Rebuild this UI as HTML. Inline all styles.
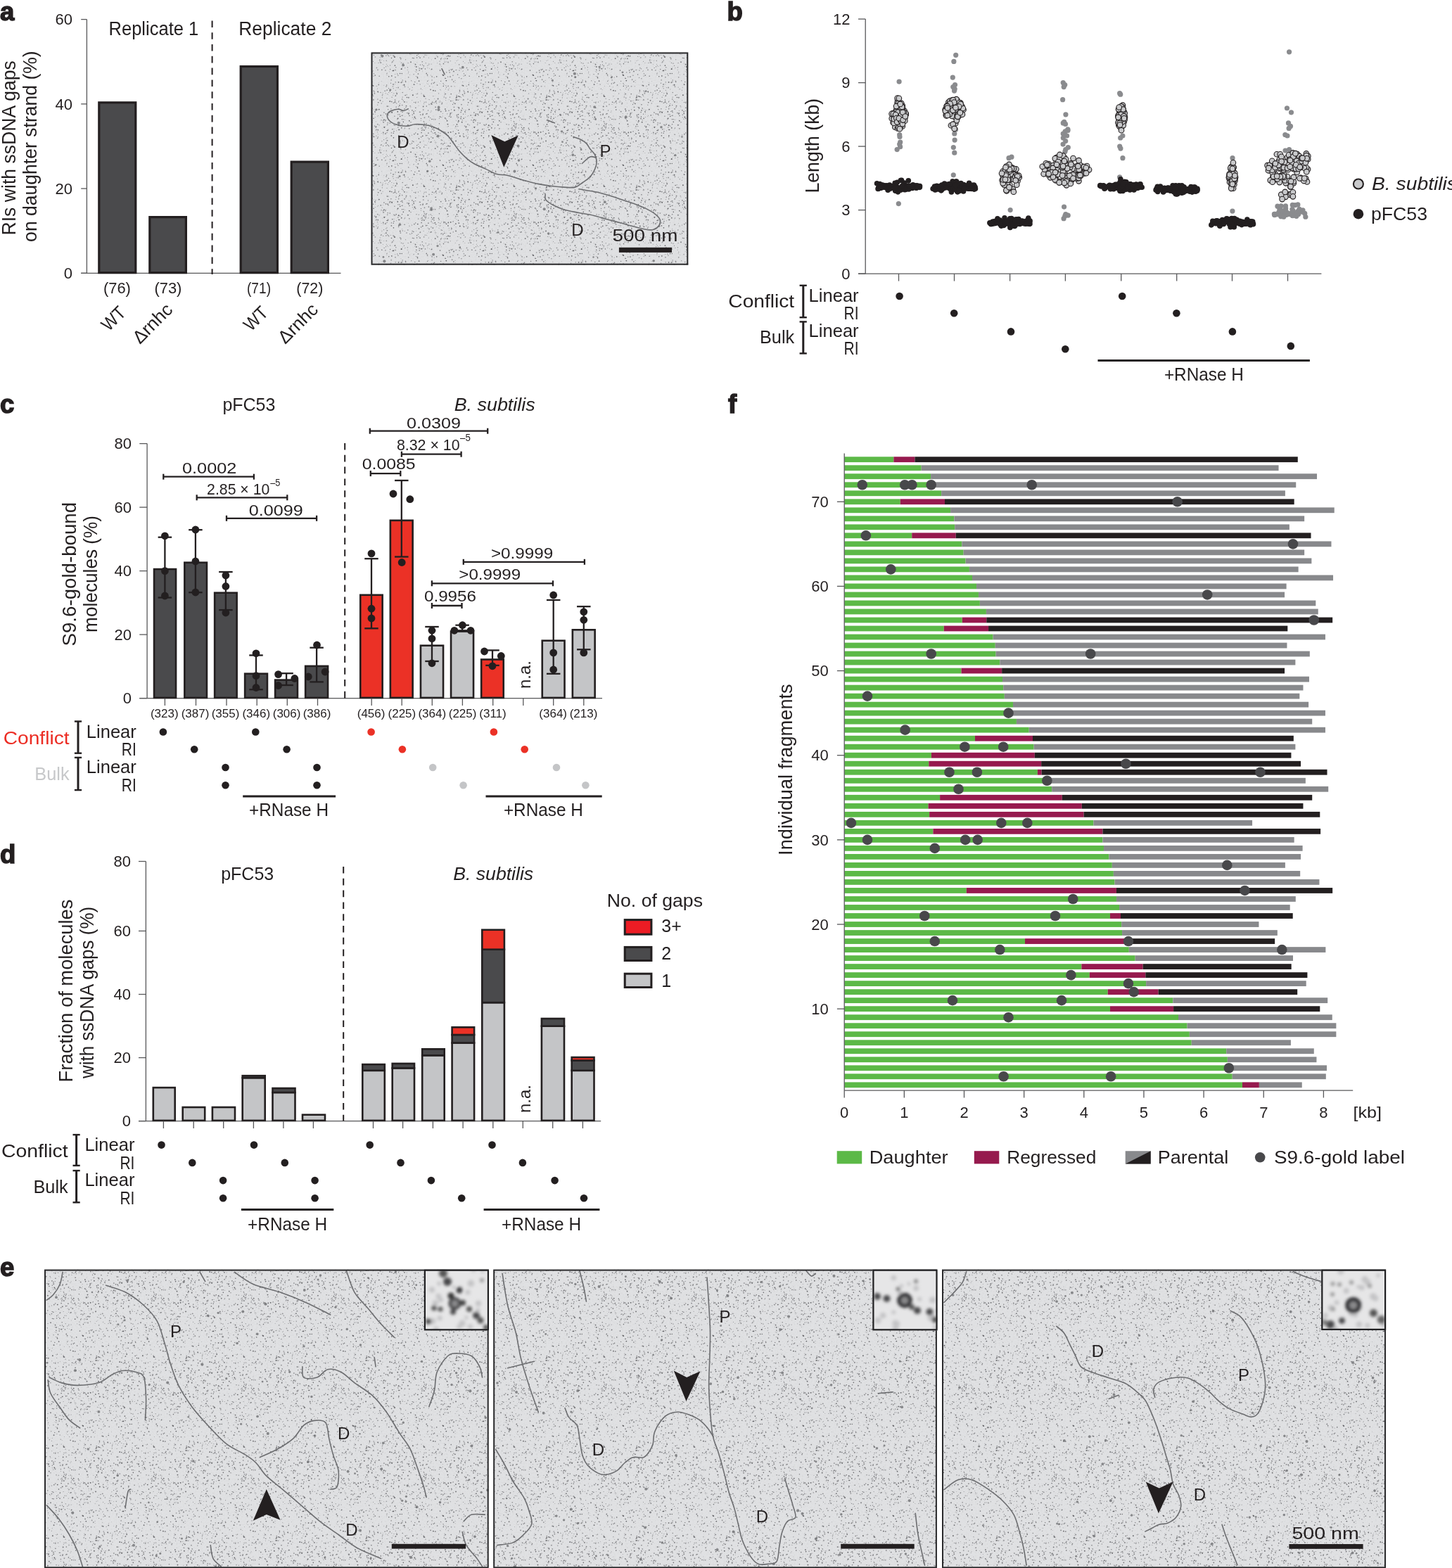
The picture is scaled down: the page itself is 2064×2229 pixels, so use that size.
<!DOCTYPE html>
<html><head><meta charset="utf-8"><title>Figure</title>
<style>html,body{margin:0;padding:0;background:#fff;}svg{display:block;}</style></head>
<body><svg width="2064" height="2229" viewBox="0 0 2064 2229" font-family="'Liberation Sans', Arial, sans-serif" fill="#231f20">
<rect width="2064" height="2229" fill="#fff"/>
<defs><filter id="grain" x="0" y="0" width="100%" height="100%"><feTurbulence type="fractalNoise" baseFrequency="0.45" numOctaves="2" seed="3"/><feColorMatrix type="matrix" values="0 0 0 0 0.5  0 0 0 0 0.5  0 0 0 0 0.5  0 -1.5 0 0 0.8"/></filter><pattern id="spat0" x="0" y="0" width="128" height="128" patternUnits="userSpaceOnUse"><g fill="#3c3c40"><circle cx="79.73" cy="94.95" r="0.84" fill-opacity="0.77"/><circle cx="94.71" cy="118.06" r="0.42" fill-opacity="0.56"/><circle cx="120.75" cy="83.07" r="0.9" fill-opacity="0.4"/><circle cx="60.04" cy="31.56" r="0.7" fill-opacity="0.61"/><circle cx="1.68" cy="27.74" r="0.55" fill-opacity="0.76"/><circle cx="129.68" cy="27.74" r="0.55" fill-opacity="0.76"/><circle cx="98.01" cy="20.43" r="0.84" fill-opacity="0.41"/><circle cx="79.03" cy="16.22" r="0.4" fill-opacity="0.74"/><circle cx="26.81" cy="27.58" r="0.94" fill-opacity="0.74"/><circle cx="37.03" cy="123.07" r="0.7" fill-opacity="0.66"/><circle cx="26.21" cy="120.44" r="0.78" fill-opacity="0.78"/><circle cx="114.4" cy="38.24" r="0.6" fill-opacity="0.42"/><circle cx="18.65" cy="8.34" r="0.57" fill-opacity="0.62"/><circle cx="0.43" cy="86.78" r="0.59" fill-opacity="0.49"/><circle cx="128.43" cy="86.78" r="0.59" fill-opacity="0.49"/><circle cx="104.77" cy="61.54" r="0.57" fill-opacity="0.57"/><circle cx="90.2" cy="7.3" r="0.94" fill-opacity="0.36"/><circle cx="95.97" cy="108.14" r="0.41" fill-opacity="0.7"/><circle cx="46.87" cy="74.05" r="0.4" fill-opacity="0.37"/><circle cx="23.16" cy="122.26" r="0.51" fill-opacity="0.69"/><circle cx="119" cy="120.58" r="0.59" fill-opacity="0.51"/><circle cx="67.16" cy="99.28" r="0.46" fill-opacity="0.69"/><circle cx="102.05" cy="110.04" r="0.42" fill-opacity="0.78"/><circle cx="11.67" cy="43.61" r="0.74" fill-opacity="0.76"/><circle cx="43.51" cy="118.3" r="0.7" fill-opacity="0.49"/><circle cx="40.55" cy="22.72" r="0.44" fill-opacity="0.42"/><circle cx="88.21" cy="127.58" r="0.49" fill-opacity="0.37"/><circle cx="88.21" cy="-0.42" r="0.49" fill-opacity="0.37"/><circle cx="126.3" cy="68.29" r="0.62" fill-opacity="0.46"/><circle cx="-1.7" cy="68.29" r="0.62" fill-opacity="0.46"/><circle cx="76.03" cy="105.77" r="0.65" fill-opacity="0.54"/><circle cx="7.13" cy="117.26" r="0.42" fill-opacity="0.57"/><circle cx="107.32" cy="16.71" r="0.8" fill-opacity="0.78"/><circle cx="80.69" cy="100.87" r="0.46" fill-opacity="0.55"/><circle cx="19.1" cy="108.13" r="0.56" fill-opacity="0.55"/><circle cx="127.91" cy="109.09" r="0.94" fill-opacity="0.55"/><circle cx="-0.09" cy="109.09" r="0.94" fill-opacity="0.55"/><circle cx="62.48" cy="93.38" r="0.66" fill-opacity="0.48"/><circle cx="51.69" cy="18.75" r="0.61" fill-opacity="0.79"/><circle cx="122.86" cy="80.25" r="0.67" fill-opacity="0.5"/><circle cx="11.41" cy="34.86" r="0.83" fill-opacity="0.74"/><circle cx="46.25" cy="100.61" r="0.83" fill-opacity="0.66"/><circle cx="84.99" cy="97.23" r="0.6" fill-opacity="0.67"/><circle cx="35.95" cy="62.17" r="0.82" fill-opacity="0.66"/><circle cx="37.61" cy="121.03" r="0.76" fill-opacity="0.61"/><circle cx="1.48" cy="70.01" r="0.54" fill-opacity="0.65"/><circle cx="129.48" cy="70.01" r="0.54" fill-opacity="0.65"/><circle cx="59.26" cy="104.53" r="0.76" fill-opacity="0.71"/><circle cx="44.53" cy="82.44" r="0.81" fill-opacity="0.72"/><circle cx="44.81" cy="107.89" r="0.88" fill-opacity="0.66"/><circle cx="124.94" cy="122.43" r="0.68" fill-opacity="0.59"/><circle cx="21.27" cy="107.09" r="0.92" fill-opacity="0.56"/><circle cx="88.5" cy="92.12" r="0.8" fill-opacity="0.43"/><circle cx="99.89" cy="74.35" r="0.77" fill-opacity="0.54"/><circle cx="79.84" cy="99.16" r="0.75" fill-opacity="0.67"/><circle cx="3.54" cy="20.48" r="0.64" fill-opacity="0.64"/><circle cx="28.04" cy="87.8" r="0.75" fill-opacity="0.37"/><circle cx="60.36" cy="28.96" r="0.43" fill-opacity="0.41"/><circle cx="40.62" cy="23.24" r="0.51" fill-opacity="0.37"/><circle cx="59.56" cy="48.68" r="0.74" fill-opacity="0.62"/><circle cx="30.44" cy="115.61" r="0.4" fill-opacity="0.53"/><circle cx="35.65" cy="52.49" r="0.46" fill-opacity="0.72"/><circle cx="47.86" cy="4.62" r="0.74" fill-opacity="0.39"/><circle cx="69.79" cy="43.44" r="0.72" fill-opacity="0.78"/><circle cx="104.77" cy="53.65" r="0.85" fill-opacity="0.64"/><circle cx="47.29" cy="18.19" r="0.73" fill-opacity="0.6"/><circle cx="122.52" cy="123.9" r="0.73" fill-opacity="0.51"/><circle cx="114.36" cy="0.12" r="0.46" fill-opacity="0.6"/><circle cx="114.36" cy="128.12" r="0.46" fill-opacity="0.6"/><circle cx="78.74" cy="18.01" r="0.75" fill-opacity="0.75"/><circle cx="48.11" cy="55.26" r="0.52" fill-opacity="0.48"/><circle cx="124.47" cy="48.61" r="0.93" fill-opacity="0.76"/><circle cx="76.26" cy="33.26" r="0.94" fill-opacity="0.57"/><circle cx="53.18" cy="40.85" r="0.94" fill-opacity="0.57"/><circle cx="36.66" cy="61.05" r="0.47" fill-opacity="0.63"/><circle cx="56.76" cy="37.52" r="0.83" fill-opacity="0.72"/><circle cx="1.69" cy="68.17" r="0.55" fill-opacity="0.77"/><circle cx="129.69" cy="68.17" r="0.55" fill-opacity="0.77"/><circle cx="100.08" cy="31.44" r="0.55" fill-opacity="0.42"/><circle cx="126.57" cy="37.53" r="0.73" fill-opacity="0.56"/><circle cx="-1.43" cy="37.53" r="0.73" fill-opacity="0.56"/><circle cx="82.54" cy="77.29" r="0.81" fill-opacity="0.4"/><circle cx="97.33" cy="38.49" r="0.69" fill-opacity="0.5"/><circle cx="37.99" cy="67.82" r="0.66" fill-opacity="0.51"/><circle cx="95.36" cy="75.62" r="0.42" fill-opacity="0.46"/><circle cx="58.32" cy="117.32" r="0.89" fill-opacity="0.6"/><circle cx="1.86" cy="99.63" r="0.64" fill-opacity="0.61"/><circle cx="129.86" cy="99.63" r="0.64" fill-opacity="0.61"/><circle cx="90.65" cy="80.93" r="0.67" fill-opacity="0.76"/><circle cx="49.34" cy="50.16" r="0.87" fill-opacity="0.44"/><circle cx="37.95" cy="106.24" r="0.44" fill-opacity="0.73"/><circle cx="88.91" cy="55.4" r="0.56" fill-opacity="0.7"/><circle cx="116.57" cy="18.26" r="0.66" fill-opacity="0.6"/><circle cx="63.7" cy="42.33" r="0.48" fill-opacity="0.61"/><circle cx="103.91" cy="8.76" r="0.53" fill-opacity="0.72"/><circle cx="101.34" cy="84.94" r="0.41" fill-opacity="0.68"/><circle cx="125.27" cy="127.79" r="0.79" fill-opacity="0.37"/><circle cx="125.27" cy="-0.21" r="0.79" fill-opacity="0.37"/><circle cx="107.78" cy="28.06" r="0.76" fill-opacity="0.78"/><circle cx="91.19" cy="17.23" r="0.56" fill-opacity="0.76"/><circle cx="19.17" cy="78.16" r="0.63" fill-opacity="0.42"/><circle cx="79.67" cy="5.58" r="0.46" fill-opacity="0.52"/><circle cx="9.22" cy="7.37" r="0.72" fill-opacity="0.68"/><circle cx="112.44" cy="17.19" r="0.64" fill-opacity="0.49"/><circle cx="76.83" cy="62.67" r="0.92" fill-opacity="0.52"/><circle cx="7.14" cy="89.25" r="0.48" fill-opacity="0.63"/><circle cx="64.75" cy="116.53" r="0.71" fill-opacity="0.63"/><circle cx="33.7" cy="70.61" r="0.54" fill-opacity="0.69"/><circle cx="66.18" cy="17.12" r="0.53" fill-opacity="0.52"/><circle cx="94.3" cy="22.95" r="0.79" fill-opacity="0.64"/><circle cx="10.91" cy="85.5" r="0.45" fill-opacity="0.41"/><circle cx="76.03" cy="30.54" r="0.88" fill-opacity="0.57"/><circle cx="41.38" cy="101.95" r="0.42" fill-opacity="0.68"/><circle cx="6.87" cy="19.3" r="0.92" fill-opacity="0.66"/><circle cx="28.56" cy="14.86" r="0.93" fill-opacity="0.65"/><circle cx="105.04" cy="17.89" r="0.74" fill-opacity="0.51"/><circle cx="30.08" cy="42.66" r="0.74" fill-opacity="0.51"/><circle cx="49.38" cy="17.46" r="0.86" fill-opacity="0.64"/><circle cx="102.98" cy="55.47" r="0.87" fill-opacity="0.58"/><circle cx="75.86" cy="73.38" r="0.81" fill-opacity="0.53"/><circle cx="12.42" cy="4.25" r="0.51" fill-opacity="0.37"/><circle cx="113.82" cy="61.57" r="0.82" fill-opacity="0.35"/><circle cx="60.18" cy="113.89" r="0.74" fill-opacity="0.54"/><circle cx="59.59" cy="12.77" r="0.49" fill-opacity="0.42"/><circle cx="47.95" cy="49.36" r="0.88" fill-opacity="0.42"/><circle cx="32.52" cy="35.51" r="0.49" fill-opacity="0.48"/><circle cx="30.1" cy="61.7" r="0.42" fill-opacity="0.77"/><circle cx="47.23" cy="120.06" r="0.78" fill-opacity="0.65"/><circle cx="60.38" cy="121.01" r="0.46" fill-opacity="0.65"/><circle cx="37.26" cy="86.33" r="0.8" fill-opacity="0.42"/><circle cx="25.73" cy="3.19" r="0.53" fill-opacity="0.39"/><circle cx="51.34" cy="124.62" r="0.6" fill-opacity="0.49"/><circle cx="59.91" cy="36.24" r="0.8" fill-opacity="0.67"/><circle cx="20.91" cy="30.79" r="0.77" fill-opacity="0.77"/><circle cx="82.67" cy="55.12" r="0.94" fill-opacity="0.35"/><circle cx="7.79" cy="99.75" r="0.63" fill-opacity="0.37"/><circle cx="70.2" cy="126.67" r="0.69" fill-opacity="0.51"/><circle cx="70.2" cy="-1.33" r="0.69" fill-opacity="0.51"/><circle cx="12.01" cy="9.12" r="0.89" fill-opacity="0.57"/><circle cx="119.77" cy="6.88" r="0.53" fill-opacity="0.37"/><circle cx="50.86" cy="7.7" r="0.54" fill-opacity="0.53"/><circle cx="39.16" cy="6.57" r="0.42" fill-opacity="0.79"/><circle cx="22.96" cy="65.1" r="0.62" fill-opacity="0.59"/><circle cx="10.8" cy="40.18" r="0.46" fill-opacity="0.59"/><circle cx="117.93" cy="76.58" r="0.87" fill-opacity="0.45"/><circle cx="2.23" cy="69.07" r="0.67" fill-opacity="0.61"/><circle cx="48.21" cy="80.01" r="0.8" fill-opacity="0.76"/><circle cx="39.37" cy="57.48" r="0.85" fill-opacity="0.45"/><circle cx="14.81" cy="39.9" r="0.45" fill-opacity="0.7"/><circle cx="104.89" cy="40.05" r="0.47" fill-opacity="0.39"/><circle cx="31.34" cy="10.79" r="0.64" fill-opacity="0.61"/><circle cx="31.41" cy="7.86" r="0.79" fill-opacity="0.37"/><circle cx="25.58" cy="36.61" r="0.61" fill-opacity="0.39"/><circle cx="53.83" cy="40.18" r="0.81" fill-opacity="0.6"/><circle cx="114.7" cy="83.72" r="0.82" fill-opacity="0.61"/><circle cx="56.6" cy="104.55" r="0.76" fill-opacity="0.78"/><circle cx="93.19" cy="89.75" r="0.55" fill-opacity="0.72"/><circle cx="48.95" cy="16.67" r="0.44" fill-opacity="0.43"/><circle cx="33.61" cy="86.51" r="0.56" fill-opacity="0.38"/><circle cx="97.76" cy="71.32" r="0.42" fill-opacity="0.37"/><circle cx="16.66" cy="45.71" r="0.87" fill-opacity="0.78"/><circle cx="78.34" cy="29.58" r="0.64" fill-opacity="0.51"/><circle cx="42.29" cy="1.59" r="0.72" fill-opacity="0.72"/><circle cx="42.29" cy="129.59" r="0.72" fill-opacity="0.72"/><circle cx="93.03" cy="12.2" r="0.69" fill-opacity="0.43"/><circle cx="90.81" cy="57.12" r="0.92" fill-opacity="0.71"/><circle cx="15.13" cy="40.59" r="0.9" fill-opacity="0.56"/><circle cx="55.57" cy="56.5" r="0.82" fill-opacity="0.77"/><circle cx="68.17" cy="124.12" r="0.73" fill-opacity="0.4"/><circle cx="104.23" cy="53.69" r="0.43" fill-opacity="0.79"/><circle cx="4.21" cy="73.85" r="0.67" fill-opacity="0.75"/><circle cx="50.27" cy="27.6" r="0.55" fill-opacity="0.44"/><circle cx="71.99" cy="45.69" r="0.81" fill-opacity="0.46"/><circle cx="45.03" cy="31.77" r="0.94" fill-opacity="0.73"/><circle cx="108.78" cy="79.12" r="0.62" fill-opacity="0.41"/><circle cx="106.45" cy="62.73" r="0.42" fill-opacity="0.43"/><circle cx="12.64" cy="91.86" r="0.9" fill-opacity="0.44"/><circle cx="102.02" cy="41.48" r="0.78" fill-opacity="0.74"/><circle cx="79.76" cy="102.45" r="0.61" fill-opacity="0.35"/><circle cx="65.5" cy="75.09" r="0.5" fill-opacity="0.53"/><circle cx="40.61" cy="3.46" r="0.57" fill-opacity="0.52"/><circle cx="60.94" cy="90.03" r="0.62" fill-opacity="0.79"/><circle cx="104.39" cy="118.26" r="0.78" fill-opacity="0.65"/><circle cx="68.7" cy="102.23" r="0.6" fill-opacity="0.62"/><circle cx="86.97" cy="66.84" r="0.56" fill-opacity="0.38"/><circle cx="11.17" cy="45.55" r="0.72" fill-opacity="0.69"/><circle cx="91.45" cy="39.27" r="0.91" fill-opacity="0.47"/><circle cx="91.66" cy="9.22" r="0.81" fill-opacity="0.65"/><circle cx="122.48" cy="114.84" r="0.78" fill-opacity="0.73"/><circle cx="94.54" cy="78.21" r="0.51" fill-opacity="0.58"/><circle cx="114.7" cy="30.6" r="0.94" fill-opacity="0.59"/><circle cx="50.36" cy="0.38" r="0.61" fill-opacity="0.43"/><circle cx="50.36" cy="128.38" r="0.61" fill-opacity="0.43"/><circle cx="83.6" cy="115.14" r="0.9" fill-opacity="0.63"/><circle cx="49.49" cy="13.94" r="0.78" fill-opacity="0.6"/><circle cx="91.55" cy="47.87" r="0.89" fill-opacity="0.45"/><circle cx="39.11" cy="34.26" r="0.74" fill-opacity="0.75"/><circle cx="21.43" cy="81" r="0.82" fill-opacity="0.45"/><circle cx="8.02" cy="72.43" r="0.86" fill-opacity="0.75"/><circle cx="93.19" cy="53.36" r="0.63" fill-opacity="0.59"/><circle cx="115.81" cy="38.7" r="0.55" fill-opacity="0.62"/><circle cx="123.72" cy="23.97" r="0.42" fill-opacity="0.4"/><circle cx="72.01" cy="77.24" r="0.5" fill-opacity="0.44"/><circle cx="76.1" cy="82.73" r="0.78" fill-opacity="0.68"/><circle cx="7.86" cy="62.04" r="0.86" fill-opacity="0.78"/><circle cx="40.76" cy="108.84" r="0.75" fill-opacity="0.77"/><circle cx="29.32" cy="89.19" r="0.86" fill-opacity="0.56"/><circle cx="12.9" cy="24.77" r="0.49" fill-opacity="0.39"/><circle cx="19.45" cy="78.81" r="0.46" fill-opacity="0.69"/><circle cx="94.24" cy="104.5" r="0.84" fill-opacity="0.67"/><circle cx="118.28" cy="122.48" r="0.74" fill-opacity="0.78"/><circle cx="13.23" cy="13.17" r="0.44" fill-opacity="0.44"/><circle cx="47.93" cy="58.71" r="0.77" fill-opacity="0.68"/><circle cx="10.72" cy="51.62" r="0.7" fill-opacity="0.52"/><circle cx="15.05" cy="76.43" r="0.61" fill-opacity="0.66"/><circle cx="63.43" cy="123.23" r="0.92" fill-opacity="0.38"/><circle cx="97.25" cy="92.32" r="0.56" fill-opacity="0.4"/><circle cx="61.31" cy="45.33" r="0.81" fill-opacity="0.76"/><circle cx="48.91" cy="37.2" r="0.67" fill-opacity="0.66"/><circle cx="100.99" cy="73.69" r="0.56" fill-opacity="0.5"/><circle cx="108.55" cy="66.46" r="0.43" fill-opacity="0.54"/><circle cx="30.44" cy="85.27" r="0.44" fill-opacity="0.47"/><circle cx="12.29" cy="61.13" r="0.94" fill-opacity="0.59"/><circle cx="49.44" cy="119.54" r="0.45" fill-opacity="0.51"/><circle cx="103.78" cy="0.66" r="0.82" fill-opacity="0.51"/><circle cx="103.78" cy="128.66" r="0.82" fill-opacity="0.51"/><circle cx="2.1" cy="32.11" r="0.65" fill-opacity="0.52"/><circle cx="66.15" cy="6.8" r="0.52" fill-opacity="0.79"/><circle cx="56.66" cy="60.4" r="0.45" fill-opacity="0.48"/><circle cx="122.21" cy="87.94" r="0.68" fill-opacity="0.37"/><circle cx="50.27" cy="99.64" r="0.64" fill-opacity="0.62"/><circle cx="115.5" cy="82.58" r="0.75" fill-opacity="0.37"/><circle cx="3.05" cy="98.5" r="0.63" fill-opacity="0.74"/><circle cx="105.69" cy="117.17" r="0.61" fill-opacity="0.8"/><circle cx="96.8" cy="114.15" r="0.48" fill-opacity="0.7"/><circle cx="54.03" cy="124.43" r="0.95" fill-opacity="0.45"/><circle cx="53.94" cy="34.68" r="0.66" fill-opacity="0.48"/><circle cx="85.31" cy="15.79" r="0.49" fill-opacity="0.56"/><circle cx="9.46" cy="48.79" r="0.89" fill-opacity="0.75"/><circle cx="25.16" cy="2.37" r="0.86" fill-opacity="0.78"/><circle cx="76.66" cy="17.45" r="0.53" fill-opacity="0.76"/><circle cx="120.01" cy="3.98" r="0.5" fill-opacity="0.54"/><circle cx="34.14" cy="96.5" r="0.61" fill-opacity="0.7"/><circle cx="19.45" cy="66.35" r="0.94" fill-opacity="0.67"/><circle cx="11.53" cy="14.21" r="0.75" fill-opacity="0.52"/><circle cx="47.19" cy="61.14" r="0.72" fill-opacity="0.78"/><circle cx="30.84" cy="72.79" r="0.54" fill-opacity="0.6"/><circle cx="93.63" cy="17.1" r="0.66" fill-opacity="0.67"/><circle cx="1.04" cy="98.7" r="0.63" fill-opacity="0.58"/><circle cx="129.04" cy="98.7" r="0.63" fill-opacity="0.58"/><circle cx="78.14" cy="101.49" r="0.43" fill-opacity="0.58"/><circle cx="4.9" cy="49.34" r="0.59" fill-opacity="0.36"/><circle cx="38.11" cy="57.6" r="0.76" fill-opacity="0.77"/><circle cx="47.42" cy="67.85" r="0.79" fill-opacity="0.77"/><circle cx="121.56" cy="126.47" r="0.57" fill-opacity="0.42"/><circle cx="121.56" cy="-1.53" r="0.57" fill-opacity="0.42"/><circle cx="119.28" cy="9.9" r="0.65" fill-opacity="0.68"/><circle cx="67.68" cy="49.76" r="0.91" fill-opacity="0.48"/><circle cx="70.62" cy="106.2" r="0.48" fill-opacity="0.51"/><circle cx="63.27" cy="72.44" r="0.51" fill-opacity="0.55"/><circle cx="7.66" cy="11.25" r="0.59" fill-opacity="0.41"/><circle cx="123.84" cy="33.7" r="0.55" fill-opacity="0.7"/><circle cx="94.87" cy="33.55" r="0.86" fill-opacity="0.63"/><circle cx="49.74" cy="80.49" r="0.54" fill-opacity="0.47"/><circle cx="112.19" cy="56.15" r="0.89" fill-opacity="0.43"/><circle cx="17.57" cy="6.65" r="0.81" fill-opacity="0.6"/><circle cx="1.23" cy="5.54" r="0.85" fill-opacity="0.57"/><circle cx="129.23" cy="5.54" r="0.85" fill-opacity="0.57"/><circle cx="111.53" cy="5.09" r="0.72" fill-opacity="0.4"/><circle cx="92.3" cy="78.25" r="0.74" fill-opacity="0.45"/><circle cx="121.47" cy="14.21" r="0.44" fill-opacity="0.66"/><circle cx="11.88" cy="8.55" r="0.65" fill-opacity="0.64"/><circle cx="114.18" cy="92.27" r="0.44" fill-opacity="0.64"/><circle cx="107.98" cy="15.43" r="0.81" fill-opacity="0.47"/><circle cx="38.23" cy="0.19" r="0.82" fill-opacity="0.58"/><circle cx="38.23" cy="128.19" r="0.82" fill-opacity="0.58"/><circle cx="115.45" cy="59.59" r="0.49" fill-opacity="0.45"/><circle cx="33.71" cy="121.19" r="0.51" fill-opacity="0.39"/><circle cx="45.15" cy="10.13" r="0.63" fill-opacity="0.63"/><circle cx="83.28" cy="22.38" r="0.48" fill-opacity="0.57"/><circle cx="87.96" cy="57.24" r="0.72" fill-opacity="0.76"/><circle cx="18.57" cy="34.28" r="0.67" fill-opacity="0.59"/><circle cx="115.22" cy="71.08" r="0.76" fill-opacity="0.54"/><circle cx="100.39" cy="107" r="0.56" fill-opacity="0.4"/><circle cx="33.18" cy="45.77" r="0.89" fill-opacity="0.47"/><circle cx="80.56" cy="82" r="0.93" fill-opacity="0.4"/><circle cx="98.54" cy="43.06" r="0.46" fill-opacity="0.63"/><circle cx="108.08" cy="74.56" r="0.43" fill-opacity="0.79"/><circle cx="49.17" cy="81.45" r="0.8" fill-opacity="0.47"/><circle cx="52.27" cy="42.15" r="0.45" fill-opacity="0.38"/><circle cx="91.76" cy="52.55" r="0.88" fill-opacity="0.38"/><circle cx="38.58" cy="23.06" r="0.92" fill-opacity="0.71"/><circle cx="114.73" cy="64.82" r="0.46" fill-opacity="0.54"/><circle cx="28.95" cy="3.44" r="0.71" fill-opacity="0.48"/><circle cx="13.81" cy="65.48" r="0.91" fill-opacity="0.78"/><circle cx="59.66" cy="13.15" r="0.82" fill-opacity="0.4"/><circle cx="68.79" cy="10.71" r="0.94" fill-opacity="0.59"/><circle cx="56" cy="34.84" r="0.7" fill-opacity="0.79"/><circle cx="54.77" cy="26.78" r="0.68" fill-opacity="0.76"/><circle cx="48.87" cy="81.13" r="0.91" fill-opacity="0.5"/><circle cx="103.79" cy="67.71" r="0.48" fill-opacity="0.37"/><circle cx="120.19" cy="59.65" r="0.64" fill-opacity="0.76"/><circle cx="73.47" cy="64.02" r="0.56" fill-opacity="0.68"/><circle cx="32.8" cy="60.23" r="0.82" fill-opacity="0.62"/><circle cx="17.18" cy="25.95" r="0.78" fill-opacity="0.68"/><circle cx="13.14" cy="127.68" r="0.47" fill-opacity="0.43"/><circle cx="13.14" cy="-0.32" r="0.47" fill-opacity="0.43"/><circle cx="11.49" cy="57.14" r="0.74" fill-opacity="0.74"/><circle cx="20.89" cy="89.44" r="0.46" fill-opacity="0.61"/><circle cx="32.24" cy="45.6" r="0.43" fill-opacity="0.67"/><circle cx="15.65" cy="97.81" r="0.59" fill-opacity="0.62"/><circle cx="81.8" cy="62.55" r="0.88" fill-opacity="0.76"/><circle cx="36.11" cy="42.73" r="0.88" fill-opacity="0.41"/><circle cx="53.77" cy="53.07" r="0.94" fill-opacity="0.41"/><circle cx="83.85" cy="96.9" r="0.8" fill-opacity="0.35"/><circle cx="120.79" cy="39.99" r="0.87" fill-opacity="0.65"/><circle cx="53.86" cy="107.22" r="0.77" fill-opacity="0.5"/><circle cx="93.67" cy="64.66" r="0.79" fill-opacity="0.63"/><circle cx="101.89" cy="20.39" r="0.67" fill-opacity="0.35"/><circle cx="101.22" cy="98.75" r="0.86" fill-opacity="0.37"/><circle cx="68.51" cy="61.26" r="0.47" fill-opacity="0.44"/><circle cx="124.72" cy="109.14" r="0.53" fill-opacity="0.72"/><circle cx="83.33" cy="49.27" r="0.75" fill-opacity="0.45"/><circle cx="35.04" cy="1.29" r="0.76" fill-opacity="0.61"/><circle cx="35.04" cy="129.29" r="0.76" fill-opacity="0.61"/><circle cx="95.16" cy="64.48" r="0.64" fill-opacity="0.49"/><circle cx="94.12" cy="47.72" r="0.73" fill-opacity="0.69"/><circle cx="56.9" cy="87.83" r="0.43" fill-opacity="0.47"/><circle cx="107.6" cy="18.87" r="0.43" fill-opacity="0.36"/><circle cx="98.06" cy="13.61" r="0.65" fill-opacity="0.55"/><circle cx="102.77" cy="61.01" r="0.69" fill-opacity="0.36"/><circle cx="101.79" cy="98.23" r="0.74" fill-opacity="0.73"/><circle cx="78.6" cy="91.65" r="0.87" fill-opacity="0.63"/><circle cx="2.6" cy="113.22" r="0.94" fill-opacity="0.44"/><circle cx="8.46" cy="43.51" r="0.46" fill-opacity="0.52"/><circle cx="11.42" cy="28.18" r="0.4" fill-opacity="0.54"/><circle cx="38.4" cy="93.28" r="0.61" fill-opacity="0.42"/><circle cx="122.03" cy="114.49" r="0.78" fill-opacity="0.45"/><circle cx="51.54" cy="57.73" r="0.62" fill-opacity="0.36"/><circle cx="58.33" cy="98.26" r="0.78" fill-opacity="0.74"/><circle cx="87.42" cy="97.63" r="0.88" fill-opacity="0.76"/><circle cx="101.51" cy="53.26" r="0.76" fill-opacity="0.65"/><circle cx="112.99" cy="91.34" r="0.64" fill-opacity="0.44"/><circle cx="41.92" cy="32.04" r="0.78" fill-opacity="0.7"/><circle cx="24.59" cy="68.28" r="0.86" fill-opacity="0.51"/><circle cx="12.12" cy="77.52" r="0.6" fill-opacity="0.41"/><circle cx="36.87" cy="0.88" r="0.48" fill-opacity="0.54"/><circle cx="36.87" cy="128.88" r="0.48" fill-opacity="0.54"/><circle cx="13.43" cy="0.77" r="0.7" fill-opacity="0.78"/><circle cx="13.43" cy="128.77" r="0.7" fill-opacity="0.78"/><circle cx="106.75" cy="41.75" r="0.91" fill-opacity="0.39"/><circle cx="19.25" cy="0.87" r="0.43" fill-opacity="0.62"/><circle cx="19.25" cy="128.87" r="0.43" fill-opacity="0.62"/><circle cx="96.89" cy="61.14" r="0.84" fill-opacity="0.55"/><circle cx="117.6" cy="77.83" r="0.7" fill-opacity="0.43"/><circle cx="54.59" cy="56.36" r="0.85" fill-opacity="0.45"/><circle cx="37.72" cy="104.53" r="0.44" fill-opacity="0.59"/><circle cx="28.11" cy="85.14" r="0.73" fill-opacity="0.39"/><circle cx="93.47" cy="52.13" r="0.58" fill-opacity="0.74"/><circle cx="99.68" cy="39.62" r="0.77" fill-opacity="0.41"/><circle cx="66.42" cy="10.56" r="0.75" fill-opacity="0.76"/><circle cx="81.45" cy="5.21" r="0.68" fill-opacity="0.56"/><circle cx="56.71" cy="19.35" r="0.55" fill-opacity="0.55"/><circle cx="9.1" cy="86.32" r="0.53" fill-opacity="0.48"/><circle cx="11.63" cy="38.73" r="0.91" fill-opacity="0.48"/><circle cx="12.28" cy="44.26" r="0.92" fill-opacity="0.39"/><circle cx="43.84" cy="26.75" r="0.77" fill-opacity="0.56"/><circle cx="12.58" cy="110.37" r="0.58" fill-opacity="0.66"/><circle cx="57.96" cy="111.58" r="0.43" fill-opacity="0.45"/><circle cx="36.56" cy="33.84" r="0.85" fill-opacity="0.58"/><circle cx="44.38" cy="64.88" r="0.87" fill-opacity="0.61"/><circle cx="57.78" cy="84.08" r="0.74" fill-opacity="0.53"/><circle cx="54.57" cy="16.86" r="0.64" fill-opacity="0.75"/><circle cx="39.17" cy="46.75" r="0.73" fill-opacity="0.62"/><circle cx="22.45" cy="57.08" r="0.8" fill-opacity="0.37"/><circle cx="13.92" cy="96.69" r="0.9" fill-opacity="0.38"/><circle cx="10.42" cy="80.2" r="0.56" fill-opacity="0.65"/><circle cx="4.38" cy="58.44" r="0.49" fill-opacity="0.5"/><circle cx="88.77" cy="65.29" r="0.87" fill-opacity="0.73"/><circle cx="79.28" cy="108.48" r="0.5" fill-opacity="0.56"/><circle cx="40.9" cy="80" r="0.46" fill-opacity="0.75"/><circle cx="47.42" cy="100.32" r="0.92" fill-opacity="0.77"/><circle cx="49.95" cy="109.68" r="0.95" fill-opacity="0.41"/><circle cx="95.68" cy="93.08" r="0.65" fill-opacity="0.48"/><circle cx="22.19" cy="52.69" r="0.91" fill-opacity="0.53"/><circle cx="32.69" cy="79.29" r="0.64" fill-opacity="0.63"/><circle cx="58.18" cy="36.66" r="0.42" fill-opacity="0.72"/><circle cx="84.35" cy="31.19" r="0.67" fill-opacity="0.61"/><circle cx="64.46" cy="115.32" r="0.83" fill-opacity="0.49"/><circle cx="43.36" cy="78.31" r="0.49" fill-opacity="0.77"/><circle cx="5.81" cy="63.94" r="0.55" fill-opacity="0.59"/><circle cx="5.84" cy="28.7" r="0.94" fill-opacity="0.7"/><circle cx="28.29" cy="58.37" r="0.42" fill-opacity="0.4"/><circle cx="24.56" cy="125.99" r="0.57" fill-opacity="0.46"/><circle cx="8.36" cy="14.06" r="0.95" fill-opacity="0.68"/><circle cx="117.8" cy="106.97" r="0.83" fill-opacity="0.46"/><circle cx="21.64" cy="34.55" r="0.44" fill-opacity="0.43"/><circle cx="92.15" cy="62.85" r="0.41" fill-opacity="0.49"/><circle cx="108.74" cy="108.92" r="0.8" fill-opacity="0.68"/><circle cx="116.71" cy="71.32" r="0.61" fill-opacity="0.61"/><circle cx="36.15" cy="4.67" r="0.54" fill-opacity="0.56"/><circle cx="15.38" cy="10.32" r="0.54" fill-opacity="0.52"/><circle cx="122.51" cy="62.33" r="0.86" fill-opacity="0.68"/><circle cx="75.83" cy="41.24" r="0.62" fill-opacity="0.49"/><circle cx="81.19" cy="109.45" r="0.83" fill-opacity="0.48"/><circle cx="19.14" cy="1.14" r="0.72" fill-opacity="0.45"/><circle cx="19.14" cy="129.14" r="0.72" fill-opacity="0.45"/><circle cx="0.71" cy="38.66" r="0.53" fill-opacity="0.44"/><circle cx="128.71" cy="38.66" r="0.53" fill-opacity="0.44"/><circle cx="85.04" cy="74.8" r="0.55" fill-opacity="0.68"/><circle cx="26.43" cy="117.92" r="0.47" fill-opacity="0.62"/><circle cx="90.23" cy="93.75" r="0.67" fill-opacity="0.74"/><circle cx="80.53" cy="88.42" r="0.44" fill-opacity="0.43"/><circle cx="59.62" cy="69.79" r="0.45" fill-opacity="0.68"/><circle cx="44.36" cy="60.82" r="0.69" fill-opacity="0.73"/><circle cx="38.67" cy="71.65" r="0.73" fill-opacity="0.64"/><circle cx="39.96" cy="35.72" r="0.66" fill-opacity="0.62"/><circle cx="82.52" cy="17.12" r="0.65" fill-opacity="0.6"/><circle cx="24.93" cy="13.08" r="0.91" fill-opacity="0.36"/><circle cx="63.83" cy="37.72" r="0.42" fill-opacity="0.47"/><circle cx="20.66" cy="51.22" r="0.9" fill-opacity="0.39"/><circle cx="45.01" cy="88.96" r="0.74" fill-opacity="0.36"/><circle cx="29.28" cy="35.98" r="0.89" fill-opacity="0.55"/><circle cx="32.97" cy="61.46" r="0.67" fill-opacity="0.42"/><circle cx="85.39" cy="92.28" r="0.66" fill-opacity="0.59"/><circle cx="98.63" cy="122.41" r="0.74" fill-opacity="0.37"/><circle cx="64.65" cy="84.77" r="0.58" fill-opacity="0.66"/><circle cx="47.08" cy="78.9" r="0.74" fill-opacity="0.65"/><circle cx="118.46" cy="90.6" r="0.79" fill-opacity="0.67"/><circle cx="29.52" cy="78.61" r="0.74" fill-opacity="0.38"/><circle cx="96.55" cy="29.03" r="0.67" fill-opacity="0.59"/><circle cx="92.44" cy="97.95" r="0.66" fill-opacity="0.77"/><circle cx="56.7" cy="72.51" r="0.95" fill-opacity="0.5"/><circle cx="91.39" cy="122.41" r="0.45" fill-opacity="0.7"/><circle cx="83.44" cy="69.08" r="0.83" fill-opacity="0.74"/><circle cx="18.77" cy="62.28" r="0.74" fill-opacity="0.66"/><circle cx="122.68" cy="102.77" r="0.86" fill-opacity="0.38"/><circle cx="54.57" cy="116.91" r="0.92" fill-opacity="0.69"/><circle cx="42.7" cy="98.54" r="0.69" fill-opacity="0.65"/><circle cx="81.6" cy="110.75" r="0.79" fill-opacity="0.79"/><circle cx="63.17" cy="63.17" r="0.76" fill-opacity="0.6"/><circle cx="6.28" cy="122.79" r="0.58" fill-opacity="0.57"/><circle cx="5.42" cy="24.37" r="0.91" fill-opacity="0.47"/><circle cx="38.22" cy="103.92" r="0.53" fill-opacity="0.65"/><circle cx="72.75" cy="114.74" r="0.66" fill-opacity="0.5"/><circle cx="33.16" cy="46.57" r="0.4" fill-opacity="0.4"/><circle cx="19.05" cy="40.27" r="0.82" fill-opacity="0.77"/><circle cx="45.35" cy="31.98" r="0.56" fill-opacity="0.63"/><circle cx="61.27" cy="15.04" r="0.69" fill-opacity="0.47"/><circle cx="18.44" cy="100.51" r="0.46" fill-opacity="0.55"/><circle cx="98.04" cy="69.48" r="0.88" fill-opacity="0.49"/><circle cx="121.13" cy="5.58" r="0.89" fill-opacity="0.54"/><circle cx="0.4" cy="33.21" r="0.94" fill-opacity="0.67"/><circle cx="128.4" cy="33.21" r="0.94" fill-opacity="0.67"/><circle cx="94.37" cy="103.82" r="0.4" fill-opacity="0.49"/><circle cx="59.61" cy="116.38" r="0.9" fill-opacity="0.42"/><circle cx="126.38" cy="70.95" r="0.57" fill-opacity="0.39"/><circle cx="-1.62" cy="70.95" r="0.57" fill-opacity="0.39"/><circle cx="54.62" cy="66.64" r="0.65" fill-opacity="0.49"/><circle cx="121.31" cy="60.84" r="0.57" fill-opacity="0.7"/><circle cx="31.27" cy="54.12" r="0.46" fill-opacity="0.46"/><circle cx="127.61" cy="79.52" r="0.69" fill-opacity="0.65"/><circle cx="-0.39" cy="79.52" r="0.69" fill-opacity="0.65"/><circle cx="86.04" cy="66.73" r="0.6" fill-opacity="0.42"/><circle cx="3.77" cy="15.48" r="0.62" fill-opacity="0.35"/><circle cx="86.35" cy="43.17" r="0.53" fill-opacity="0.49"/><circle cx="63.08" cy="26.83" r="0.87" fill-opacity="0.57"/><circle cx="8.78" cy="10.91" r="0.89" fill-opacity="0.61"/><circle cx="37.29" cy="91.27" r="0.43" fill-opacity="0.75"/><circle cx="119.87" cy="85.04" r="0.43" fill-opacity="0.54"/><circle cx="107.12" cy="75.96" r="0.51" fill-opacity="0.46"/><circle cx="8.15" cy="66.79" r="0.5" fill-opacity="0.55"/><circle cx="114.63" cy="115.31" r="0.67" fill-opacity="0.7"/><circle cx="17.16" cy="121.31" r="0.88" fill-opacity="0.57"/><circle cx="113.41" cy="38.05" r="0.94" fill-opacity="0.5"/><circle cx="118.32" cy="107.15" r="0.91" fill-opacity="0.68"/><circle cx="9.39" cy="35.79" r="0.76" fill-opacity="0.76"/><circle cx="87.15" cy="5" r="0.59" fill-opacity="0.51"/><circle cx="21.91" cy="28.8" r="0.68" fill-opacity="0.52"/><circle cx="34.18" cy="52.74" r="0.92" fill-opacity="0.62"/><circle cx="96.24" cy="119.38" r="0.42" fill-opacity="0.75"/><circle cx="12.18" cy="25.12" r="0.81" fill-opacity="0.69"/><circle cx="78.7" cy="60.94" r="0.8" fill-opacity="0.54"/><circle cx="24.88" cy="28.09" r="0.46" fill-opacity="0.37"/><circle cx="121.85" cy="121.62" r="0.59" fill-opacity="0.54"/><circle cx="35.69" cy="100.01" r="0.67" fill-opacity="0.43"/><circle cx="113.17" cy="118.87" r="0.43" fill-opacity="0.56"/><circle cx="28.28" cy="81.81" r="0.6" fill-opacity="0.48"/><circle cx="38.71" cy="77.74" r="0.68" fill-opacity="0.57"/><circle cx="87.11" cy="60.58" r="0.92" fill-opacity="0.55"/><circle cx="101.34" cy="119.11" r="0.74" fill-opacity="0.62"/><circle cx="101.09" cy="91.12" r="0.51" fill-opacity="0.54"/><circle cx="20.08" cy="2.7" r="0.78" fill-opacity="0.5"/><circle cx="32.61" cy="3.33" r="0.41" fill-opacity="0.65"/><circle cx="45.81" cy="55.81" r="0.77" fill-opacity="0.76"/><circle cx="89.72" cy="28.07" r="0.94" fill-opacity="0.43"/><circle cx="74.34" cy="82.43" r="0.56" fill-opacity="0.75"/><circle cx="78.08" cy="90.88" r="0.48" fill-opacity="0.72"/><circle cx="36.77" cy="79.12" r="0.81" fill-opacity="0.49"/><circle cx="33.95" cy="42.29" r="0.94" fill-opacity="0.65"/><circle cx="60.32" cy="71.93" r="0.76" fill-opacity="0.47"/><circle cx="9.71" cy="13.97" r="0.72" fill-opacity="0.62"/><circle cx="125.18" cy="79.48" r="0.87" fill-opacity="0.79"/><circle cx="63.54" cy="53.98" r="0.66" fill-opacity="0.52"/><circle cx="97.3" cy="73.63" r="0.47" fill-opacity="0.78"/><circle cx="67.38" cy="95.84" r="0.7" fill-opacity="0.61"/><circle cx="73.75" cy="14.68" r="0.47" fill-opacity="0.68"/><circle cx="44.74" cy="16.49" r="0.85" fill-opacity="0.69"/><circle cx="97.77" cy="49.55" r="0.47" fill-opacity="0.69"/><circle cx="27.6" cy="85.53" r="0.78" fill-opacity="0.47"/><circle cx="0.28" cy="75.56" r="0.83" fill-opacity="0.61"/><circle cx="128.28" cy="75.56" r="0.83" fill-opacity="0.61"/><circle cx="126" cy="29.24" r="0.8" fill-opacity="0.55"/><circle cx="-2" cy="29.24" r="0.8" fill-opacity="0.55"/><circle cx="74.28" cy="38.68" r="0.53" fill-opacity="0.6"/><circle cx="77.75" cy="116.42" r="0.73" fill-opacity="0.57"/><circle cx="83.32" cy="80.38" r="0.62" fill-opacity="0.47"/><circle cx="87.34" cy="49.52" r="0.42" fill-opacity="0.43"/><circle cx="45.95" cy="87.88" r="0.76" fill-opacity="0.57"/><circle cx="104.49" cy="41.79" r="0.59" fill-opacity="0.69"/><circle cx="86.95" cy="54.51" r="0.89" fill-opacity="0.36"/><circle cx="68.66" cy="109.86" r="0.88" fill-opacity="0.44"/><circle cx="103.33" cy="68.24" r="0.91" fill-opacity="0.5"/><circle cx="85.05" cy="82.16" r="0.94" fill-opacity="0.5"/><circle cx="49.87" cy="15.96" r="0.78" fill-opacity="0.38"/><circle cx="108.7" cy="18.7" r="0.5" fill-opacity="0.78"/><circle cx="63.8" cy="96.61" r="0.59" fill-opacity="0.46"/><circle cx="47.17" cy="125.8" r="0.51" fill-opacity="0.76"/><circle cx="113.01" cy="87.11" r="0.55" fill-opacity="0.68"/><circle cx="115.85" cy="75.89" r="0.52" fill-opacity="0.62"/><circle cx="122.43" cy="75.62" r="0.48" fill-opacity="0.44"/><circle cx="80.67" cy="6.13" r="0.4" fill-opacity="0.52"/><circle cx="32.95" cy="63.18" r="0.44" fill-opacity="0.6"/><circle cx="86.48" cy="40.58" r="0.72" fill-opacity="0.59"/><circle cx="101.01" cy="73.76" r="0.75" fill-opacity="0.6"/><circle cx="105.33" cy="12.35" r="0.46" fill-opacity="0.74"/><circle cx="106.77" cy="1.02" r="0.89" fill-opacity="0.62"/><circle cx="106.77" cy="129.02" r="0.89" fill-opacity="0.62"/><circle cx="109.57" cy="89.75" r="0.61" fill-opacity="0.4"/><circle cx="97.88" cy="90.89" r="0.66" fill-opacity="0.47"/><circle cx="46.61" cy="119.81" r="0.65" fill-opacity="0.44"/><circle cx="126.25" cy="125.23" r="0.5" fill-opacity="0.44"/><circle cx="-1.75" cy="125.23" r="0.5" fill-opacity="0.44"/><circle cx="93.41" cy="49.52" r="0.66" fill-opacity="0.66"/><circle cx="34.97" cy="76.08" r="0.51" fill-opacity="0.45"/><circle cx="69.82" cy="54.75" r="0.89" fill-opacity="0.41"/><circle cx="117.28" cy="33.52" r="0.59" fill-opacity="0.4"/><circle cx="40.46" cy="125.54" r="0.6" fill-opacity="0.73"/><circle cx="124.98" cy="89.03" r="0.5" fill-opacity="0.54"/><circle cx="21.39" cy="31.95" r="0.58" fill-opacity="0.42"/><circle cx="87.01" cy="66.91" r="0.56" fill-opacity="0.46"/><circle cx="18.21" cy="14.64" r="0.64" fill-opacity="0.38"/><circle cx="66.89" cy="32.68" r="0.82" fill-opacity="0.47"/><circle cx="109.58" cy="121" r="0.91" fill-opacity="0.45"/><circle cx="118.91" cy="60.39" r="0.89" fill-opacity="0.56"/><circle cx="69.25" cy="33.12" r="0.82" fill-opacity="0.52"/><circle cx="113.13" cy="90.56" r="0.64" fill-opacity="0.36"/><circle cx="34.38" cy="53.41" r="0.6" fill-opacity="0.61"/><circle cx="0.67" cy="59.85" r="0.89" fill-opacity="0.78"/><circle cx="128.67" cy="59.85" r="0.89" fill-opacity="0.78"/><circle cx="88.15" cy="87.87" r="0.73" fill-opacity="0.8"/><circle cx="101.14" cy="58.91" r="0.67" fill-opacity="0.77"/><circle cx="70.62" cy="76.58" r="0.57" fill-opacity="0.65"/><circle cx="62.52" cy="120.76" r="0.95" fill-opacity="0.8"/><circle cx="121.7" cy="5.58" r="0.44" fill-opacity="0.5"/><circle cx="105.83" cy="71.46" r="0.54" fill-opacity="0.4"/><circle cx="32.01" cy="16.29" r="0.48" fill-opacity="0.69"/><circle cx="24.73" cy="21.36" r="0.74" fill-opacity="0.41"/><circle cx="106.67" cy="83.22" r="0.88" fill-opacity="0.68"/><circle cx="93.52" cy="34.23" r="0.63" fill-opacity="0.52"/><circle cx="50.18" cy="116.77" r="0.64" fill-opacity="0.71"/><circle cx="80.74" cy="10.59" r="0.52" fill-opacity="0.61"/><circle cx="101.04" cy="29.83" r="0.54" fill-opacity="0.52"/><circle cx="58.76" cy="53.77" r="0.91" fill-opacity="0.62"/><circle cx="35.61" cy="44.04" r="0.68" fill-opacity="0.42"/><circle cx="50.17" cy="8.31" r="0.76" fill-opacity="0.74"/><circle cx="115.04" cy="76.44" r="0.61" fill-opacity="0.6"/><circle cx="71.11" cy="22.59" r="0.7" fill-opacity="0.57"/><circle cx="25.26" cy="56.68" r="0.86" fill-opacity="0.64"/><circle cx="42.12" cy="30.53" r="0.75" fill-opacity="0.6"/><circle cx="38.14" cy="60.3" r="0.62" fill-opacity="0.63"/><circle cx="112.43" cy="47.72" r="0.7" fill-opacity="0.6"/><circle cx="85.41" cy="31.17" r="0.54" fill-opacity="0.77"/><circle cx="18.61" cy="87.17" r="0.54" fill-opacity="0.57"/><circle cx="57.77" cy="30.6" r="0.5" fill-opacity="0.78"/><circle cx="4.94" cy="18.26" r="0.81" fill-opacity="0.52"/><circle cx="24.97" cy="99.37" r="0.94" fill-opacity="0.44"/><circle cx="90.49" cy="50.74" r="0.95" fill-opacity="0.62"/><circle cx="114.54" cy="84.88" r="0.47" fill-opacity="0.55"/><circle cx="90.29" cy="19.57" r="0.45" fill-opacity="0.8"/><circle cx="118.23" cy="83.3" r="0.43" fill-opacity="0.67"/><circle cx="126.57" cy="100.15" r="0.79" fill-opacity="0.55"/><circle cx="-1.43" cy="100.15" r="0.79" fill-opacity="0.55"/><circle cx="80.91" cy="118.58" r="0.67" fill-opacity="0.38"/><circle cx="18.59" cy="121.9" r="0.79" fill-opacity="0.77"/><circle cx="18.93" cy="13.49" r="0.78" fill-opacity="0.54"/><circle cx="59.25" cy="29.78" r="0.82" fill-opacity="0.7"/><circle cx="92.92" cy="55.02" r="0.67" fill-opacity="0.53"/><circle cx="59.57" cy="41.7" r="0.66" fill-opacity="0.78"/><circle cx="102.6" cy="17.31" r="0.77" fill-opacity="0.72"/><circle cx="44.13" cy="113.79" r="0.92" fill-opacity="0.38"/><circle cx="80.02" cy="48.73" r="0.66" fill-opacity="0.6"/><circle cx="110.03" cy="80.74" r="0.89" fill-opacity="0.46"/><circle cx="102" cy="50.15" r="0.5" fill-opacity="0.71"/><circle cx="73.9" cy="28.85" r="0.89" fill-opacity="0.57"/><circle cx="86.27" cy="126.13" r="0.58" fill-opacity="0.59"/><circle cx="86.27" cy="-1.87" r="0.58" fill-opacity="0.59"/><circle cx="69.94" cy="36.53" r="0.69" fill-opacity="0.78"/><circle cx="89.26" cy="33.96" r="0.78" fill-opacity="0.63"/><circle cx="47.2" cy="85.91" r="0.61" fill-opacity="0.7"/><circle cx="49.65" cy="105.49" r="0.56" fill-opacity="0.43"/><circle cx="42.16" cy="16.08" r="0.88" fill-opacity="0.8"/><circle cx="53.27" cy="30.74" r="0.89" fill-opacity="0.73"/><circle cx="31.27" cy="39.11" r="0.67" fill-opacity="0.41"/><circle cx="26.98" cy="50.87" r="0.47" fill-opacity="0.41"/><circle cx="77.4" cy="38.49" r="0.9" fill-opacity="0.78"/><circle cx="85.77" cy="35.19" r="0.82" fill-opacity="0.5"/><circle cx="111.35" cy="54.23" r="0.78" fill-opacity="0.69"/><circle cx="89.93" cy="96.34" r="0.59" fill-opacity="0.42"/><circle cx="47.16" cy="122.7" r="0.42" fill-opacity="0.48"/><circle cx="39.61" cy="56.36" r="0.88" fill-opacity="0.43"/><circle cx="13.34" cy="2.27" r="0.59" fill-opacity="0.68"/><circle cx="57.96" cy="82.69" r="0.68" fill-opacity="0.51"/><circle cx="52.16" cy="5.23" r="0.92" fill-opacity="0.68"/><circle cx="12.49" cy="25.97" r="0.83" fill-opacity="0.58"/><circle cx="95.84" cy="96.22" r="0.48" fill-opacity="0.72"/><circle cx="25.75" cy="17.7" r="0.81" fill-opacity="0.72"/><circle cx="38.75" cy="49.33" r="0.8" fill-opacity="0.48"/><circle cx="56.93" cy="127" r="0.47" fill-opacity="0.77"/><circle cx="56.93" cy="-1" r="0.47" fill-opacity="0.77"/><circle cx="113.57" cy="127.59" r="0.53" fill-opacity="0.44"/><circle cx="113.57" cy="-0.41" r="0.53" fill-opacity="0.44"/><circle cx="56" cy="21.89" r="0.91" fill-opacity="0.61"/><circle cx="107.76" cy="62.9" r="0.67" fill-opacity="0.78"/><circle cx="16" cy="28.88" r="0.87" fill-opacity="0.62"/><circle cx="100.1" cy="127.37" r="0.82" fill-opacity="0.62"/><circle cx="100.1" cy="-0.63" r="0.82" fill-opacity="0.62"/><circle cx="96.18" cy="68.12" r="0.52" fill-opacity="0.5"/><circle cx="118.37" cy="67.39" r="0.42" fill-opacity="0.64"/><circle cx="127.18" cy="80.13" r="0.67" fill-opacity="0.56"/><circle cx="-0.82" cy="80.13" r="0.67" fill-opacity="0.56"/><circle cx="80.73" cy="78.7" r="0.67" fill-opacity="0.76"/><circle cx="113.51" cy="100.12" r="0.8" fill-opacity="0.67"/><circle cx="25.27" cy="62.79" r="0.55" fill-opacity="0.44"/><circle cx="121.6" cy="29.56" r="0.85" fill-opacity="0.73"/><circle cx="51.8" cy="3.14" r="0.5" fill-opacity="0.64"/><circle cx="90.8" cy="45.42" r="0.73" fill-opacity="0.42"/><circle cx="84.2" cy="100.06" r="0.83" fill-opacity="0.6"/><circle cx="73.41" cy="0.27" r="0.55" fill-opacity="0.53"/><circle cx="73.41" cy="128.27" r="0.55" fill-opacity="0.53"/><circle cx="9.27" cy="9.41" r="0.93" fill-opacity="0.66"/><circle cx="71.99" cy="88.25" r="0.88" fill-opacity="0.64"/><circle cx="54.66" cy="50.23" r="0.93" fill-opacity="0.78"/><circle cx="19.44" cy="104.75" r="0.75" fill-opacity="0.5"/><circle cx="88.9" cy="35.15" r="0.81" fill-opacity="0.6"/><circle cx="74.88" cy="7.23" r="0.9" fill-opacity="0.78"/><circle cx="97.42" cy="37.54" r="0.8" fill-opacity="0.4"/><circle cx="69.95" cy="44.21" r="0.66" fill-opacity="0.48"/><circle cx="9.06" cy="55.7" r="0.53" fill-opacity="0.43"/><circle cx="42.43" cy="15.94" r="0.41" fill-opacity="0.79"/><circle cx="7.08" cy="114.31" r="0.63" fill-opacity="0.4"/><circle cx="54.91" cy="64.92" r="0.43" fill-opacity="0.59"/><circle cx="0.94" cy="38.23" r="0.79" fill-opacity="0.73"/><circle cx="128.94" cy="38.23" r="0.79" fill-opacity="0.73"/><circle cx="22.78" cy="52.06" r="0.92" fill-opacity="0.49"/><circle cx="15.1" cy="31.59" r="0.88" fill-opacity="0.51"/><circle cx="85.18" cy="120.03" r="0.74" fill-opacity="0.44"/><circle cx="61.54" cy="41.66" r="0.66" fill-opacity="0.63"/><circle cx="124.94" cy="88.15" r="0.68" fill-opacity="0.71"/><circle cx="64.91" cy="24.73" r="0.77" fill-opacity="0.47"/><circle cx="27.17" cy="49.77" r="0.67" fill-opacity="0.36"/><circle cx="46.18" cy="123.01" r="0.68" fill-opacity="0.52"/><circle cx="58.48" cy="89.39" r="0.68" fill-opacity="0.53"/><circle cx="74.31" cy="35.26" r="0.78" fill-opacity="0.54"/><circle cx="90.29" cy="44.56" r="0.75" fill-opacity="0.44"/><circle cx="62.1" cy="63.02" r="0.41" fill-opacity="0.41"/><circle cx="58.92" cy="97.94" r="0.85" fill-opacity="0.73"/><circle cx="103.18" cy="123.74" r="0.51" fill-opacity="0.42"/><circle cx="17.75" cy="101.45" r="0.5" fill-opacity="0.49"/><circle cx="17.72" cy="116.33" r="0.52" fill-opacity="0.46"/><circle cx="76.08" cy="90" r="0.42" fill-opacity="0.61"/><circle cx="67.83" cy="70.94" r="0.68" fill-opacity="0.71"/><circle cx="105.28" cy="110.19" r="0.58" fill-opacity="0.37"/><circle cx="60.24" cy="3.4" r="0.75" fill-opacity="0.57"/><circle cx="95.58" cy="106.66" r="0.8" fill-opacity="0.66"/><circle cx="42.61" cy="92.95" r="0.75" fill-opacity="0.45"/><circle cx="111.24" cy="60.5" r="0.69" fill-opacity="0.44"/><circle cx="106.39" cy="60.64" r="0.81" fill-opacity="0.73"/><circle cx="66.44" cy="74.9" r="0.65" fill-opacity="0.46"/><circle cx="102.28" cy="117.85" r="0.42" fill-opacity="0.36"/><circle cx="60.14" cy="10.22" r="0.64" fill-opacity="0.5"/><circle cx="30.83" cy="99.27" r="0.72" fill-opacity="0.76"/><circle cx="24.89" cy="48.7" r="0.74" fill-opacity="0.7"/><circle cx="54.77" cy="23.81" r="0.61" fill-opacity="0.61"/><circle cx="123.81" cy="83.33" r="0.86" fill-opacity="0.73"/><circle cx="54.86" cy="64.77" r="0.86" fill-opacity="0.68"/><circle cx="51.16" cy="24.16" r="0.8" fill-opacity="0.48"/><circle cx="33.9" cy="32.11" r="0.78" fill-opacity="0.64"/><circle cx="119.93" cy="75.46" r="0.67" fill-opacity="0.75"/><circle cx="17.74" cy="75.4" r="0.94" fill-opacity="0.5"/><circle cx="19.48" cy="14.56" r="0.42" fill-opacity="0.68"/><circle cx="52.79" cy="105.03" r="0.86" fill-opacity="0.36"/><circle cx="39.24" cy="33.77" r="0.55" fill-opacity="0.36"/><circle cx="32.64" cy="43.5" r="0.65" fill-opacity="0.59"/><circle cx="126.07" cy="13.85" r="0.47" fill-opacity="0.76"/><circle cx="-1.93" cy="13.85" r="0.47" fill-opacity="0.76"/><circle cx="36.83" cy="68.95" r="0.57" fill-opacity="0.75"/><circle cx="119.58" cy="72.99" r="0.45" fill-opacity="0.52"/><circle cx="90.11" cy="72.45" r="0.55" fill-opacity="0.53"/><circle cx="7.88" cy="51.66" r="0.85" fill-opacity="0.52"/><circle cx="59.68" cy="21.48" r="0.79" fill-opacity="0.54"/><circle cx="49.32" cy="98.98" r="0.56" fill-opacity="0.38"/><circle cx="82.18" cy="94.48" r="0.43" fill-opacity="0.51"/><circle cx="113.41" cy="65.14" r="0.62" fill-opacity="0.41"/><circle cx="36.9" cy="75.14" r="0.9" fill-opacity="0.65"/><circle cx="123.97" cy="52.16" r="0.44" fill-opacity="0.5"/><circle cx="46.9" cy="7.3" r="0.44" fill-opacity="0.76"/><circle cx="114.6" cy="17.02" r="0.45" fill-opacity="0.79"/><circle cx="21.34" cy="38.61" r="0.52" fill-opacity="0.44"/><circle cx="3.99" cy="59.12" r="0.83" fill-opacity="0.38"/><circle cx="62.91" cy="16.93" r="0.83" fill-opacity="0.76"/><circle cx="111.99" cy="68.3" r="0.48" fill-opacity="0.67"/><circle cx="8.93" cy="99.23" r="0.56" fill-opacity="0.75"/><circle cx="36.46" cy="94.74" r="0.67" fill-opacity="0.46"/><circle cx="62.87" cy="55.11" r="0.49" fill-opacity="0.6"/><circle cx="68.12" cy="89.59" r="0.59" fill-opacity="0.63"/><circle cx="25.37" cy="66.84" r="0.53" fill-opacity="0.7"/><circle cx="24.43" cy="37.25" r="0.44" fill-opacity="0.48"/><circle cx="69.28" cy="29.21" r="0.47" fill-opacity="0.75"/><circle cx="39.73" cy="27.64" r="0.62" fill-opacity="0.73"/><circle cx="95.56" cy="115.54" r="0.7" fill-opacity="0.5"/><circle cx="64.16" cy="7.48" r="0.78" fill-opacity="0.73"/><circle cx="117.19" cy="106.29" r="0.76" fill-opacity="0.71"/><circle cx="37.3" cy="71.95" r="0.49" fill-opacity="0.77"/><circle cx="65.57" cy="22.57" r="0.94" fill-opacity="0.63"/><circle cx="27.19" cy="108.24" r="0.74" fill-opacity="0.63"/><circle cx="112.35" cy="40.44" r="0.55" fill-opacity="0.61"/><circle cx="26.02" cy="89.45" r="0.66" fill-opacity="0.44"/><circle cx="15.95" cy="20.75" r="0.72" fill-opacity="0.76"/><circle cx="102.01" cy="108.59" r="0.71" fill-opacity="0.71"/><circle cx="42.29" cy="47.1" r="0.9" fill-opacity="0.47"/><circle cx="79.79" cy="72.64" r="0.43" fill-opacity="0.6"/><circle cx="102.04" cy="113.78" r="0.63" fill-opacity="0.75"/><circle cx="4.86" cy="116.06" r="0.77" fill-opacity="0.71"/><circle cx="57.33" cy="75.19" r="0.85" fill-opacity="0.45"/><circle cx="23.47" cy="96.4" r="0.88" fill-opacity="0.45"/><circle cx="69.99" cy="64.97" r="0.57" fill-opacity="0.73"/><circle cx="36.2" cy="99.78" r="0.63" fill-opacity="0.42"/><circle cx="123.14" cy="18.88" r="0.46" fill-opacity="0.36"/><circle cx="44.89" cy="3.41" r="0.49" fill-opacity="0.77"/><circle cx="32.55" cy="91.56" r="0.52" fill-opacity="0.36"/><circle cx="0.9" cy="15.61" r="0.92" fill-opacity="0.56"/><circle cx="128.9" cy="15.61" r="0.92" fill-opacity="0.56"/><circle cx="31.96" cy="6.01" r="0.75" fill-opacity="0.49"/><circle cx="23.08" cy="55.94" r="0.79" fill-opacity="0.5"/><circle cx="71.84" cy="24.12" r="0.71" fill-opacity="0.37"/><circle cx="118.11" cy="118.83" r="0.72" fill-opacity="0.56"/><circle cx="50.84" cy="95.86" r="0.72" fill-opacity="0.67"/><circle cx="56.72" cy="51.2" r="0.8" fill-opacity="0.43"/><circle cx="43.78" cy="30.77" r="0.51" fill-opacity="0.74"/><circle cx="39.95" cy="94.31" r="0.43" fill-opacity="0.77"/><circle cx="60" cy="95.24" r="0.46" fill-opacity="0.62"/><circle cx="103.91" cy="37" r="0.45" fill-opacity="0.52"/><circle cx="98.46" cy="97.53" r="0.44" fill-opacity="0.5"/><circle cx="117.19" cy="36.95" r="0.45" fill-opacity="0.74"/><circle cx="104.94" cy="57.04" r="0.78" fill-opacity="0.69"/><circle cx="107.1" cy="24.22" r="0.8" fill-opacity="0.77"/><circle cx="100.96" cy="66.82" r="0.62" fill-opacity="0.79"/><circle cx="127.14" cy="103" r="0.68" fill-opacity="0.75"/><circle cx="-0.86" cy="103" r="0.68" fill-opacity="0.75"/><circle cx="111.93" cy="64.56" r="0.47" fill-opacity="0.63"/><circle cx="17.24" cy="42.85" r="0.71" fill-opacity="0.58"/><circle cx="82.44" cy="105.02" r="0.92" fill-opacity="0.49"/><circle cx="122.13" cy="41.29" r="0.59" fill-opacity="0.69"/><circle cx="124.9" cy="64.91" r="0.84" fill-opacity="0.72"/><circle cx="40.32" cy="79.02" r="0.92" fill-opacity="0.36"/><circle cx="15.89" cy="111.68" r="0.71" fill-opacity="0.54"/><circle cx="101.53" cy="56.81" r="0.48" fill-opacity="0.51"/><circle cx="97.36" cy="82.14" r="0.67" fill-opacity="0.36"/><circle cx="127.56" cy="10.11" r="0.55" fill-opacity="0.71"/><circle cx="-0.44" cy="10.11" r="0.55" fill-opacity="0.71"/><circle cx="120.03" cy="88.06" r="0.61" fill-opacity="0.69"/><circle cx="85.52" cy="74.03" r="0.83" fill-opacity="0.6"/><circle cx="68.88" cy="33.06" r="0.83" fill-opacity="0.4"/><circle cx="12.17" cy="80.57" r="0.43" fill-opacity="0.74"/><circle cx="24.67" cy="59.79" r="0.54" fill-opacity="0.57"/><circle cx="78.88" cy="25.19" r="0.7" fill-opacity="0.79"/><circle cx="19.14" cy="27.97" r="0.51" fill-opacity="0.4"/><circle cx="1.57" cy="122.71" r="0.93" fill-opacity="0.37"/><circle cx="129.57" cy="122.71" r="0.93" fill-opacity="0.37"/><circle cx="106.65" cy="74.11" r="0.51" fill-opacity="0.75"/><circle cx="14.87" cy="81.94" r="0.77" fill-opacity="0.66"/><circle cx="30.31" cy="19.12" r="0.75" fill-opacity="0.48"/><circle cx="77.5" cy="94.66" r="0.42" fill-opacity="0.68"/><circle cx="125.31" cy="51.62" r="0.72" fill-opacity="0.5"/><circle cx="112.64" cy="28.46" r="0.45" fill-opacity="0.58"/><circle cx="56.87" cy="72.97" r="0.51" fill-opacity="0.77"/><circle cx="68.42" cy="49.78" r="0.81" fill-opacity="0.37"/><circle cx="117.89" cy="106.81" r="0.54" fill-opacity="0.55"/><circle cx="5" cy="101.47" r="0.94" fill-opacity="0.62"/><circle cx="125.23" cy="60.45" r="0.88" fill-opacity="0.73"/><circle cx="118.49" cy="58.82" r="0.68" fill-opacity="0.37"/><circle cx="121.76" cy="11.27" r="0.72" fill-opacity="0.62"/><circle cx="22.3" cy="44.85" r="0.56" fill-opacity="0.35"/><circle cx="51.2" cy="48.84" r="0.8" fill-opacity="0.66"/><circle cx="121.34" cy="111.48" r="0.54" fill-opacity="0.62"/><circle cx="88.68" cy="100.97" r="0.48" fill-opacity="0.5"/><circle cx="78.6" cy="40.32" r="0.9" fill-opacity="0.54"/><circle cx="90.58" cy="8.75" r="0.89" fill-opacity="0.79"/><circle cx="123.52" cy="43.68" r="0.86" fill-opacity="0.79"/><circle cx="13.7" cy="9.49" r="0.77" fill-opacity="0.79"/><circle cx="3.92" cy="107.24" r="0.76" fill-opacity="0.56"/><circle cx="18.27" cy="64.9" r="0.67" fill-opacity="0.44"/><circle cx="115.22" cy="94.7" r="0.49" fill-opacity="0.63"/><circle cx="76.56" cy="120.09" r="0.94" fill-opacity="0.75"/><circle cx="6.97" cy="53.91" r="0.48" fill-opacity="0.69"/><circle cx="10.55" cy="106.04" r="0.74" fill-opacity="0.64"/><circle cx="120.95" cy="111.24" r="0.8" fill-opacity="0.63"/><circle cx="69.98" cy="66.3" r="0.42" fill-opacity="0.44"/><circle cx="88.16" cy="53.1" r="0.65" fill-opacity="0.73"/><circle cx="49.44" cy="93.19" r="0.84" fill-opacity="0.72"/><circle cx="30.04" cy="77.77" r="0.66" fill-opacity="0.61"/><circle cx="11.05" cy="24.3" r="0.54" fill-opacity="0.7"/><circle cx="100.25" cy="49.02" r="0.73" fill-opacity="0.55"/><circle cx="68.77" cy="34.14" r="0.59" fill-opacity="0.78"/><circle cx="113.26" cy="15.52" r="0.47" fill-opacity="0.74"/><circle cx="56.76" cy="81.93" r="0.73" fill-opacity="0.62"/><circle cx="115.97" cy="19.66" r="0.87" fill-opacity="0.47"/><circle cx="9.72" cy="38" r="0.68" fill-opacity="0.71"/><circle cx="74.27" cy="124.16" r="0.5" fill-opacity="0.52"/><circle cx="73.45" cy="75.62" r="0.78" fill-opacity="0.58"/><circle cx="12.89" cy="100.09" r="0.84" fill-opacity="0.38"/><circle cx="104.08" cy="0.75" r="0.78" fill-opacity="0.63"/><circle cx="104.08" cy="128.75" r="0.78" fill-opacity="0.63"/><circle cx="38.05" cy="11.47" r="0.54" fill-opacity="0.63"/><circle cx="68.32" cy="104.13" r="0.49" fill-opacity="0.63"/><circle cx="38.85" cy="5.46" r="0.5" fill-opacity="0.4"/><circle cx="20.4" cy="4.84" r="0.94" fill-opacity="0.51"/><circle cx="96.96" cy="54.04" r="0.68" fill-opacity="0.46"/><circle cx="120.9" cy="27.07" r="0.93" fill-opacity="0.7"/><circle cx="110.57" cy="12.45" r="0.94" fill-opacity="0.64"/><circle cx="74.16" cy="72.62" r="0.65" fill-opacity="0.78"/><circle cx="125.56" cy="121.9" r="0.48" fill-opacity="0.59"/><circle cx="89.64" cy="23.48" r="0.89" fill-opacity="0.69"/><circle cx="15.44" cy="37.98" r="0.77" fill-opacity="0.75"/><circle cx="127.77" cy="35.35" r="0.86" fill-opacity="0.61"/><circle cx="-0.23" cy="35.35" r="0.86" fill-opacity="0.61"/><circle cx="46.35" cy="30.75" r="0.46" fill-opacity="0.37"/><circle cx="55.07" cy="15.48" r="0.51" fill-opacity="0.49"/></g></pattern><filter id="blur2"><feGaussianBlur stdDeviation="2.2"/></filter></defs>
<text x="0" y="28.5" font-size="36.5" font-weight="bold" stroke="#231f20" stroke-width="1.5">a</text>
<line x1="123.4" y1="27.5" x2="123.4" y2="388.3" stroke="#58585a" stroke-width="1.3"/>
<line x1="115.2" y1="388.3" x2="123.4" y2="388.3" stroke="#58585a" stroke-width="1.3"/>
<text x="103" y="396" font-size="22" text-anchor="end">0</text>
<line x1="115.2" y1="268.06" x2="123.4" y2="268.06" stroke="#58585a" stroke-width="1.3"/>
<text x="103" y="275.76" font-size="22" text-anchor="end">20</text>
<line x1="115.2" y1="147.82" x2="123.4" y2="147.82" stroke="#58585a" stroke-width="1.3"/>
<text x="103" y="155.52" font-size="22" text-anchor="end">40</text>
<line x1="115.2" y1="27.58" x2="123.4" y2="27.58" stroke="#58585a" stroke-width="1.3"/>
<text x="103" y="35.28" font-size="22" text-anchor="end">60</text>
<line x1="115.2" y1="388.3" x2="484.5" y2="388.3" stroke="#58585a" stroke-width="1.3"/>
<rect x="140.8" y="145.8" width="52" height="241.9" fill="#4a4a4c" stroke="#231f20" stroke-width="3.2"/>
<rect x="212.8" y="308.6" width="51.6" height="79.1" fill="#4a4a4c" stroke="#231f20" stroke-width="3.2"/>
<rect x="342.2" y="94.5" width="52.2" height="293.2" fill="#4a4a4c" stroke="#231f20" stroke-width="3.2"/>
<rect x="414.2" y="230.1" width="52.2" height="157.6" fill="#4a4a4c" stroke="#231f20" stroke-width="3.2"/>
<line x1="301.6" y1="29.4" x2="301.6" y2="390" stroke="#231f20" stroke-width="2" stroke-dasharray="9.6 7.2"/>
<text x="154.5" y="50.1" font-size="27" textLength="127.8" lengthAdjust="spacingAndGlyphs">Replicate 1</text>
<text x="339.2" y="50.1" font-size="27" textLength="132.2" lengthAdjust="spacingAndGlyphs">Replicate 2</text>
<text x="166.4" y="416.5" font-size="22" text-anchor="middle" textLength="39" lengthAdjust="spacingAndGlyphs">(76)</text>
<text x="238.9" y="416.5" font-size="22" text-anchor="middle" textLength="39" lengthAdjust="spacingAndGlyphs">(73)</text>
<text x="368" y="416.5" font-size="22" text-anchor="middle" textLength="34" lengthAdjust="spacingAndGlyphs">(71)</text>
<text x="440.3" y="416.5" font-size="22" text-anchor="middle" textLength="38" lengthAdjust="spacingAndGlyphs">(72)</text>
<text x="180.4" y="446.2" font-size="26" text-anchor="end" textLength="36.6" lengthAdjust="spacingAndGlyphs" transform="rotate(-45 180.4 446.2)">WT</text>
<text x="247" y="441.8" font-size="26" text-anchor="end" textLength="68" lengthAdjust="spacingAndGlyphs" transform="rotate(-45 247 441.8)">&#916;rnhc</text>
<text x="382.7" y="446.2" font-size="26" text-anchor="end" textLength="36.6" lengthAdjust="spacingAndGlyphs" transform="rotate(-45 382.7 446.2)">WT</text>
<text x="453.7" y="441.8" font-size="26" text-anchor="end" textLength="68" lengthAdjust="spacingAndGlyphs" transform="rotate(-45 453.7 441.8)">&#916;rnhc</text>
<text x="22.1" y="210.3" font-size="27" text-anchor="middle" textLength="248.4" lengthAdjust="spacingAndGlyphs" transform="rotate(-90 22.1 210.3)">RIs with ssDNA gaps</text>
<text x="51.6" y="208.1" font-size="27" text-anchor="middle" textLength="271.6" lengthAdjust="spacingAndGlyphs" transform="rotate(-90 51.6 208.1)">on daughter strand (%)</text>
<clipPath id="c11"><rect x="527.5" y="74.4" width="450.8" height="302.3"/></clipPath>
<g clip-path="url(#c11)">
<rect x="527.5" y="74.4" width="450.8" height="302.3" fill="#e0e1e3"/>
<rect x="527.5" y="74.4" width="450.8" height="302.3" fill="#000" filter="url(#grain)" opacity="0.3"/>
<rect x="527.5" y="74.4" width="450.8" height="302.3" fill="url(#spat0)"/>
<g fill="#707174" opacity="0.8"><circle cx="731.43" cy="243.62" r="2.03"/><circle cx="737.42" cy="227.92" r="1.73"/><circle cx="610.74" cy="229.15" r="1.77"/><circle cx="884.97" cy="102.85" r="1.47"/><circle cx="568.37" cy="319.16" r="1.82"/><circle cx="546.38" cy="371.32" r="2.07"/><circle cx="822.29" cy="260.48" r="1.34"/><circle cx="534.26" cy="234.13" r="1.25"/><circle cx="613.25" cy="147.54" r="1.23"/><circle cx="736.64" cy="207.57" r="1.96"/><circle cx="761.52" cy="267.96" r="1.65"/><circle cx="826.13" cy="212.65" r="1.45"/><circle cx="977.24" cy="375.4" r="1.96"/><circle cx="846.58" cy="169.71" r="1.41"/><circle cx="657.8" cy="95.63" r="1.89"/><circle cx="708" cy="330.32" r="1.55"/><circle cx="959.39" cy="330.54" r="1.2"/><circle cx="622.04" cy="349.58" r="1.62"/><circle cx="969.45" cy="194.54" r="1.27"/><circle cx="811.26" cy="309.74" r="1.44"/><circle cx="566.78" cy="174.94" r="2.07"/><circle cx="869.22" cy="110.07" r="1.42"/><circle cx="573.05" cy="92.51" r="1.92"/><circle cx="607.6" cy="243.47" r="1.6"/><circle cx="613.46" cy="295.65" r="1.32"/><circle cx="817.69" cy="109.62" r="1.58"/><circle cx="623.46" cy="155.96" r="2.07"/><circle cx="889.68" cy="166.34" r="2"/><circle cx="622.49" cy="193.59" r="1.97"/><circle cx="816.84" cy="104.73" r="2.09"/><circle cx="623.63" cy="152.48" r="1.9"/><circle cx="675.79" cy="163.98" r="1.27"/><circle cx="568.12" cy="250.56" r="1.42"/><circle cx="798.56" cy="186.77" r="1.61"/><circle cx="959.88" cy="220.63" r="1.72"/><circle cx="918.13" cy="129.67" r="1.34"/><circle cx="937.02" cy="321.62" r="1.42"/><circle cx="613.06" cy="297.93" r="2.05"/><circle cx="616.12" cy="361.63" r="1.99"/><circle cx="799.57" cy="201.81" r="1.29"/><circle cx="544.94" cy="365.42" r="1.41"/><circle cx="845.12" cy="152.09" r="1.94"/><circle cx="796.39" cy="163.11" r="1.36"/><circle cx="852.24" cy="95.19" r="1.41"/><circle cx="779.66" cy="332.08" r="1.75"/><circle cx="653.82" cy="351.72" r="1.38"/><circle cx="534.97" cy="155.78" r="1.6"/><circle cx="554.75" cy="127.68" r="1.53"/><circle cx="785.43" cy="114.18" r="1.53"/><circle cx="929.14" cy="370.8" r="1.79"/><circle cx="839.1" cy="251.08" r="1.33"/><circle cx="543.31" cy="79.81" r="2.02"/><circle cx="843.5" cy="365.45" r="1.22"/><circle cx="814.29" cy="220.18" r="1.86"/><circle cx="671.26" cy="376.51" r="1.27"/><circle cx="773.68" cy="297.2" r="2.01"/><circle cx="859.78" cy="287.13" r="1.91"/><circle cx="939.98" cy="180.76" r="1.82"/></g>
<path d="M580.27 154.75 C579.17 155.19 575.85 157.31 573.64 157.4 C571.43 157.49 569.22 155.5 567.01 155.28 C564.8 155.06 562.59 155.5 560.38 156.07 C558.17 156.65 555.43 157.31 553.75 158.72 C552.08 160.14 550.18 162.26 550.31 164.56 C550.44 166.86 551.99 170.3 554.55 172.51 C557.11 174.72 561.62 176.71 565.69 177.82 C569.75 178.92 574.97 179.32 578.95 179.14 C582.92 178.97 585.58 177.07 589.55 176.76 C593.53 176.45 598.39 176.67 602.81 177.29 C607.23 177.91 612.09 179.06 616.07 180.47 C620.05 181.88 623.14 183.56 626.68 185.77 C630.22 187.98 634.19 190.63 637.29 193.73 C640.38 196.82 642.59 200.8 645.24 204.34 C647.89 207.87 650.1 211.41 653.2 214.94 C656.29 218.48 660.27 222.54 663.81 225.55 C667.34 228.56 669.99 230.54 674.41 232.98 C678.83 235.41 685.02 237.7 690.32 240.14 C695.63 242.57 700.93 246.01 706.23 247.56 C711.54 249.11 715.96 248 722.15 249.42 C728.33 250.83 736.29 254.06 743.36 256.05 C750.43 258.04 757.5 259.89 764.57 261.35 C771.65 262.81 779.6 264 785.79 264.8 C791.98 265.59 796.4 265.9 801.7 266.12 C807 266.34 813.19 267.23 817.61 266.12 C822.03 265.02 824.68 261.92 828.22 259.49 C831.75 257.06 835.95 254.63 838.83 251.54 C841.7 248.44 843.91 244.47 845.45 240.93 C847 237.4 848.11 233.86 848.11 230.32 C848.11 226.79 847 222.81 845.45 219.72 C843.91 216.62 840.81 214.41 838.83 211.76 C836.84 209.11 835.73 206.02 833.52 203.81 C831.31 201.6 828.66 200.05 825.57 198.5 C822.47 196.95 816.73 195.19 814.96 194.52" fill="none" stroke="#6c6d70" stroke-width="1.6" stroke-linecap="round" stroke-linejoin="round"/>
<path d="M775.18 276.73 C775.27 277.92 773.94 281.46 775.71 283.89 C777.48 286.32 781.46 288.97 785.79 291.32 C790.12 293.66 795.51 296.09 801.7 297.94 C807.89 299.8 815.84 301.04 822.91 302.45 C829.99 303.87 837.5 304.88 844.13 306.43 C850.76 307.98 856.5 310.05 862.69 311.73 C868.88 313.41 875.07 314.83 881.25 316.51 C887.44 318.19 893.63 320.18 899.82 321.81 C906 323.45 913.52 325.57 918.38 326.32 C923.24 327.07 925.89 327.29 928.99 326.32 C932.08 325.35 935.4 322.78 936.94 320.49 C938.49 318.19 939.15 315.18 938.27 312.53 C937.38 309.88 934.95 307.23 931.64 304.57 C928.32 301.92 923.24 299.05 918.38 296.62 C913.52 294.19 907.77 291.98 902.47 289.99 C897.17 288 892.3 286.59 886.56 284.69 C880.81 282.79 874.18 280.49 868 278.59 C861.81 276.69 856.95 274.92 849.43 273.28 C841.92 271.65 827.33 269.53 822.91 268.77" fill="none" stroke="#6c6d70" stroke-width="1.6" stroke-linecap="round" stroke-linejoin="round"/>
<path d="M828.22 231.65 C829.99 230.19 835.64 224.14 838.83 222.9 C842.01 221.66 845.9 224 847.31 224.22" fill="none" stroke="#6c6d70" stroke-width="1.6" stroke-linecap="round" stroke-linejoin="round"/>
<path d="M777.83 170.66 L788.44 174.64" fill="none" stroke="#6c6d70" stroke-width="1.6" stroke-linecap="round" stroke-linejoin="round"/>
<path d="M628.01 97.73 L631.98 105.69" fill="none" stroke="#6c6d70" stroke-width="1.6" stroke-linecap="round" stroke-linejoin="round"/>
</g>
<rect x="528.5" y="75.4" width="448.8" height="300.3" fill="none" stroke="#2a2a2c" stroke-width="2"/>
<path d="M698.3 191.9 L717.4 201.2 L736.7 192.4 L716.3 237.7 Z" fill="#231f20" stroke="none" stroke-width="1"/>
<text x="572.8" y="209.5" font-size="24" text-anchor="middle">D</text>
<text x="860.6" y="222.7" font-size="24" text-anchor="middle">P</text>
<text x="820.8" y="335.4" font-size="24" text-anchor="middle">D</text>
<text x="870.6" y="343" font-size="24" textLength="92.9" lengthAdjust="spacingAndGlyphs">500 nm</text>
<rect x="879.9" y="351.8" width="75.1" height="7.1" fill="#231f20"/>
<text x="1033.5" y="28.5" font-size="36.5" font-weight="bold" stroke="#231f20" stroke-width="1.5">b</text>
<line x1="1230.2" y1="27" x2="1230.2" y2="389.1" stroke="#58585a" stroke-width="1.3"/>
<line x1="1220" y1="389.1" x2="1230.2" y2="389.1" stroke="#58585a" stroke-width="1.3"/>
<text x="1208.5" y="396.8" font-size="22" text-anchor="end">0</text>
<line x1="1220" y1="298.59" x2="1230.2" y2="298.59" stroke="#58585a" stroke-width="1.3"/>
<text x="1208.5" y="306.29" font-size="22" text-anchor="end">3</text>
<line x1="1220" y1="208.08" x2="1230.2" y2="208.08" stroke="#58585a" stroke-width="1.3"/>
<text x="1208.5" y="215.78" font-size="22" text-anchor="end">6</text>
<line x1="1220" y1="117.57" x2="1230.2" y2="117.57" stroke="#58585a" stroke-width="1.3"/>
<text x="1208.5" y="125.27" font-size="22" text-anchor="end">9</text>
<line x1="1220" y1="27.06" x2="1230.2" y2="27.06" stroke="#58585a" stroke-width="1.3"/>
<text x="1208.5" y="34.76" font-size="22" text-anchor="end">12</text>
<line x1="1220" y1="389.1" x2="1878.4" y2="389.1" stroke="#58585a" stroke-width="1.3"/>
<line x1="1277.5" y1="389.1" x2="1277.5" y2="399.6" stroke="#58585a" stroke-width="1.3"/>
<line x1="1356.5" y1="389.1" x2="1356.5" y2="399.6" stroke="#58585a" stroke-width="1.3"/>
<line x1="1435.6" y1="389.1" x2="1435.6" y2="399.6" stroke="#58585a" stroke-width="1.3"/>
<line x1="1514.4" y1="389.1" x2="1514.4" y2="399.6" stroke="#58585a" stroke-width="1.3"/>
<line x1="1593.7" y1="389.1" x2="1593.7" y2="399.6" stroke="#58585a" stroke-width="1.3"/>
<line x1="1672.7" y1="389.1" x2="1672.7" y2="399.6" stroke="#58585a" stroke-width="1.3"/>
<line x1="1751.5" y1="389.1" x2="1751.5" y2="399.6" stroke="#58585a" stroke-width="1.3"/>
<line x1="1830.5" y1="389.1" x2="1830.5" y2="399.6" stroke="#58585a" stroke-width="1.3"/>
<text x="1164.3" y="207.2" font-size="27" text-anchor="middle" textLength="134.6" lengthAdjust="spacingAndGlyphs" transform="rotate(-90 1164.3 207.2)">Length (kb)</text>
<g fill="#8a8b8e"><circle cx="1278.11" cy="116.06" r="3.6"/><circle cx="1278.71" cy="191.49" r="3.6"/><circle cx="1278.98" cy="194.5" r="3.6"/><circle cx="1279.71" cy="202.05" r="3.6"/><circle cx="1278.7" cy="205.06" r="3.6"/><circle cx="1279.61" cy="208.68" r="3.6"/><circle cx="1275.15" cy="212.61" r="3.6"/><circle cx="1277.33" cy="289.54" r="3.6"/></g>
<g fill="#c8c9cb" stroke="#231f20" stroke-width="1.1"><circle cx="1282.72" cy="150.01" r="3.8"/><circle cx="1270.22" cy="169.66" r="3.8"/><circle cx="1278.26" cy="172.13" r="3.8"/><circle cx="1279.06" cy="162.8" r="3.8"/><circle cx="1273.63" cy="156.98" r="3.8"/><circle cx="1286.51" cy="163.73" r="3.8"/><circle cx="1283.93" cy="163.72" r="3.8"/><circle cx="1270.89" cy="170.53" r="3.8"/><circle cx="1267.74" cy="168.4" r="3.8"/><circle cx="1284.86" cy="168.03" r="3.8"/><circle cx="1287.59" cy="162.48" r="3.8"/><circle cx="1284.1" cy="157.21" r="3.8"/><circle cx="1278.21" cy="170.92" r="3.8"/><circle cx="1286.39" cy="167.46" r="3.8"/><circle cx="1280.96" cy="170.76" r="3.8"/><circle cx="1276.02" cy="142.47" r="3.8"/><circle cx="1274.83" cy="169" r="3.8"/><circle cx="1268.7" cy="161.35" r="3.8"/><circle cx="1273.74" cy="159.21" r="3.8"/><circle cx="1281.34" cy="165.03" r="3.8"/><circle cx="1273.98" cy="164.86" r="3.8"/><circle cx="1277.16" cy="171.51" r="3.8"/><circle cx="1275.6" cy="146.19" r="3.8"/><circle cx="1272.37" cy="180.71" r="3.8"/><circle cx="1287.41" cy="162.39" r="3.8"/><circle cx="1281.24" cy="146.94" r="3.8"/><circle cx="1267.61" cy="161.82" r="3.8"/><circle cx="1279.12" cy="161.96" r="3.8"/><circle cx="1269.64" cy="174.14" r="3.8"/><circle cx="1285.77" cy="157.95" r="3.8"/><circle cx="1271.17" cy="162.4" r="3.8"/><circle cx="1287" cy="163.46" r="3.8"/><circle cx="1277.96" cy="169.86" r="3.8"/><circle cx="1282.2" cy="156.14" r="3.8"/><circle cx="1281.51" cy="150.68" r="3.8"/><circle cx="1282.98" cy="153.32" r="3.8"/><circle cx="1275.66" cy="139.51" r="3.8"/><circle cx="1274.55" cy="158.52" r="3.8"/><circle cx="1275.85" cy="182.46" r="3.8"/><circle cx="1282.78" cy="179.48" r="3.8"/><circle cx="1274.44" cy="173.11" r="3.8"/><circle cx="1270.89" cy="166.89" r="3.8"/><circle cx="1281.07" cy="159.05" r="3.8"/><circle cx="1287.6" cy="161.5" r="3.8"/><circle cx="1287.7" cy="162.58" r="3.8"/><circle cx="1278.18" cy="161.5" r="3.8"/><circle cx="1279.2" cy="170.79" r="3.8"/><circle cx="1283.84" cy="160" r="3.8"/><circle cx="1270.62" cy="174.96" r="3.8"/><circle cx="1285.91" cy="161.29" r="3.8"/><circle cx="1282.42" cy="152.28" r="3.8"/><circle cx="1269.92" cy="161.82" r="3.8"/><circle cx="1280.14" cy="167.3" r="3.8"/><circle cx="1276.11" cy="163.15" r="3.8"/><circle cx="1270.8" cy="169.21" r="3.8"/><circle cx="1276.61" cy="159.38" r="3.8"/><circle cx="1286.29" cy="171.64" r="3.8"/><circle cx="1276.99" cy="147.05" r="3.8"/><circle cx="1277.27" cy="181.36" r="3.8"/><circle cx="1273.06" cy="163.06" r="3.8"/><circle cx="1275.15" cy="169.22" r="3.8"/><circle cx="1287.27" cy="160.96" r="3.8"/><circle cx="1277.49" cy="149.97" r="3.8"/><circle cx="1274.3" cy="168.04" r="3.8"/><circle cx="1282.49" cy="157.2" r="3.8"/><circle cx="1284.61" cy="159.86" r="3.8"/><circle cx="1281.52" cy="176.27" r="3.8"/><circle cx="1280.05" cy="150.14" r="3.8"/><circle cx="1275.26" cy="173.5" r="3.8"/><circle cx="1280.03" cy="179.62" r="3.8"/><circle cx="1283.06" cy="166.68" r="3.8"/><circle cx="1280.29" cy="152.38" r="3.8"/><circle cx="1280.17" cy="171.26" r="3.8"/><circle cx="1277.89" cy="139.82" r="3.8"/><circle cx="1274.07" cy="151.08" r="3.8"/><circle cx="1281.18" cy="163.37" r="3.8"/><circle cx="1278.93" cy="183.26" r="3.8"/><circle cx="1283.25" cy="159.84" r="3.8"/><circle cx="1281.47" cy="173.09" r="3.8"/><circle cx="1282.2" cy="151.94" r="3.8"/><circle cx="1282.91" cy="176.28" r="3.8"/><circle cx="1279.67" cy="147.9" r="3.8"/><circle cx="1277.86" cy="168.29" r="3.8"/><circle cx="1283.64" cy="170.59" r="3.8"/><circle cx="1286.82" cy="165.5" r="3.8"/></g>
<g fill="#231f20"><circle cx="1276.09" cy="268.51" r="3.8"/><circle cx="1291.78" cy="268.95" r="3.8"/><circle cx="1257.15" cy="264.87" r="3.8"/><circle cx="1287.76" cy="269.33" r="3.8"/><circle cx="1272.59" cy="271.09" r="3.8"/><circle cx="1285.99" cy="269.64" r="3.8"/><circle cx="1291.17" cy="263.98" r="3.8"/><circle cx="1273.85" cy="264.9" r="3.8"/><circle cx="1286.81" cy="264.44" r="3.8"/><circle cx="1285.61" cy="260.01" r="3.8"/><circle cx="1249.1" cy="266.89" r="3.8"/><circle cx="1249.86" cy="265.13" r="3.8"/><circle cx="1254.78" cy="265.95" r="3.8"/><circle cx="1258.49" cy="264.16" r="3.8"/><circle cx="1248.71" cy="267.42" r="3.8"/><circle cx="1284.43" cy="264.56" r="3.8"/><circle cx="1283.09" cy="264.68" r="3.8"/><circle cx="1246.54" cy="260.85" r="3.8"/><circle cx="1271.63" cy="266.19" r="3.8"/><circle cx="1253.63" cy="263.27" r="3.8"/><circle cx="1298.04" cy="265.81" r="3.8"/><circle cx="1284.54" cy="264.64" r="3.8"/><circle cx="1252.38" cy="267.25" r="3.8"/><circle cx="1282.52" cy="266.57" r="3.8"/><circle cx="1305.91" cy="264.48" r="3.8"/><circle cx="1296.91" cy="267.43" r="3.8"/><circle cx="1286.32" cy="266.69" r="3.8"/><circle cx="1283.45" cy="263.66" r="3.8"/><circle cx="1281.46" cy="256.35" r="3.8"/><circle cx="1284.23" cy="268.22" r="3.8"/><circle cx="1268.27" cy="265.29" r="3.8"/><circle cx="1253.19" cy="265.46" r="3.8"/><circle cx="1281.58" cy="267.41" r="3.8"/><circle cx="1285.53" cy="266.73" r="3.8"/><circle cx="1301.76" cy="267" r="3.8"/><circle cx="1260.53" cy="263.75" r="3.8"/><circle cx="1264.57" cy="262.96" r="3.8"/><circle cx="1306.09" cy="265.76" r="3.8"/><circle cx="1303.15" cy="266.75" r="3.8"/><circle cx="1307.32" cy="266.33" r="3.8"/><circle cx="1277.27" cy="269.55" r="3.8"/><circle cx="1307.53" cy="264.47" r="3.8"/><circle cx="1276.99" cy="266.82" r="3.8"/><circle cx="1254.06" cy="263.06" r="3.8"/><circle cx="1285.04" cy="268.36" r="3.8"/><circle cx="1294.97" cy="264.77" r="3.8"/><circle cx="1297.76" cy="262.78" r="3.8"/><circle cx="1263.47" cy="265.16" r="3.8"/><circle cx="1304.49" cy="265.09" r="3.8"/><circle cx="1263.1" cy="267.15" r="3.8"/><circle cx="1256.1" cy="263.64" r="3.8"/><circle cx="1284.2" cy="265.64" r="3.8"/><circle cx="1275.93" cy="269.9" r="3.8"/><circle cx="1292.6" cy="267.89" r="3.8"/><circle cx="1253.83" cy="265.29" r="3.8"/><circle cx="1279.58" cy="269.89" r="3.8"/><circle cx="1267.34" cy="266.49" r="3.8"/><circle cx="1275.29" cy="259.18" r="3.8"/><circle cx="1268.88" cy="265.55" r="3.8"/><circle cx="1248.76" cy="268.23" r="3.8"/><circle cx="1262.15" cy="270.32" r="3.8"/><circle cx="1301.55" cy="264.11" r="3.8"/><circle cx="1280.33" cy="256.46" r="3.8"/><circle cx="1273.02" cy="264.65" r="3.8"/><circle cx="1282.19" cy="267.13" r="3.8"/><circle cx="1276.38" cy="272.83" r="3.8"/><circle cx="1303.03" cy="266.99" r="3.8"/><circle cx="1299.32" cy="264.01" r="3.8"/><circle cx="1258.68" cy="266.57" r="3.8"/><circle cx="1250.6" cy="261.59" r="3.8"/><circle cx="1298.35" cy="266.18" r="3.8"/><circle cx="1264.25" cy="267.91" r="3.8"/><circle cx="1294.91" cy="264.37" r="3.8"/><circle cx="1276.16" cy="267" r="3.8"/><circle cx="1280.54" cy="270" r="3.8"/><circle cx="1256.02" cy="265.38" r="3.8"/><circle cx="1282.82" cy="264.76" r="3.8"/><circle cx="1260.76" cy="266.18" r="3.8"/><circle cx="1297.31" cy="264.58" r="3.8"/><circle cx="1248.08" cy="268.41" r="3.8"/><circle cx="1291.3" cy="256.78" r="3.8"/><circle cx="1289.98" cy="266.65" r="3.8"/><circle cx="1249.53" cy="264.59" r="3.8"/><circle cx="1286.54" cy="267.37" r="3.8"/><circle cx="1305.54" cy="265.67" r="3.8"/><circle cx="1264.63" cy="266.74" r="3.8"/><circle cx="1303.42" cy="263.69" r="3.8"/><circle cx="1272.16" cy="260.42" r="3.8"/><circle cx="1256.49" cy="265.86" r="3.8"/><circle cx="1253.21" cy="265.84" r="3.8"/><circle cx="1270.01" cy="264.23" r="3.8"/><circle cx="1282.17" cy="264.7" r="3.8"/><circle cx="1292.52" cy="264.5" r="3.8"/><circle cx="1273.26" cy="267.19" r="3.8"/><circle cx="1266" cy="268" r="3.8"/></g>
<g fill="#8a8b8e"><circle cx="1358.69" cy="78.35" r="3.6"/><circle cx="1355.87" cy="87.4" r="3.6"/><circle cx="1354.28" cy="110.03" r="3.6"/><circle cx="1357.49" cy="120.59" r="3.6"/><circle cx="1354.76" cy="123.6" r="3.6"/><circle cx="1357.16" cy="126.62" r="3.6"/><circle cx="1356.53" cy="129.03" r="3.6"/><circle cx="1358.55" cy="183.94" r="3.6"/><circle cx="1356.77" cy="189.98" r="3.6"/><circle cx="1357.1" cy="199.03" r="3.6"/><circle cx="1355.32" cy="209.59" r="3.6"/><circle cx="1356.76" cy="217.13" r="3.6"/><circle cx="1355.27" cy="248.81" r="3.6"/></g>
<g fill="#c8c9cb" stroke="#231f20" stroke-width="1.1"><circle cx="1362.46" cy="162.97" r="3.8"/><circle cx="1349.93" cy="161.61" r="3.8"/><circle cx="1352.94" cy="157.31" r="3.8"/><circle cx="1362.41" cy="157.26" r="3.8"/><circle cx="1360.24" cy="162.46" r="3.8"/><circle cx="1348.35" cy="145.23" r="3.8"/><circle cx="1347.75" cy="149.93" r="3.8"/><circle cx="1365.63" cy="162.34" r="3.8"/><circle cx="1356" cy="160.51" r="3.8"/><circle cx="1345.63" cy="163.97" r="3.8"/><circle cx="1360.5" cy="142.32" r="3.8"/><circle cx="1367.66" cy="151.91" r="3.8"/><circle cx="1361.36" cy="155.08" r="3.8"/><circle cx="1369.5" cy="156.03" r="3.8"/><circle cx="1360.63" cy="152.36" r="3.8"/><circle cx="1359.82" cy="154.66" r="3.8"/><circle cx="1352.86" cy="161.28" r="3.8"/><circle cx="1359.63" cy="156.03" r="3.8"/><circle cx="1353.1" cy="148.68" r="3.8"/><circle cx="1364.95" cy="160.48" r="3.8"/><circle cx="1360.32" cy="153.57" r="3.8"/><circle cx="1365.58" cy="153.55" r="3.8"/><circle cx="1356.88" cy="165.88" r="3.8"/><circle cx="1361.59" cy="166.66" r="3.8"/><circle cx="1354.04" cy="163.28" r="3.8"/><circle cx="1348.55" cy="154.86" r="3.8"/><circle cx="1344.02" cy="155.45" r="3.8"/><circle cx="1362.37" cy="148.83" r="3.8"/><circle cx="1344.77" cy="163.44" r="3.8"/><circle cx="1358.22" cy="175.47" r="3.8"/><circle cx="1354.67" cy="153.25" r="3.8"/><circle cx="1347.77" cy="160.84" r="3.8"/><circle cx="1347.16" cy="155.9" r="3.8"/><circle cx="1365.52" cy="163.09" r="3.8"/><circle cx="1348.26" cy="150.46" r="3.8"/><circle cx="1347.06" cy="156.98" r="3.8"/><circle cx="1351.6" cy="149.5" r="3.8"/><circle cx="1343.7" cy="155.82" r="3.8"/><circle cx="1365.35" cy="146.45" r="3.8"/><circle cx="1359.83" cy="171.3" r="3.8"/><circle cx="1359.43" cy="141.14" r="3.8"/><circle cx="1351.89" cy="178.27" r="3.8"/><circle cx="1360.78" cy="152.93" r="3.8"/><circle cx="1362.39" cy="160.25" r="3.8"/><circle cx="1350.17" cy="143.68" r="3.8"/><circle cx="1349.06" cy="156.17" r="3.8"/><circle cx="1345.24" cy="154.85" r="3.8"/><circle cx="1354.67" cy="176.63" r="3.8"/><circle cx="1353.12" cy="142.58" r="3.8"/><circle cx="1361.86" cy="164.03" r="3.8"/><circle cx="1362.39" cy="155.32" r="3.8"/><circle cx="1360.92" cy="153.31" r="3.8"/><circle cx="1367.12" cy="151.05" r="3.8"/><circle cx="1367.92" cy="162.64" r="3.8"/><circle cx="1345.25" cy="164.41" r="3.8"/><circle cx="1354.91" cy="142.19" r="3.8"/><circle cx="1345.57" cy="150.92" r="3.8"/><circle cx="1356.64" cy="182.89" r="3.8"/><circle cx="1353.14" cy="164.98" r="3.8"/><circle cx="1366.89" cy="153.9" r="3.8"/><circle cx="1356.26" cy="154.86" r="3.8"/><circle cx="1349.79" cy="154.02" r="3.8"/><circle cx="1344.27" cy="157.97" r="3.8"/><circle cx="1350.07" cy="159.34" r="3.8"/><circle cx="1354.03" cy="154.87" r="3.8"/><circle cx="1343.86" cy="157.8" r="3.8"/><circle cx="1368.83" cy="154.03" r="3.8"/><circle cx="1354.07" cy="152.16" r="3.8"/><circle cx="1357.17" cy="147.05" r="3.8"/><circle cx="1347.33" cy="150.01" r="3.8"/><circle cx="1357.56" cy="152.82" r="3.8"/><circle cx="1363.83" cy="146.03" r="3.8"/><circle cx="1349.63" cy="162.59" r="3.8"/><circle cx="1356.23" cy="145.58" r="3.8"/><circle cx="1358.44" cy="155.56" r="3.8"/><circle cx="1361.41" cy="165.85" r="3.8"/><circle cx="1365.54" cy="147.92" r="3.8"/><circle cx="1364.87" cy="160.29" r="3.8"/><circle cx="1350.53" cy="147.55" r="3.8"/><circle cx="1346.59" cy="150.95" r="3.8"/><circle cx="1363.17" cy="151.59" r="3.8"/><circle cx="1346.96" cy="153.48" r="3.8"/><circle cx="1346.82" cy="163.9" r="3.8"/><circle cx="1354.51" cy="156.67" r="3.8"/><circle cx="1358.46" cy="152.99" r="3.8"/></g>
<g fill="#231f20"><circle cx="1340.71" cy="263.05" r="3.8"/><circle cx="1328.48" cy="265.07" r="3.8"/><circle cx="1337.89" cy="266.78" r="3.8"/><circle cx="1331.61" cy="264.32" r="3.8"/><circle cx="1351.58" cy="269.32" r="3.8"/><circle cx="1359.98" cy="258.59" r="3.8"/><circle cx="1381.06" cy="268.33" r="3.8"/><circle cx="1361.13" cy="272.85" r="3.8"/><circle cx="1352.92" cy="263.34" r="3.8"/><circle cx="1384.7" cy="269.12" r="3.8"/><circle cx="1370.64" cy="266.88" r="3.8"/><circle cx="1375.85" cy="267.92" r="3.8"/><circle cx="1349.21" cy="265.33" r="3.8"/><circle cx="1336" cy="265.73" r="3.8"/><circle cx="1341.78" cy="267.17" r="3.8"/><circle cx="1329.44" cy="267.86" r="3.8"/><circle cx="1372.85" cy="266.8" r="3.8"/><circle cx="1328.64" cy="266.48" r="3.8"/><circle cx="1333.57" cy="268.92" r="3.8"/><circle cx="1384.35" cy="263.03" r="3.8"/><circle cx="1363.44" cy="265.81" r="3.8"/><circle cx="1347.97" cy="262.64" r="3.8"/><circle cx="1345.98" cy="262.38" r="3.8"/><circle cx="1376.77" cy="266.09" r="3.8"/><circle cx="1370.56" cy="263.86" r="3.8"/><circle cx="1336.11" cy="264.83" r="3.8"/><circle cx="1369.48" cy="271.95" r="3.8"/><circle cx="1374.78" cy="264.61" r="3.8"/><circle cx="1332.83" cy="268.23" r="3.8"/><circle cx="1354.08" cy="257.86" r="3.8"/><circle cx="1352.42" cy="272.95" r="3.8"/><circle cx="1383.55" cy="265.01" r="3.8"/><circle cx="1358.52" cy="259.27" r="3.8"/><circle cx="1331.92" cy="266.85" r="3.8"/><circle cx="1375.98" cy="266.92" r="3.8"/><circle cx="1386.14" cy="265.97" r="3.8"/><circle cx="1327.54" cy="268.45" r="3.8"/><circle cx="1380.17" cy="267.44" r="3.8"/><circle cx="1349.85" cy="265.61" r="3.8"/><circle cx="1337.97" cy="264.61" r="3.8"/><circle cx="1360.37" cy="271.42" r="3.8"/><circle cx="1340.48" cy="263.37" r="3.8"/><circle cx="1347.31" cy="266.2" r="3.8"/><circle cx="1377.59" cy="260.27" r="3.8"/><circle cx="1378.19" cy="267.89" r="3.8"/><circle cx="1334.37" cy="267.76" r="3.8"/><circle cx="1377.06" cy="266.9" r="3.8"/><circle cx="1336.01" cy="266.27" r="3.8"/><circle cx="1331.62" cy="267.22" r="3.8"/><circle cx="1337.86" cy="270.85" r="3.8"/><circle cx="1374.92" cy="267.78" r="3.8"/><circle cx="1379.01" cy="263.44" r="3.8"/><circle cx="1364.13" cy="265.17" r="3.8"/><circle cx="1326.13" cy="268.26" r="3.8"/><circle cx="1357.23" cy="269.3" r="3.8"/><circle cx="1349.62" cy="267.63" r="3.8"/><circle cx="1345.17" cy="263.92" r="3.8"/><circle cx="1349.24" cy="265.74" r="3.8"/><circle cx="1355.02" cy="267.88" r="3.8"/><circle cx="1386.41" cy="268.35" r="3.8"/><circle cx="1376.06" cy="263.39" r="3.8"/><circle cx="1367.05" cy="268.41" r="3.8"/><circle cx="1358.78" cy="264.8" r="3.8"/><circle cx="1362.3" cy="270.24" r="3.8"/><circle cx="1367.63" cy="268.61" r="3.8"/><circle cx="1330.32" cy="266.55" r="3.8"/><circle cx="1330.91" cy="268.03" r="3.8"/><circle cx="1372.6" cy="263.98" r="3.8"/><circle cx="1369.8" cy="268.31" r="3.8"/><circle cx="1342.53" cy="261.1" r="3.8"/><circle cx="1369.9" cy="262.58" r="3.8"/><circle cx="1367.04" cy="264.13" r="3.8"/><circle cx="1384.83" cy="263.74" r="3.8"/><circle cx="1377.47" cy="268.26" r="3.8"/><circle cx="1371.29" cy="267.53" r="3.8"/><circle cx="1357.53" cy="268.7" r="3.8"/><circle cx="1381.06" cy="265.92" r="3.8"/><circle cx="1359.23" cy="257.86" r="3.8"/><circle cx="1349.89" cy="262.25" r="3.8"/><circle cx="1336.54" cy="266.27" r="3.8"/><circle cx="1365.99" cy="260.6" r="3.8"/><circle cx="1363.54" cy="271.42" r="3.8"/><circle cx="1349.47" cy="261.63" r="3.8"/><circle cx="1359.81" cy="261.42" r="3.8"/><circle cx="1369.85" cy="269.96" r="3.8"/><circle cx="1338.69" cy="263.07" r="3.8"/><circle cx="1344.45" cy="266.72" r="3.8"/><circle cx="1381.13" cy="263.38" r="3.8"/><circle cx="1335.88" cy="268.75" r="3.8"/><circle cx="1339.43" cy="269.09" r="3.8"/><circle cx="1329.39" cy="269.95" r="3.8"/><circle cx="1379.97" cy="267.91" r="3.8"/><circle cx="1370.64" cy="268.5" r="3.8"/><circle cx="1358.28" cy="263.49" r="3.8"/><circle cx="1381.59" cy="266.86" r="3.8"/></g>
<g fill="#8a8b8e"><circle cx="1436.13" cy="298.59" r="3.6"/><circle cx="1437.93" cy="223.17" r="3.6"/><circle cx="1434.04" cy="224.67" r="3.6"/></g>
<g fill="#c8c9cb" stroke="#231f20" stroke-width="1.1"><circle cx="1425.39" cy="243.71" r="3.8"/><circle cx="1437.68" cy="241.67" r="3.8"/><circle cx="1428.95" cy="242.81" r="3.8"/><circle cx="1439.12" cy="246.63" r="3.8"/><circle cx="1438.94" cy="238.63" r="3.8"/><circle cx="1435.18" cy="252.32" r="3.8"/><circle cx="1444.03" cy="255.55" r="3.8"/><circle cx="1443" cy="242.91" r="3.8"/><circle cx="1439.4" cy="254.28" r="3.8"/><circle cx="1440.08" cy="245" r="3.8"/><circle cx="1444.27" cy="255.21" r="3.8"/><circle cx="1428.14" cy="256.64" r="3.8"/><circle cx="1426.17" cy="251.12" r="3.8"/><circle cx="1438.4" cy="246.77" r="3.8"/><circle cx="1425.53" cy="248.49" r="3.8"/><circle cx="1444.25" cy="250.95" r="3.8"/><circle cx="1439.84" cy="269.04" r="3.8"/><circle cx="1446.48" cy="257.34" r="3.8"/><circle cx="1430.86" cy="271.16" r="3.8"/><circle cx="1430.86" cy="271.18" r="3.8"/><circle cx="1432.72" cy="245.23" r="3.8"/><circle cx="1434.53" cy="249" r="3.8"/><circle cx="1426.29" cy="259.19" r="3.8"/><circle cx="1434.12" cy="267.6" r="3.8"/><circle cx="1427.82" cy="261.69" r="3.8"/><circle cx="1438.12" cy="254.59" r="3.8"/><circle cx="1435.51" cy="263.11" r="3.8"/><circle cx="1444.43" cy="240.46" r="3.8"/><circle cx="1442.12" cy="247.98" r="3.8"/><circle cx="1441.57" cy="253.21" r="3.8"/><circle cx="1435.04" cy="253.32" r="3.8"/><circle cx="1432.07" cy="246.78" r="3.8"/><circle cx="1432.46" cy="253.71" r="3.8"/><circle cx="1440.65" cy="254.96" r="3.8"/><circle cx="1440.96" cy="239.82" r="3.8"/><circle cx="1432.02" cy="259.69" r="3.8"/><circle cx="1444.28" cy="255.88" r="3.8"/><circle cx="1433.58" cy="255.2" r="3.8"/><circle cx="1428.34" cy="252.24" r="3.8"/><circle cx="1429.54" cy="253.9" r="3.8"/><circle cx="1425.37" cy="255.39" r="3.8"/><circle cx="1436.62" cy="247.54" r="3.8"/><circle cx="1430.43" cy="270.42" r="3.8"/><circle cx="1433.44" cy="235.7" r="3.8"/><circle cx="1442.97" cy="251.43" r="3.8"/><circle cx="1431.81" cy="252.82" r="3.8"/><circle cx="1434.69" cy="243.84" r="3.8"/><circle cx="1432.39" cy="251" r="3.8"/><circle cx="1428.46" cy="255.3" r="3.8"/><circle cx="1448.75" cy="252.19" r="3.8"/><circle cx="1427.61" cy="262.99" r="3.8"/><circle cx="1430.12" cy="247.62" r="3.8"/><circle cx="1435.72" cy="236.38" r="3.8"/><circle cx="1424.61" cy="256.34" r="3.8"/><circle cx="1434.52" cy="266.15" r="3.8"/><circle cx="1437.38" cy="240.38" r="3.8"/><circle cx="1438.07" cy="239.4" r="3.8"/><circle cx="1425.74" cy="260.58" r="3.8"/><circle cx="1434.44" cy="233.94" r="3.8"/><circle cx="1445.32" cy="249.13" r="3.8"/><circle cx="1433.22" cy="241.08" r="3.8"/><circle cx="1440.79" cy="272.69" r="3.8"/><circle cx="1425.98" cy="250.95" r="3.8"/><circle cx="1448.06" cy="249.69" r="3.8"/><circle cx="1445.25" cy="262.68" r="3.8"/><circle cx="1429.58" cy="249.53" r="3.8"/><circle cx="1435.01" cy="241.02" r="3.8"/><circle cx="1426.06" cy="255.38" r="3.8"/><circle cx="1430.38" cy="236.59" r="3.8"/><circle cx="1432.63" cy="255.82" r="3.8"/><circle cx="1446.4" cy="250.74" r="3.8"/><circle cx="1424.04" cy="246.58" r="3.8"/><circle cx="1443.65" cy="256.44" r="3.8"/><circle cx="1429.42" cy="237.98" r="3.8"/><circle cx="1428.91" cy="255.31" r="3.8"/></g>
<g fill="#231f20"><circle cx="1460.81" cy="315.6" r="3.8"/><circle cx="1416.69" cy="316.3" r="3.8"/><circle cx="1431.34" cy="316.93" r="3.8"/><circle cx="1427.98" cy="309.83" r="3.8"/><circle cx="1452.11" cy="314.53" r="3.8"/><circle cx="1464.1" cy="314" r="3.8"/><circle cx="1447.72" cy="315" r="3.8"/><circle cx="1444.21" cy="315.19" r="3.8"/><circle cx="1428.1" cy="319.03" r="3.8"/><circle cx="1440.5" cy="312.22" r="3.8"/><circle cx="1463.55" cy="315.93" r="3.8"/><circle cx="1421.38" cy="312.99" r="3.8"/><circle cx="1438.32" cy="316.41" r="3.8"/><circle cx="1434.47" cy="318.98" r="3.8"/><circle cx="1447.95" cy="311.58" r="3.8"/><circle cx="1430.73" cy="315.68" r="3.8"/><circle cx="1435.85" cy="323.57" r="3.8"/><circle cx="1408.96" cy="318.49" r="3.8"/><circle cx="1435.63" cy="310.83" r="3.8"/><circle cx="1426.35" cy="315.32" r="3.8"/><circle cx="1406.88" cy="316.77" r="3.8"/><circle cx="1444.89" cy="312.67" r="3.8"/><circle cx="1461.09" cy="317.87" r="3.8"/><circle cx="1448.39" cy="313.8" r="3.8"/><circle cx="1461.84" cy="310.12" r="3.8"/><circle cx="1423.71" cy="318.59" r="3.8"/><circle cx="1415.6" cy="315.31" r="3.8"/><circle cx="1432.52" cy="316.94" r="3.8"/><circle cx="1449.77" cy="318.43" r="3.8"/><circle cx="1461.07" cy="316.47" r="3.8"/><circle cx="1423.55" cy="320.86" r="3.8"/><circle cx="1413.88" cy="317.36" r="3.8"/><circle cx="1426.66" cy="320.44" r="3.8"/><circle cx="1418.04" cy="315.99" r="3.8"/><circle cx="1432.84" cy="314.02" r="3.8"/><circle cx="1426.13" cy="315.58" r="3.8"/><circle cx="1414.23" cy="314.46" r="3.8"/><circle cx="1422.14" cy="316.48" r="3.8"/><circle cx="1452.62" cy="316.18" r="3.8"/><circle cx="1455.35" cy="317.75" r="3.8"/><circle cx="1443.14" cy="320.17" r="3.8"/><circle cx="1420.34" cy="314" r="3.8"/><circle cx="1421.4" cy="314.25" r="3.8"/><circle cx="1459.44" cy="317.68" r="3.8"/><circle cx="1416.22" cy="315.63" r="3.8"/><circle cx="1449.98" cy="315.5" r="3.8"/><circle cx="1439.27" cy="314.61" r="3.8"/><circle cx="1455.04" cy="316.05" r="3.8"/><circle cx="1435.26" cy="315.01" r="3.8"/><circle cx="1440.93" cy="317.01" r="3.8"/><circle cx="1412.65" cy="316.61" r="3.8"/><circle cx="1442.32" cy="321.56" r="3.8"/><circle cx="1418.89" cy="315.07" r="3.8"/><circle cx="1409.44" cy="316.41" r="3.8"/><circle cx="1446.64" cy="315.2" r="3.8"/><circle cx="1433.22" cy="315.01" r="3.8"/><circle cx="1444.53" cy="311.89" r="3.8"/><circle cx="1409.76" cy="318.21" r="3.8"/><circle cx="1444.19" cy="315.11" r="3.8"/><circle cx="1450.87" cy="317.06" r="3.8"/><circle cx="1421.12" cy="316.13" r="3.8"/><circle cx="1451.09" cy="315.97" r="3.8"/><circle cx="1436.55" cy="311.11" r="3.8"/><circle cx="1414.93" cy="317.47" r="3.8"/><circle cx="1418.58" cy="316.54" r="3.8"/><circle cx="1417.91" cy="310.82" r="3.8"/><circle cx="1410.89" cy="316.6" r="3.8"/><circle cx="1431.11" cy="314.55" r="3.8"/><circle cx="1442.9" cy="317.49" r="3.8"/><circle cx="1413.93" cy="317.16" r="3.8"/><circle cx="1435.07" cy="318.38" r="3.8"/><circle cx="1440" cy="320.89" r="3.8"/><circle cx="1460.33" cy="315.07" r="3.8"/><circle cx="1435.23" cy="312.67" r="3.8"/><circle cx="1437.77" cy="310.62" r="3.8"/><circle cx="1445.34" cy="318.45" r="3.8"/><circle cx="1430.78" cy="314.2" r="3.8"/><circle cx="1423.22" cy="320.96" r="3.8"/><circle cx="1412.07" cy="316.2" r="3.8"/><circle cx="1458.98" cy="314.1" r="3.8"/><circle cx="1421.48" cy="318.45" r="3.8"/><circle cx="1462.97" cy="318.28" r="3.8"/><circle cx="1412.59" cy="315.85" r="3.8"/><circle cx="1411.78" cy="317.99" r="3.8"/><circle cx="1443.52" cy="313.38" r="3.8"/><circle cx="1408.59" cy="318.4" r="3.8"/><circle cx="1463.93" cy="318.33" r="3.8"/><circle cx="1449.04" cy="313.75" r="3.8"/><circle cx="1421.24" cy="317.87" r="3.8"/><circle cx="1411.36" cy="315.06" r="3.8"/><circle cx="1409.47" cy="316.54" r="3.8"/><circle cx="1457.78" cy="318.22" r="3.8"/><circle cx="1409.36" cy="316.51" r="3.8"/><circle cx="1462.2" cy="314.83" r="3.8"/><circle cx="1453.03" cy="314.02" r="3.8"/></g>
<g fill="#8a8b8e"><circle cx="1511.23" cy="117.57" r="3.6"/><circle cx="1513.73" cy="120.59" r="3.6"/><circle cx="1512.21" cy="123.6" r="3.6"/><circle cx="1510.62" cy="141.71" r="3.6"/><circle cx="1514.92" cy="162.83" r="3.6"/><circle cx="1512.72" cy="173.38" r="3.6"/><circle cx="1511.26" cy="174.89" r="3.6"/><circle cx="1514.49" cy="176.4" r="3.6"/><circle cx="1517.87" cy="183.94" r="3.6"/><circle cx="1517.97" cy="185.45" r="3.6"/><circle cx="1514.13" cy="186.96" r="3.6"/><circle cx="1511.22" cy="189.98" r="3.6"/><circle cx="1516.55" cy="193" r="3.6"/><circle cx="1511.32" cy="196.01" r="3.6"/><circle cx="1514.7" cy="200.54" r="3.6"/><circle cx="1511.07" cy="205.06" r="3.6"/><circle cx="1518.3" cy="209.59" r="3.6"/><circle cx="1514.74" cy="212.61" r="3.6"/><circle cx="1513.9" cy="215.62" r="3.6"/><circle cx="1512.58" cy="294.06" r="3.6"/><circle cx="1514.81" cy="304.62" r="3.6"/><circle cx="1518.18" cy="306.13" r="3.6"/><circle cx="1513.82" cy="307.04" r="3.6"/><circle cx="1512.07" cy="310.66" r="3.6"/></g>
<g fill="#c8c9cb" stroke="#231f20" stroke-width="1.1"><circle cx="1515.27" cy="248.87" r="3.8"/><circle cx="1521.87" cy="232.25" r="3.8"/><circle cx="1541.56" cy="246.36" r="3.8"/><circle cx="1516.03" cy="250.09" r="3.8"/><circle cx="1501.64" cy="224.13" r="3.8"/><circle cx="1512.44" cy="233.02" r="3.8"/><circle cx="1515.9" cy="263.37" r="3.8"/><circle cx="1514.41" cy="233.02" r="3.8"/><circle cx="1497.84" cy="244.98" r="3.8"/><circle cx="1513.35" cy="224.23" r="3.8"/><circle cx="1487.2" cy="240.5" r="3.8"/><circle cx="1501.7" cy="255.64" r="3.8"/><circle cx="1489.25" cy="247.05" r="3.8"/><circle cx="1533.46" cy="257.32" r="3.8"/><circle cx="1487.05" cy="236.99" r="3.8"/><circle cx="1510.88" cy="236.51" r="3.8"/><circle cx="1500.75" cy="256.49" r="3.8"/><circle cx="1522.96" cy="255.5" r="3.8"/><circle cx="1501.71" cy="230.28" r="3.8"/><circle cx="1506.22" cy="232.72" r="3.8"/><circle cx="1499.82" cy="225.31" r="3.8"/><circle cx="1531.31" cy="235.81" r="3.8"/><circle cx="1522.72" cy="248.57" r="3.8"/><circle cx="1513.85" cy="229.17" r="3.8"/><circle cx="1506.38" cy="224.65" r="3.8"/><circle cx="1508.41" cy="258.16" r="3.8"/><circle cx="1509.03" cy="237.23" r="3.8"/><circle cx="1508.65" cy="245.2" r="3.8"/><circle cx="1524.32" cy="235.8" r="3.8"/><circle cx="1533.48" cy="242.09" r="3.8"/><circle cx="1548.06" cy="241.33" r="3.8"/><circle cx="1500.34" cy="241.75" r="3.8"/><circle cx="1510.04" cy="231.89" r="3.8"/><circle cx="1530.51" cy="253.66" r="3.8"/><circle cx="1529.83" cy="245.59" r="3.8"/><circle cx="1514.69" cy="249.86" r="3.8"/><circle cx="1534.65" cy="244.75" r="3.8"/><circle cx="1499.66" cy="255.42" r="3.8"/><circle cx="1536.18" cy="241.79" r="3.8"/><circle cx="1535.02" cy="241.25" r="3.8"/><circle cx="1516.95" cy="239.63" r="3.8"/><circle cx="1512.9" cy="243.95" r="3.8"/><circle cx="1545.05" cy="236.07" r="3.8"/><circle cx="1537.46" cy="236.42" r="3.8"/><circle cx="1525.4" cy="239.79" r="3.8"/><circle cx="1511.2" cy="221.47" r="3.8"/><circle cx="1499.52" cy="245.94" r="3.8"/><circle cx="1483.65" cy="247.28" r="3.8"/><circle cx="1528.73" cy="248.98" r="3.8"/><circle cx="1514.59" cy="252.87" r="3.8"/><circle cx="1527.94" cy="249.55" r="3.8"/><circle cx="1505.73" cy="237.67" r="3.8"/><circle cx="1512.06" cy="255.86" r="3.8"/><circle cx="1524.29" cy="251.42" r="3.8"/><circle cx="1534.55" cy="233.67" r="3.8"/><circle cx="1489.97" cy="238.17" r="3.8"/><circle cx="1533.65" cy="239.58" r="3.8"/><circle cx="1485.01" cy="240.64" r="3.8"/><circle cx="1529.92" cy="252.22" r="3.8"/><circle cx="1512.77" cy="238.31" r="3.8"/><circle cx="1535.34" cy="243.61" r="3.8"/><circle cx="1534.54" cy="241.59" r="3.8"/><circle cx="1519.29" cy="255.57" r="3.8"/><circle cx="1523.81" cy="255.3" r="3.8"/><circle cx="1487.23" cy="232.59" r="3.8"/><circle cx="1533.31" cy="253.06" r="3.8"/><circle cx="1488.2" cy="234.2" r="3.8"/><circle cx="1502.4" cy="241.73" r="3.8"/><circle cx="1490.68" cy="233.07" r="3.8"/><circle cx="1496.81" cy="235.3" r="3.8"/><circle cx="1504.26" cy="230.1" r="3.8"/><circle cx="1531.67" cy="241.04" r="3.8"/><circle cx="1544.03" cy="246.14" r="3.8"/><circle cx="1540.86" cy="237.17" r="3.8"/><circle cx="1507.58" cy="244.02" r="3.8"/><circle cx="1511.42" cy="248.12" r="3.8"/><circle cx="1511.23" cy="243.32" r="3.8"/><circle cx="1533.98" cy="239.94" r="3.8"/><circle cx="1525.35" cy="248.56" r="3.8"/><circle cx="1521.82" cy="260.91" r="3.8"/><circle cx="1525.51" cy="225.05" r="3.8"/><circle cx="1511.42" cy="258.37" r="3.8"/><circle cx="1536.4" cy="249.58" r="3.8"/><circle cx="1524.24" cy="254.32" r="3.8"/><circle cx="1503.74" cy="247.71" r="3.8"/><circle cx="1496.72" cy="238.88" r="3.8"/><circle cx="1496.12" cy="248.77" r="3.8"/><circle cx="1515.65" cy="257.72" r="3.8"/><circle cx="1488.41" cy="235.85" r="3.8"/><circle cx="1520.42" cy="249.76" r="3.8"/><circle cx="1500.05" cy="245.09" r="3.8"/><circle cx="1481.75" cy="236.79" r="3.8"/><circle cx="1490.13" cy="234.67" r="3.8"/><circle cx="1486.74" cy="232.32" r="3.8"/><circle cx="1533.68" cy="249.47" r="3.8"/><circle cx="1492.98" cy="252.32" r="3.8"/><circle cx="1506.35" cy="219.96" r="3.8"/><circle cx="1521.33" cy="237.6" r="3.8"/><circle cx="1533.84" cy="241.11" r="3.8"/><circle cx="1512.91" cy="260.12" r="3.8"/><circle cx="1543.81" cy="238.6" r="3.8"/><circle cx="1496.94" cy="251.47" r="3.8"/><circle cx="1510.16" cy="249.49" r="3.8"/><circle cx="1505.69" cy="259.55" r="3.8"/><circle cx="1502.06" cy="234.07" r="3.8"/><circle cx="1517.08" cy="239.62" r="3.8"/><circle cx="1495.35" cy="244.97" r="3.8"/><circle cx="1490.04" cy="248.47" r="3.8"/><circle cx="1525.48" cy="253.49" r="3.8"/><circle cx="1535.36" cy="249.02" r="3.8"/><circle cx="1532.47" cy="236.16" r="3.8"/><circle cx="1490.59" cy="247.07" r="3.8"/><circle cx="1515.19" cy="226.48" r="3.8"/><circle cx="1533.49" cy="228.14" r="3.8"/><circle cx="1522.5" cy="233.78" r="3.8"/><circle cx="1512.94" cy="229.01" r="3.8"/><circle cx="1510.47" cy="238.06" r="3.8"/><circle cx="1511.11" cy="236.31" r="3.8"/><circle cx="1488.38" cy="234.33" r="3.8"/><circle cx="1500.11" cy="244.88" r="3.8"/></g>
<g fill="#8a8b8e"><circle cx="1591.65" cy="132.66" r="3.6"/><circle cx="1592.71" cy="134.16" r="3.6"/><circle cx="1595.86" cy="193" r="3.6"/><circle cx="1592.66" cy="196.01" r="3.6"/><circle cx="1591.68" cy="208.08" r="3.6"/><circle cx="1592.93" cy="211.1" r="3.6"/><circle cx="1595.93" cy="224.67" r="3.6"/><circle cx="1591.64" cy="251.83" r="3.6"/><circle cx="1592.91" cy="257.86" r="3.6"/><circle cx="1592.25" cy="271.44" r="3.6"/></g>
<g fill="#c8c9cb" stroke="#231f20" stroke-width="1.1"><circle cx="1595.28" cy="173.86" r="3.8"/><circle cx="1597.14" cy="171.17" r="3.8"/><circle cx="1591.87" cy="164.53" r="3.8"/><circle cx="1597.25" cy="171.02" r="3.8"/><circle cx="1590.41" cy="178.04" r="3.8"/><circle cx="1591.2" cy="164.48" r="3.8"/><circle cx="1596.34" cy="156.04" r="3.8"/><circle cx="1593.75" cy="176.98" r="3.8"/><circle cx="1597.49" cy="166.01" r="3.8"/><circle cx="1594.88" cy="177.82" r="3.8"/><circle cx="1594.78" cy="171.45" r="3.8"/><circle cx="1590.77" cy="176.39" r="3.8"/><circle cx="1593.15" cy="158.72" r="3.8"/><circle cx="1592.5" cy="158.37" r="3.8"/><circle cx="1594.63" cy="172.95" r="3.8"/><circle cx="1593.2" cy="172.16" r="3.8"/><circle cx="1596.01" cy="169.88" r="3.8"/><circle cx="1596.11" cy="160.25" r="3.8"/><circle cx="1597.99" cy="164.35" r="3.8"/><circle cx="1594.93" cy="161.31" r="3.8"/><circle cx="1591.45" cy="163.79" r="3.8"/><circle cx="1593.24" cy="167.61" r="3.8"/><circle cx="1590.23" cy="168.49" r="3.8"/><circle cx="1593.78" cy="175.01" r="3.8"/><circle cx="1595.89" cy="149.7" r="3.8"/><circle cx="1596.61" cy="156.7" r="3.8"/><circle cx="1591.49" cy="179.91" r="3.8"/><circle cx="1594.7" cy="176.3" r="3.8"/><circle cx="1589.61" cy="164.15" r="3.8"/><circle cx="1596.11" cy="157.12" r="3.8"/><circle cx="1597.61" cy="173.51" r="3.8"/><circle cx="1596.47" cy="154.68" r="3.8"/><circle cx="1598.55" cy="170.25" r="3.8"/><circle cx="1595.29" cy="152.15" r="3.8"/><circle cx="1593.42" cy="151.23" r="3.8"/><circle cx="1592.76" cy="167.14" r="3.8"/><circle cx="1597.55" cy="158.51" r="3.8"/><circle cx="1594.76" cy="173.41" r="3.8"/><circle cx="1593.11" cy="160.49" r="3.8"/><circle cx="1591.97" cy="175.89" r="3.8"/><circle cx="1589.74" cy="174.54" r="3.8"/><circle cx="1591.42" cy="158.47" r="3.8"/><circle cx="1593.7" cy="181.94" r="3.8"/><circle cx="1596.65" cy="178.32" r="3.8"/><circle cx="1596.22" cy="172.79" r="3.8"/><circle cx="1594.81" cy="169.65" r="3.8"/><circle cx="1590.99" cy="155.55" r="3.8"/><circle cx="1593.7" cy="162.47" r="3.8"/><circle cx="1591.3" cy="167.32" r="3.8"/><circle cx="1590.95" cy="169.48" r="3.8"/><circle cx="1599" cy="166.44" r="3.8"/><circle cx="1593.24" cy="163.82" r="3.8"/><circle cx="1589.66" cy="174.13" r="3.8"/><circle cx="1598.25" cy="160.17" r="3.8"/><circle cx="1591.92" cy="160.38" r="3.8"/><circle cx="1589.42" cy="165.78" r="3.8"/><circle cx="1598.53" cy="161.41" r="3.8"/><circle cx="1597.24" cy="167.51" r="3.8"/><circle cx="1590.23" cy="163.96" r="3.8"/><circle cx="1591.77" cy="174.91" r="3.8"/><circle cx="1595.69" cy="158.97" r="3.8"/><circle cx="1593.61" cy="162.85" r="3.8"/><circle cx="1596.51" cy="155.58" r="3.8"/><circle cx="1597.49" cy="165.16" r="3.8"/><circle cx="1597.94" cy="168.36" r="3.8"/><circle cx="1593.99" cy="185.25" r="3.8"/><circle cx="1592.05" cy="177.54" r="3.8"/><circle cx="1590.01" cy="155.3" r="3.8"/><circle cx="1589.61" cy="166.68" r="3.8"/><circle cx="1590.72" cy="152.52" r="3.8"/></g>
<g fill="#231f20"><circle cx="1578.54" cy="268.72" r="3.8"/><circle cx="1592.92" cy="254.84" r="3.8"/><circle cx="1613.92" cy="264.9" r="3.8"/><circle cx="1583.03" cy="268.74" r="3.8"/><circle cx="1587.26" cy="267.2" r="3.8"/><circle cx="1615" cy="262.05" r="3.8"/><circle cx="1611.14" cy="265.15" r="3.8"/><circle cx="1564.24" cy="263.65" r="3.8"/><circle cx="1598.77" cy="264.73" r="3.8"/><circle cx="1581.82" cy="264.52" r="3.8"/><circle cx="1577.41" cy="263.88" r="3.8"/><circle cx="1598.76" cy="258.3" r="3.8"/><circle cx="1580.6" cy="265.01" r="3.8"/><circle cx="1618.97" cy="266.23" r="3.8"/><circle cx="1570.83" cy="267.57" r="3.8"/><circle cx="1607.65" cy="266.86" r="3.8"/><circle cx="1592.93" cy="259.48" r="3.8"/><circle cx="1605.15" cy="267.63" r="3.8"/><circle cx="1568.44" cy="263.88" r="3.8"/><circle cx="1596.42" cy="259.43" r="3.8"/><circle cx="1569.41" cy="264.9" r="3.8"/><circle cx="1592.21" cy="269.77" r="3.8"/><circle cx="1595.02" cy="262.37" r="3.8"/><circle cx="1597.29" cy="268.39" r="3.8"/><circle cx="1600.03" cy="266.82" r="3.8"/><circle cx="1580.45" cy="266.59" r="3.8"/><circle cx="1591.92" cy="271.01" r="3.8"/><circle cx="1571.73" cy="266.61" r="3.8"/><circle cx="1590.47" cy="267.91" r="3.8"/><circle cx="1569.83" cy="265.31" r="3.8"/><circle cx="1619.44" cy="262.34" r="3.8"/><circle cx="1581.38" cy="264.4" r="3.8"/><circle cx="1565.57" cy="264.96" r="3.8"/><circle cx="1587.71" cy="262.28" r="3.8"/><circle cx="1618.29" cy="263.07" r="3.8"/><circle cx="1605.4" cy="263.58" r="3.8"/><circle cx="1601.19" cy="262.08" r="3.8"/><circle cx="1580.57" cy="264.56" r="3.8"/><circle cx="1617.4" cy="266.33" r="3.8"/><circle cx="1592.51" cy="263.31" r="3.8"/><circle cx="1592.81" cy="260.02" r="3.8"/><circle cx="1606.95" cy="261.81" r="3.8"/><circle cx="1592.34" cy="271.44" r="3.8"/><circle cx="1621.08" cy="265.64" r="3.8"/><circle cx="1600.47" cy="260.2" r="3.8"/><circle cx="1603.44" cy="263.77" r="3.8"/><circle cx="1583.55" cy="265.98" r="3.8"/><circle cx="1600.69" cy="268.27" r="3.8"/><circle cx="1600.55" cy="269.2" r="3.8"/><circle cx="1606.17" cy="270.01" r="3.8"/><circle cx="1606.26" cy="265.33" r="3.8"/><circle cx="1600.55" cy="267.58" r="3.8"/><circle cx="1600.93" cy="258.76" r="3.8"/><circle cx="1577.31" cy="263.4" r="3.8"/><circle cx="1593.23" cy="271.44" r="3.8"/><circle cx="1609.62" cy="265.34" r="3.8"/><circle cx="1591.79" cy="259.43" r="3.8"/><circle cx="1597.69" cy="266.76" r="3.8"/><circle cx="1623.19" cy="266.29" r="3.8"/><circle cx="1621.08" cy="261.81" r="3.8"/><circle cx="1568.77" cy="264.28" r="3.8"/><circle cx="1596.08" cy="271.44" r="3.8"/><circle cx="1611.07" cy="264.01" r="3.8"/><circle cx="1592.89" cy="267.17" r="3.8"/><circle cx="1600.63" cy="267.97" r="3.8"/><circle cx="1611.87" cy="269.99" r="3.8"/><circle cx="1613.41" cy="262.73" r="3.8"/><circle cx="1618.5" cy="263.92" r="3.8"/><circle cx="1620.47" cy="264.73" r="3.8"/><circle cx="1609.89" cy="266.82" r="3.8"/><circle cx="1595.6" cy="268.57" r="3.8"/><circle cx="1615.62" cy="267.42" r="3.8"/><circle cx="1606.55" cy="261.87" r="3.8"/><circle cx="1593.31" cy="265.98" r="3.8"/><circle cx="1603.15" cy="265.75" r="3.8"/><circle cx="1621.26" cy="265.05" r="3.8"/><circle cx="1582.82" cy="265.65" r="3.8"/><circle cx="1575.12" cy="264.8" r="3.8"/><circle cx="1619.42" cy="265.1" r="3.8"/><circle cx="1612.41" cy="263.01" r="3.8"/><circle cx="1578.18" cy="266.27" r="3.8"/><circle cx="1617.48" cy="267.18" r="3.8"/><circle cx="1592.31" cy="266.79" r="3.8"/><circle cx="1585.53" cy="262.35" r="3.8"/><circle cx="1563.71" cy="263.92" r="3.8"/><circle cx="1582.58" cy="263.7" r="3.8"/><circle cx="1609.8" cy="262.83" r="3.8"/><circle cx="1578.69" cy="265.57" r="3.8"/><circle cx="1581.3" cy="266.86" r="3.8"/><circle cx="1570.75" cy="266.55" r="3.8"/><circle cx="1595.13" cy="265.16" r="3.8"/><circle cx="1610.81" cy="263.58" r="3.8"/><circle cx="1570.01" cy="268.15" r="3.8"/><circle cx="1596.27" cy="261.49" r="3.8"/><circle cx="1616.12" cy="266.9" r="3.8"/></g>
<g fill="#231f20"><circle cx="1645.32" cy="265.33" r="3.8"/><circle cx="1696.41" cy="269.45" r="3.8"/><circle cx="1658.27" cy="269.25" r="3.8"/><circle cx="1702.03" cy="269.95" r="3.8"/><circle cx="1691.36" cy="272.28" r="3.8"/><circle cx="1643.08" cy="270.03" r="3.8"/><circle cx="1697.25" cy="267.42" r="3.8"/><circle cx="1697.18" cy="266.16" r="3.8"/><circle cx="1675.96" cy="263.89" r="3.8"/><circle cx="1660.98" cy="267.18" r="3.8"/><circle cx="1673.94" cy="266.89" r="3.8"/><circle cx="1669.91" cy="273.32" r="3.8"/><circle cx="1671.22" cy="263.89" r="3.8"/><circle cx="1661.16" cy="269.02" r="3.8"/><circle cx="1668.07" cy="272.3" r="3.8"/><circle cx="1648.95" cy="268.86" r="3.8"/><circle cx="1679.98" cy="263.89" r="3.8"/><circle cx="1674.12" cy="272.53" r="3.8"/><circle cx="1673.98" cy="275.48" r="3.8"/><circle cx="1664.7" cy="268.87" r="3.8"/><circle cx="1649.96" cy="268.97" r="3.8"/><circle cx="1667.02" cy="263.89" r="3.8"/><circle cx="1662.94" cy="269.07" r="3.8"/><circle cx="1656.71" cy="270.2" r="3.8"/><circle cx="1655.27" cy="267.31" r="3.8"/><circle cx="1693.84" cy="270.01" r="3.8"/><circle cx="1647.81" cy="269.25" r="3.8"/><circle cx="1696.12" cy="270.65" r="3.8"/><circle cx="1685.48" cy="270.18" r="3.8"/><circle cx="1645.46" cy="266.07" r="3.8"/><circle cx="1682.56" cy="273.37" r="3.8"/><circle cx="1645.73" cy="272.4" r="3.8"/><circle cx="1678.31" cy="266.09" r="3.8"/><circle cx="1655.24" cy="269.26" r="3.8"/><circle cx="1674.01" cy="267.65" r="3.8"/><circle cx="1653.58" cy="273.01" r="3.8"/><circle cx="1696.75" cy="268.03" r="3.8"/><circle cx="1672.21" cy="268.79" r="3.8"/><circle cx="1699.57" cy="270.27" r="3.8"/><circle cx="1694.63" cy="273.09" r="3.8"/><circle cx="1660.54" cy="268.81" r="3.8"/><circle cx="1701.53" cy="271.14" r="3.8"/><circle cx="1692.93" cy="265.6" r="3.8"/><circle cx="1698.77" cy="269.43" r="3.8"/><circle cx="1659.47" cy="270.15" r="3.8"/><circle cx="1682.04" cy="265.78" r="3.8"/><circle cx="1645.04" cy="270.81" r="3.8"/><circle cx="1663.56" cy="270.3" r="3.8"/><circle cx="1656.2" cy="268.36" r="3.8"/><circle cx="1673.67" cy="271.89" r="3.8"/><circle cx="1667.42" cy="267.14" r="3.8"/><circle cx="1699.53" cy="271.81" r="3.8"/><circle cx="1698.66" cy="271.05" r="3.8"/><circle cx="1644.56" cy="268.73" r="3.8"/><circle cx="1654.48" cy="269.89" r="3.8"/><circle cx="1687.06" cy="269.27" r="3.8"/><circle cx="1671.26" cy="275.72" r="3.8"/><circle cx="1686.03" cy="270.59" r="3.8"/><circle cx="1655.87" cy="268.78" r="3.8"/><circle cx="1649.46" cy="264.97" r="3.8"/><circle cx="1699.71" cy="268.3" r="3.8"/><circle cx="1663.62" cy="271.29" r="3.8"/><circle cx="1689.58" cy="268.52" r="3.8"/><circle cx="1672.24" cy="264.65" r="3.8"/><circle cx="1698.42" cy="266.03" r="3.8"/><circle cx="1645.49" cy="270.56" r="3.8"/><circle cx="1681.05" cy="268.78" r="3.8"/><circle cx="1664.22" cy="270.08" r="3.8"/><circle cx="1679.14" cy="266.45" r="3.8"/><circle cx="1672.89" cy="275.96" r="3.8"/><circle cx="1671.1" cy="268.79" r="3.8"/><circle cx="1699.51" cy="272.3" r="3.8"/><circle cx="1698.53" cy="268.12" r="3.8"/><circle cx="1680" cy="274.27" r="3.8"/><circle cx="1685.41" cy="271.4" r="3.8"/><circle cx="1654.31" cy="270.26" r="3.8"/><circle cx="1643.96" cy="268.8" r="3.8"/><circle cx="1683.94" cy="270.21" r="3.8"/><circle cx="1644.26" cy="268.1" r="3.8"/><circle cx="1644.05" cy="270.13" r="3.8"/><circle cx="1668.86" cy="272.83" r="3.8"/><circle cx="1683.25" cy="266.02" r="3.8"/><circle cx="1655.86" cy="270.94" r="3.8"/><circle cx="1702.04" cy="268.36" r="3.8"/><circle cx="1681.34" cy="265.75" r="3.8"/><circle cx="1659.95" cy="267.01" r="3.8"/><circle cx="1685.3" cy="271.28" r="3.8"/><circle cx="1651.01" cy="268.59" r="3.8"/><circle cx="1679.79" cy="271.74" r="3.8"/><circle cx="1686.92" cy="270.03" r="3.8"/><circle cx="1662.52" cy="267.48" r="3.8"/><circle cx="1701.39" cy="270.45" r="3.8"/><circle cx="1676.42" cy="273.34" r="3.8"/><circle cx="1682.04" cy="269.41" r="3.8"/><circle cx="1649.25" cy="268.61" r="3.8"/></g>
<g fill="#8a8b8e"><circle cx="1751.91" cy="300.1" r="3.6"/><circle cx="1751.99" cy="224.67" r="3.6"/></g>
<g fill="#c8c9cb" stroke="#231f20" stroke-width="1.1"><circle cx="1753.61" cy="237.83" r="3.8"/><circle cx="1756.11" cy="252.06" r="3.8"/><circle cx="1751.3" cy="259.79" r="3.8"/><circle cx="1750.23" cy="250.11" r="3.8"/><circle cx="1747.81" cy="249.56" r="3.8"/><circle cx="1754.33" cy="262.14" r="3.8"/><circle cx="1751.74" cy="265.15" r="3.8"/><circle cx="1752.32" cy="252.8" r="3.8"/><circle cx="1748.26" cy="254.28" r="3.8"/><circle cx="1753.67" cy="252.37" r="3.8"/><circle cx="1754.39" cy="253.1" r="3.8"/><circle cx="1753.69" cy="246.46" r="3.8"/><circle cx="1747.9" cy="249.54" r="3.8"/><circle cx="1753.37" cy="259.24" r="3.8"/><circle cx="1753.29" cy="247.43" r="3.8"/><circle cx="1750.2" cy="237.19" r="3.8"/><circle cx="1753.27" cy="238.23" r="3.8"/><circle cx="1752.38" cy="250.15" r="3.8"/><circle cx="1753.35" cy="243.83" r="3.8"/><circle cx="1750.87" cy="250.96" r="3.8"/><circle cx="1749.37" cy="257.04" r="3.8"/><circle cx="1751.93" cy="254.03" r="3.8"/><circle cx="1752.01" cy="265.81" r="3.8"/><circle cx="1751.5" cy="262.72" r="3.8"/><circle cx="1750.79" cy="257.74" r="3.8"/><circle cx="1749.93" cy="260.66" r="3.8"/><circle cx="1747.4" cy="254.01" r="3.8"/><circle cx="1749.04" cy="258.47" r="3.8"/><circle cx="1752.63" cy="259.04" r="3.8"/><circle cx="1751.44" cy="239.64" r="3.8"/><circle cx="1750.16" cy="247.06" r="3.8"/><circle cx="1753.44" cy="257.68" r="3.8"/><circle cx="1754.91" cy="254.42" r="3.8"/><circle cx="1748.04" cy="258.93" r="3.8"/><circle cx="1753.06" cy="267.75" r="3.8"/><circle cx="1748.81" cy="254.37" r="3.8"/><circle cx="1755.33" cy="246.38" r="3.8"/><circle cx="1750.35" cy="260.77" r="3.8"/><circle cx="1755.39" cy="256.96" r="3.8"/><circle cx="1750.46" cy="261.46" r="3.8"/><circle cx="1753.14" cy="253.91" r="3.8"/><circle cx="1747.59" cy="247.33" r="3.8"/><circle cx="1748.69" cy="247.35" r="3.8"/><circle cx="1755.43" cy="254.45" r="3.8"/><circle cx="1750.73" cy="265.49" r="3.8"/><circle cx="1748.94" cy="250.17" r="3.8"/><circle cx="1750.24" cy="267.8" r="3.8"/><circle cx="1752.91" cy="231.35" r="3.8"/><circle cx="1749.91" cy="240.18" r="3.8"/><circle cx="1753.14" cy="259.5" r="3.8"/><circle cx="1749.59" cy="240.28" r="3.8"/><circle cx="1752.37" cy="257.14" r="3.8"/><circle cx="1749.3" cy="238.67" r="3.8"/><circle cx="1748.82" cy="253.58" r="3.8"/><circle cx="1746.81" cy="252.26" r="3.8"/><circle cx="1750.32" cy="252.39" r="3.8"/><circle cx="1747.3" cy="250.81" r="3.8"/><circle cx="1751.9" cy="239.77" r="3.8"/><circle cx="1752.23" cy="253.88" r="3.8"/><circle cx="1751.71" cy="257.37" r="3.8"/><circle cx="1752.76" cy="247.43" r="3.8"/><circle cx="1751.9" cy="261.82" r="3.8"/><circle cx="1747.85" cy="248.51" r="3.8"/><circle cx="1754.75" cy="253.97" r="3.8"/><circle cx="1755.37" cy="249.74" r="3.8"/></g>
<g fill="#231f20"><circle cx="1758.04" cy="316.47" r="3.8"/><circle cx="1772.86" cy="316.62" r="3.8"/><circle cx="1728.33" cy="317.77" r="3.8"/><circle cx="1767.38" cy="316.63" r="3.8"/><circle cx="1737.75" cy="318.37" r="3.8"/><circle cx="1743.35" cy="312.92" r="3.8"/><circle cx="1734.1" cy="316.91" r="3.8"/><circle cx="1780.68" cy="314.97" r="3.8"/><circle cx="1733.31" cy="316.25" r="3.8"/><circle cx="1765.29" cy="317.88" r="3.8"/><circle cx="1762.54" cy="314.27" r="3.8"/><circle cx="1737.89" cy="317.27" r="3.8"/><circle cx="1734.78" cy="316.81" r="3.8"/><circle cx="1754.23" cy="322.73" r="3.8"/><circle cx="1730.09" cy="314.4" r="3.8"/><circle cx="1776.47" cy="316.21" r="3.8"/><circle cx="1727.88" cy="314.43" r="3.8"/><circle cx="1740.47" cy="313.78" r="3.8"/><circle cx="1771.66" cy="316.3" r="3.8"/><circle cx="1780.09" cy="316.48" r="3.8"/><circle cx="1747.39" cy="318.59" r="3.8"/><circle cx="1731.52" cy="316.08" r="3.8"/><circle cx="1731.45" cy="314.44" r="3.8"/><circle cx="1762.29" cy="318.14" r="3.8"/><circle cx="1736.78" cy="316.33" r="3.8"/><circle cx="1730.04" cy="314.62" r="3.8"/><circle cx="1726" cy="314.81" r="3.8"/><circle cx="1752.86" cy="316.36" r="3.8"/><circle cx="1737.51" cy="312.53" r="3.8"/><circle cx="1772.86" cy="312.14" r="3.8"/><circle cx="1735.15" cy="317.58" r="3.8"/><circle cx="1777.24" cy="319.79" r="3.8"/><circle cx="1749.35" cy="314.43" r="3.8"/><circle cx="1753.96" cy="316.5" r="3.8"/><circle cx="1743.57" cy="310.81" r="3.8"/><circle cx="1774.53" cy="316.6" r="3.8"/><circle cx="1723.37" cy="317.94" r="3.8"/><circle cx="1737.62" cy="317.82" r="3.8"/><circle cx="1756.46" cy="314.2" r="3.8"/><circle cx="1721.81" cy="319.83" r="3.8"/><circle cx="1778.68" cy="315.31" r="3.8"/><circle cx="1762.82" cy="317.36" r="3.8"/><circle cx="1781.46" cy="318.36" r="3.8"/><circle cx="1768.91" cy="318.22" r="3.8"/><circle cx="1777.87" cy="315.56" r="3.8"/><circle cx="1754.61" cy="319.15" r="3.8"/><circle cx="1761.35" cy="317.42" r="3.8"/><circle cx="1750.81" cy="310.66" r="3.8"/><circle cx="1781.26" cy="318.63" r="3.8"/><circle cx="1778.55" cy="315.41" r="3.8"/><circle cx="1741.85" cy="315.8" r="3.8"/><circle cx="1771.11" cy="317.41" r="3.8"/><circle cx="1727.54" cy="316.59" r="3.8"/><circle cx="1736.5" cy="315.32" r="3.8"/><circle cx="1766.19" cy="315.29" r="3.8"/><circle cx="1733.09" cy="314.8" r="3.8"/><circle cx="1729.33" cy="313.9" r="3.8"/><circle cx="1771.5" cy="318.29" r="3.8"/><circle cx="1765.06" cy="319.59" r="3.8"/><circle cx="1765.34" cy="316.33" r="3.8"/><circle cx="1744.29" cy="312.61" r="3.8"/><circle cx="1745.02" cy="312.87" r="3.8"/><circle cx="1769.45" cy="317.13" r="3.8"/><circle cx="1759.35" cy="314.2" r="3.8"/><circle cx="1756.17" cy="314.71" r="3.8"/><circle cx="1768.86" cy="315.94" r="3.8"/><circle cx="1744.12" cy="313.61" r="3.8"/><circle cx="1749.04" cy="322.73" r="3.8"/><circle cx="1757.99" cy="312.22" r="3.8"/><circle cx="1738.19" cy="317.51" r="3.8"/><circle cx="1731.13" cy="314.28" r="3.8"/><circle cx="1745.02" cy="311.35" r="3.8"/><circle cx="1773.53" cy="315.03" r="3.8"/><circle cx="1775.43" cy="317.55" r="3.8"/><circle cx="1755.1" cy="318.51" r="3.8"/><circle cx="1754.83" cy="313.68" r="3.8"/><circle cx="1751.33" cy="310.84" r="3.8"/><circle cx="1733.34" cy="319.4" r="3.8"/><circle cx="1759.99" cy="314.08" r="3.8"/><circle cx="1741.24" cy="315.82" r="3.8"/><circle cx="1754.67" cy="310.66" r="3.8"/><circle cx="1739.38" cy="318.38" r="3.8"/><circle cx="1759.13" cy="315.49" r="3.8"/><circle cx="1774.2" cy="317.66" r="3.8"/><circle cx="1755.22" cy="312.3" r="3.8"/><circle cx="1761.53" cy="316.01" r="3.8"/><circle cx="1776.85" cy="314.73" r="3.8"/><circle cx="1730.22" cy="316.68" r="3.8"/><circle cx="1750.97" cy="319.4" r="3.8"/><circle cx="1748.58" cy="315.9" r="3.8"/><circle cx="1778.94" cy="314.96" r="3.8"/><circle cx="1723.82" cy="314.24" r="3.8"/><circle cx="1743.77" cy="312" r="3.8"/><circle cx="1733.21" cy="315.22" r="3.8"/><circle cx="1733.96" cy="321.32" r="3.8"/></g>
<g fill="#8a8b8e"><circle cx="1832.57" cy="73.82" r="3.6"/><circle cx="1829.46" cy="153.77" r="3.6"/><circle cx="1835.48" cy="159.81" r="3.6"/><circle cx="1831.47" cy="174.89" r="3.6"/><circle cx="1834.45" cy="179.42" r="3.6"/><circle cx="1832.13" cy="182.44" r="3.6"/><circle cx="1826.82" cy="191.49" r="3.6"/><circle cx="1829.92" cy="193" r="3.6"/><circle cx="1832.55" cy="212.61" r="3.6"/><circle cx="1827.03" cy="214.11" r="3.6"/></g>
<g fill="#8a8b8e"><circle cx="1844.87" cy="290.93" r="3.6"/><circle cx="1836.89" cy="297.55" r="3.6"/><circle cx="1851.95" cy="298.74" r="3.6"/><circle cx="1844.87" cy="304.24" r="3.6"/><circle cx="1837.64" cy="306.7" r="3.6"/><circle cx="1850.58" cy="301.27" r="3.6"/><circle cx="1811.81" cy="305.63" r="3.6"/><circle cx="1855.83" cy="308.24" r="3.6"/><circle cx="1812.54" cy="304.34" r="3.6"/><circle cx="1815.97" cy="293.21" r="3.6"/><circle cx="1828.56" cy="305.38" r="3.6"/><circle cx="1817.72" cy="301.84" r="3.6"/><circle cx="1842.87" cy="307.28" r="3.6"/><circle cx="1827.6" cy="296.71" r="3.6"/><circle cx="1828.86" cy="301.6" r="3.6"/><circle cx="1820.83" cy="307.86" r="3.6"/><circle cx="1840.97" cy="291.57" r="3.6"/><circle cx="1811.61" cy="304.95" r="3.6"/><circle cx="1822.97" cy="302.37" r="3.6"/><circle cx="1846.93" cy="297.46" r="3.6"/><circle cx="1837.13" cy="305.88" r="3.6"/><circle cx="1823.96" cy="307.31" r="3.6"/><circle cx="1846.88" cy="300.06" r="3.6"/><circle cx="1837.53" cy="306.49" r="3.6"/><circle cx="1845.67" cy="304.41" r="3.6"/><circle cx="1824.89" cy="305" r="3.6"/><circle cx="1834.34" cy="303.32" r="3.6"/><circle cx="1818.94" cy="297.34" r="3.6"/><circle cx="1838.9" cy="302.19" r="3.6"/><circle cx="1854.72" cy="303.45" r="3.6"/><circle cx="1832.87" cy="304.39" r="3.6"/><circle cx="1820.5" cy="300.88" r="3.6"/><circle cx="1837.3" cy="291.38" r="3.6"/><circle cx="1818.46" cy="304.58" r="3.6"/><circle cx="1823.77" cy="304.52" r="3.6"/><circle cx="1838.26" cy="299.86" r="3.6"/><circle cx="1825.4" cy="300.02" r="3.6"/><circle cx="1845.29" cy="300.11" r="3.6"/><circle cx="1821.21" cy="307.05" r="3.6"/><circle cx="1811.4" cy="304.35" r="3.6"/><circle cx="1827.46" cy="292.77" r="3.6"/><circle cx="1821.08" cy="292.76" r="3.6"/><circle cx="1819.3" cy="298.69" r="3.6"/><circle cx="1821.78" cy="299.49" r="3.6"/><circle cx="1815.61" cy="304.71" r="3.6"/><circle cx="1824.76" cy="308.19" r="3.6"/></g>
<g fill="#c8c9cb" stroke="#231f20" stroke-width="1.1"><circle cx="1822.89" cy="280.02" r="3.8"/><circle cx="1832.59" cy="276.25" r="3.8"/><circle cx="1838.81" cy="260.3" r="3.8"/><circle cx="1833.9" cy="276.87" r="3.8"/><circle cx="1835.69" cy="275.33" r="3.8"/><circle cx="1837.9" cy="273.28" r="3.8"/><circle cx="1834.34" cy="265.38" r="3.8"/><circle cx="1834.55" cy="265.34" r="3.8"/><circle cx="1827.35" cy="279.84" r="3.8"/><circle cx="1827.87" cy="260.37" r="3.8"/><circle cx="1821.24" cy="276.69" r="3.8"/><circle cx="1826.69" cy="272.88" r="3.8"/><circle cx="1837.91" cy="279.36" r="3.8"/><circle cx="1822.58" cy="283.08" r="3.8"/></g>
<g fill="#c8c9cb" stroke="#231f20" stroke-width="1.1"><circle cx="1843.64" cy="245.02" r="3.8"/><circle cx="1838.97" cy="240.24" r="3.8"/><circle cx="1822.41" cy="237.71" r="3.8"/><circle cx="1803.87" cy="242.16" r="3.8"/><circle cx="1843.99" cy="219.16" r="3.8"/><circle cx="1813.27" cy="255.25" r="3.8"/><circle cx="1830.94" cy="226.29" r="3.8"/><circle cx="1845.1" cy="227.74" r="3.8"/><circle cx="1849.2" cy="253.22" r="3.8"/><circle cx="1809.52" cy="250.87" r="3.8"/><circle cx="1848.78" cy="227.81" r="3.8"/><circle cx="1823.85" cy="246.58" r="3.8"/><circle cx="1818.56" cy="228.36" r="3.8"/><circle cx="1859.05" cy="240.58" r="3.8"/><circle cx="1856.22" cy="253.89" r="3.8"/><circle cx="1859.31" cy="221.89" r="3.8"/><circle cx="1813" cy="249.01" r="3.8"/><circle cx="1811.42" cy="240.89" r="3.8"/><circle cx="1834.62" cy="220.31" r="3.8"/><circle cx="1830" cy="223.81" r="3.8"/><circle cx="1856.94" cy="238.31" r="3.8"/><circle cx="1814.58" cy="254.09" r="3.8"/><circle cx="1835.67" cy="223.2" r="3.8"/><circle cx="1859.21" cy="226.34" r="3.8"/><circle cx="1836.88" cy="226.76" r="3.8"/><circle cx="1832.37" cy="227.63" r="3.8"/><circle cx="1820.36" cy="250.12" r="3.8"/><circle cx="1832.04" cy="220.31" r="3.8"/><circle cx="1838.71" cy="258.01" r="3.8"/><circle cx="1837.81" cy="217.4" r="3.8"/><circle cx="1827.95" cy="238.58" r="3.8"/><circle cx="1837.16" cy="232.73" r="3.8"/><circle cx="1853.9" cy="238.74" r="3.8"/><circle cx="1846.87" cy="221.91" r="3.8"/><circle cx="1843.19" cy="228.73" r="3.8"/><circle cx="1829.95" cy="251.03" r="3.8"/><circle cx="1813.38" cy="248.11" r="3.8"/><circle cx="1814.89" cy="219.24" r="3.8"/><circle cx="1849.87" cy="224.94" r="3.8"/><circle cx="1802.92" cy="242.27" r="3.8"/><circle cx="1838.93" cy="251.88" r="3.8"/><circle cx="1822.08" cy="229.41" r="3.8"/><circle cx="1810.95" cy="234.05" r="3.8"/><circle cx="1846.84" cy="231.58" r="3.8"/><circle cx="1834.15" cy="226.31" r="3.8"/><circle cx="1801.62" cy="235.15" r="3.8"/><circle cx="1825.08" cy="248.12" r="3.8"/><circle cx="1805.76" cy="256.31" r="3.8"/><circle cx="1841.14" cy="218.93" r="3.8"/><circle cx="1841.49" cy="235.61" r="3.8"/><circle cx="1838.33" cy="222.67" r="3.8"/><circle cx="1824.26" cy="241.33" r="3.8"/><circle cx="1856.84" cy="218.38" r="3.8"/><circle cx="1848.96" cy="252.95" r="3.8"/><circle cx="1821.43" cy="232.22" r="3.8"/><circle cx="1817.43" cy="230.03" r="3.8"/><circle cx="1833.92" cy="227.88" r="3.8"/><circle cx="1804.78" cy="234.66" r="3.8"/><circle cx="1856.95" cy="221.22" r="3.8"/><circle cx="1818.51" cy="227.22" r="3.8"/><circle cx="1808.25" cy="228.85" r="3.8"/><circle cx="1821.53" cy="236.29" r="3.8"/><circle cx="1818.3" cy="239.47" r="3.8"/><circle cx="1826.74" cy="256.38" r="3.8"/><circle cx="1811.66" cy="249.34" r="3.8"/><circle cx="1808.72" cy="245.37" r="3.8"/><circle cx="1857.98" cy="258.43" r="3.8"/><circle cx="1853.3" cy="257.03" r="3.8"/><circle cx="1808.49" cy="241.64" r="3.8"/><circle cx="1830.92" cy="241.25" r="3.8"/><circle cx="1832.98" cy="257.02" r="3.8"/><circle cx="1818.82" cy="259.06" r="3.8"/><circle cx="1850.48" cy="229.34" r="3.8"/><circle cx="1825.09" cy="251.85" r="3.8"/><circle cx="1819.78" cy="219.35" r="3.8"/><circle cx="1815.82" cy="254.39" r="3.8"/><circle cx="1821.49" cy="222.81" r="3.8"/><circle cx="1855.89" cy="231.26" r="3.8"/><circle cx="1812.96" cy="233.11" r="3.8"/><circle cx="1820.38" cy="239.06" r="3.8"/><circle cx="1837.18" cy="239.12" r="3.8"/><circle cx="1841.45" cy="218.14" r="3.8"/><circle cx="1848.54" cy="237.89" r="3.8"/><circle cx="1812.71" cy="237.95" r="3.8"/><circle cx="1817.19" cy="231.06" r="3.8"/><circle cx="1824.05" cy="250.4" r="3.8"/><circle cx="1803.37" cy="238.89" r="3.8"/><circle cx="1857.24" cy="244.13" r="3.8"/><circle cx="1822.84" cy="237.83" r="3.8"/><circle cx="1842" cy="240.07" r="3.8"/><circle cx="1824.99" cy="238.13" r="3.8"/><circle cx="1817.48" cy="234.85" r="3.8"/><circle cx="1826.09" cy="230.53" r="3.8"/><circle cx="1821.69" cy="229.57" r="3.8"/><circle cx="1812.88" cy="232.4" r="3.8"/><circle cx="1830.06" cy="238.88" r="3.8"/><circle cx="1808.83" cy="258.73" r="3.8"/><circle cx="1845.88" cy="239.93" r="3.8"/><circle cx="1850.45" cy="225.09" r="3.8"/><circle cx="1857.57" cy="225.32" r="3.8"/><circle cx="1810.26" cy="251.1" r="3.8"/><circle cx="1847.47" cy="253.51" r="3.8"/><circle cx="1819.87" cy="251.36" r="3.8"/><circle cx="1854.21" cy="253.52" r="3.8"/><circle cx="1815.16" cy="250.52" r="3.8"/><circle cx="1842.28" cy="234.26" r="3.8"/><circle cx="1835.13" cy="257.75" r="3.8"/><circle cx="1833.64" cy="236.99" r="3.8"/><circle cx="1847.77" cy="237.59" r="3.8"/><circle cx="1851.43" cy="224.63" r="3.8"/></g>
<circle cx="1930.9" cy="261.5" r="7" fill="#c8c9cb" stroke="#231f20" stroke-width="2.1"/>
<circle cx="1930.9" cy="304.2" r="7.3" fill="#231f20"/>
<text x="1950" y="269.5" font-size="26" textLength="121" lengthAdjust="spacingAndGlyphs" font-style="italic">B. subtilis</text>
<text x="1949" y="312.5" font-size="26" textLength="80" lengthAdjust="spacingAndGlyphs">pFC53</text>
<text x="1129.2" y="437.2" font-size="26" text-anchor="end" textLength="93.9" lengthAdjust="spacingAndGlyphs">Conflict</text>
<text x="1129.2" y="488.1" font-size="26" text-anchor="end" textLength="49.3" lengthAdjust="spacingAndGlyphs">Bulk</text>
<text x="1220.6" y="428.8" font-size="26" text-anchor="end" textLength="71" lengthAdjust="spacingAndGlyphs">Linear</text>
<text x="1220.6" y="453.8" font-size="26" text-anchor="end" textLength="21" lengthAdjust="spacingAndGlyphs">RI</text>
<text x="1220.6" y="479" font-size="26" text-anchor="end" textLength="71" lengthAdjust="spacingAndGlyphs">Linear</text>
<text x="1220.6" y="504" font-size="26" text-anchor="end" textLength="21" lengthAdjust="spacingAndGlyphs">RI</text>
<line x1="1141.8" y1="405.8" x2="1141.8" y2="451.2" stroke="#231f20" stroke-width="3"/>
<line x1="1136.6" y1="405.8" x2="1146.8" y2="405.8" stroke="#231f20" stroke-width="2.4"/>
<line x1="1136.6" y1="451.2" x2="1146.8" y2="451.2" stroke="#231f20" stroke-width="2.4"/>
<line x1="1141.8" y1="457.4" x2="1141.8" y2="502.4" stroke="#231f20" stroke-width="3"/>
<line x1="1136.6" y1="457.4" x2="1146.8" y2="457.4" stroke="#231f20" stroke-width="2.4"/>
<line x1="1136.6" y1="502.4" x2="1146.8" y2="502.4" stroke="#231f20" stroke-width="2.4"/>
<circle cx="1278.6" cy="421" r="5.3" fill="#231f20"/>
<circle cx="1356.2" cy="445.2" r="5.3" fill="#231f20"/>
<circle cx="1437" cy="471.4" r="5.3" fill="#231f20"/>
<circle cx="1514.3" cy="496.2" r="5.3" fill="#231f20"/>
<circle cx="1595.2" cy="421" r="5.3" fill="#231f20"/>
<circle cx="1672.4" cy="445.2" r="5.3" fill="#231f20"/>
<circle cx="1751.9" cy="471.4" r="5.3" fill="#231f20"/>
<circle cx="1834.8" cy="491.9" r="5.3" fill="#231f20"/>
<line x1="1560.5" y1="512.4" x2="1861.9" y2="512.4" stroke="#231f20" stroke-width="3"/>
<text x="1711.4" y="541.4" font-size="26" text-anchor="middle" textLength="113" lengthAdjust="spacingAndGlyphs">+RNase H</text>
<text x="0" y="586.5" font-size="36.5" font-weight="bold" stroke="#231f20" stroke-width="1.5">c</text>
<line x1="209.1" y1="630.6" x2="209.1" y2="992.6" stroke="#58585a" stroke-width="1.3"/>
<line x1="198.3" y1="992.6" x2="209.1" y2="992.6" stroke="#58585a" stroke-width="1.3"/>
<text x="187" y="1000.3" font-size="22" text-anchor="end">0</text>
<line x1="198.3" y1="902.1" x2="209.1" y2="902.1" stroke="#58585a" stroke-width="1.3"/>
<text x="187" y="909.8" font-size="22" text-anchor="end">20</text>
<line x1="198.3" y1="811.6" x2="209.1" y2="811.6" stroke="#58585a" stroke-width="1.3"/>
<text x="187" y="819.3" font-size="22" text-anchor="end">40</text>
<line x1="198.3" y1="721.1" x2="209.1" y2="721.1" stroke="#58585a" stroke-width="1.3"/>
<text x="187" y="728.8" font-size="22" text-anchor="end">60</text>
<line x1="198.3" y1="630.6" x2="209.1" y2="630.6" stroke="#58585a" stroke-width="1.3"/>
<text x="187" y="638.3" font-size="22" text-anchor="end">80</text>
<line x1="198.3" y1="992.6" x2="856" y2="992.6" stroke="#58585a" stroke-width="1.3"/>
<line x1="490.2" y1="630" x2="490.2" y2="992.6" stroke="#231f20" stroke-width="2" stroke-dasharray="9.6 7.2"/>
<text x="353.9" y="583.8" font-size="25" text-anchor="middle">pFC53</text>
<text x="703.2" y="584" font-size="25" text-anchor="middle" textLength="115" lengthAdjust="spacingAndGlyphs" font-style="italic">B. subtilis</text>
<text x="108.3" y="816.2" font-size="27" text-anchor="middle" textLength="204.6" lengthAdjust="spacingAndGlyphs" transform="rotate(-90 108.3 816.2)">S9.6-gold-bound</text>
<text x="138.2" y="815.9" font-size="27" text-anchor="middle" textLength="166" lengthAdjust="spacingAndGlyphs" transform="rotate(-90 138.2 815.9)">molecules (%)</text>
<rect x="219.05" y="809.1" width="31" height="182.8" fill="#4a4a4c" stroke="#231f20" stroke-width="2.6"/>
<rect x="262.35" y="799.7" width="31.6" height="192.2" fill="#4a4a4c" stroke="#231f20" stroke-width="2.6"/>
<rect x="305.15" y="842.7" width="31.5" height="149.2" fill="#4a4a4c" stroke="#231f20" stroke-width="2.6"/>
<rect x="348.15" y="957.7" width="31.8" height="34.2" fill="#4a4a4c" stroke="#231f20" stroke-width="2.6"/>
<rect x="391.15" y="966.6" width="31.8" height="25.3" fill="#4a4a4c" stroke="#231f20" stroke-width="2.6"/>
<rect x="434.15" y="946.9" width="31.9" height="45" fill="#4a4a4c" stroke="#231f20" stroke-width="2.6"/>
<rect x="512.25" y="845.8" width="31.4" height="146.1" fill="#eb3126" stroke="#231f20" stroke-width="2.6"/>
<rect x="554.85" y="739.8" width="31.8" height="252.1" fill="#eb3126" stroke="#231f20" stroke-width="2.6"/>
<rect x="597.95" y="917.7" width="32.1" height="74.2" fill="#c4c5c7" stroke="#231f20" stroke-width="2.6"/>
<rect x="641.05" y="897.6" width="32" height="94.3" fill="#c4c5c7" stroke="#231f20" stroke-width="2.6"/>
<rect x="684.15" y="937.5" width="31.6" height="54.4" fill="#eb3126" stroke="#231f20" stroke-width="2.6"/>
<rect x="770.75" y="910.7" width="31.8" height="81.2" fill="#c4c5c7" stroke="#231f20" stroke-width="2.6"/>
<rect x="813.85" y="895.3" width="31.8" height="96.6" fill="#c4c5c7" stroke="#231f20" stroke-width="2.6"/>
<line x1="234.4" y1="763.7" x2="234.4" y2="849.5" stroke="#231f20" stroke-width="2.3"/>
<line x1="224.65" y1="763.7" x2="244.15" y2="763.7" stroke="#231f20" stroke-width="2.3"/>
<line x1="224.65" y1="849.5" x2="244.15" y2="849.5" stroke="#231f20" stroke-width="2.3"/>
<circle cx="234.4" cy="761.8" r="5.4" fill="#231f20"/>
<circle cx="234.4" cy="811.6" r="5.4" fill="#231f20"/>
<circle cx="234.4" cy="847" r="5.4" fill="#231f20"/>
<line x1="277.9" y1="753.2" x2="277.9" y2="842.2" stroke="#231f20" stroke-width="2.3"/>
<line x1="268.15" y1="753.2" x2="287.65" y2="753.2" stroke="#231f20" stroke-width="2.3"/>
<line x1="268.15" y1="842.2" x2="287.65" y2="842.2" stroke="#231f20" stroke-width="2.3"/>
<circle cx="277.9" cy="753" r="5.4" fill="#231f20"/>
<circle cx="277.9" cy="798" r="5.4" fill="#231f20"/>
<circle cx="277.9" cy="842" r="5.4" fill="#231f20"/>
<line x1="320.9" y1="813" x2="320.9" y2="867.1" stroke="#231f20" stroke-width="2.3"/>
<line x1="311.15" y1="813" x2="330.65" y2="813" stroke="#231f20" stroke-width="2.3"/>
<line x1="311.15" y1="867.1" x2="330.65" y2="867.1" stroke="#231f20" stroke-width="2.3"/>
<circle cx="320.9" cy="818" r="5.4" fill="#231f20"/>
<circle cx="320.9" cy="833.5" r="5.4" fill="#231f20"/>
<circle cx="320.9" cy="871" r="5.4" fill="#231f20"/>
<line x1="364" y1="931.5" x2="364" y2="980.2" stroke="#231f20" stroke-width="2.3"/>
<line x1="354.25" y1="931.5" x2="373.75" y2="931.5" stroke="#231f20" stroke-width="2.3"/>
<line x1="354.25" y1="980.2" x2="373.75" y2="980.2" stroke="#231f20" stroke-width="2.3"/>
<circle cx="364" cy="928.8" r="5.4" fill="#231f20"/>
<circle cx="364" cy="960.7" r="5.4" fill="#231f20"/>
<circle cx="364" cy="977.5" r="5.4" fill="#231f20"/>
<line x1="407.1" y1="957.2" x2="407.1" y2="974" stroke="#231f20" stroke-width="2.3"/>
<line x1="397.35" y1="957.2" x2="416.85" y2="957.2" stroke="#231f20" stroke-width="2.3"/>
<line x1="397.35" y1="974" x2="416.85" y2="974" stroke="#231f20" stroke-width="2.3"/>
<circle cx="395.6" cy="958.6" r="5.4" fill="#231f20"/>
<circle cx="418.8" cy="964.5" r="5.4" fill="#231f20"/>
<circle cx="395.6" cy="974.5" r="5.4" fill="#231f20"/>
<line x1="450.1" y1="920.7" x2="450.1" y2="969.4" stroke="#231f20" stroke-width="2.3"/>
<line x1="440.35" y1="920.7" x2="459.85" y2="920.7" stroke="#231f20" stroke-width="2.3"/>
<line x1="440.35" y1="969.4" x2="459.85" y2="969.4" stroke="#231f20" stroke-width="2.3"/>
<circle cx="438.3" cy="962" r="5.4" fill="#231f20"/>
<circle cx="450.5" cy="917" r="5.4" fill="#231f20"/>
<circle cx="462.1" cy="955" r="5.4" fill="#231f20"/>
<line x1="528" y1="794.2" x2="528" y2="893.3" stroke="#231f20" stroke-width="2.3"/>
<line x1="518.25" y1="794.2" x2="537.75" y2="794.2" stroke="#231f20" stroke-width="2.3"/>
<line x1="518.25" y1="893.3" x2="537.75" y2="893.3" stroke="#231f20" stroke-width="2.3"/>
<circle cx="528" cy="786.9" r="5.4" fill="#231f20"/>
<circle cx="528" cy="865.2" r="5.4" fill="#231f20"/>
<circle cx="528" cy="879" r="5.4" fill="#231f20"/>
<line x1="570.8" y1="683" x2="570.8" y2="791.5" stroke="#231f20" stroke-width="2.3"/>
<line x1="561.05" y1="683" x2="580.55" y2="683" stroke="#231f20" stroke-width="2.3"/>
<line x1="561.05" y1="791.5" x2="580.55" y2="791.5" stroke="#231f20" stroke-width="2.3"/>
<circle cx="559" cy="702" r="5.4" fill="#231f20"/>
<circle cx="582.8" cy="709.7" r="5.4" fill="#231f20"/>
<circle cx="571.2" cy="799.5" r="5.4" fill="#231f20"/>
<line x1="614" y1="891" x2="614" y2="940" stroke="#231f20" stroke-width="2.3"/>
<line x1="604.25" y1="891" x2="623.75" y2="891" stroke="#231f20" stroke-width="2.3"/>
<line x1="604.25" y1="940" x2="623.75" y2="940" stroke="#231f20" stroke-width="2.3"/>
<circle cx="614" cy="896.3" r="5.4" fill="#231f20"/>
<circle cx="614" cy="907.8" r="5.4" fill="#231f20"/>
<circle cx="614" cy="942.8" r="5.4" fill="#231f20"/>
<line x1="657.1" y1="888.7" x2="657.1" y2="896.3" stroke="#231f20" stroke-width="2.3"/>
<line x1="647.35" y1="888.7" x2="666.85" y2="888.7" stroke="#231f20" stroke-width="2.3"/>
<line x1="647.35" y1="896.3" x2="666.85" y2="896.3" stroke="#231f20" stroke-width="2.3"/>
<circle cx="645.9" cy="896.3" r="5.4" fill="#231f20"/>
<circle cx="657.4" cy="888.7" r="5.4" fill="#231f20"/>
<circle cx="669" cy="896.3" r="5.4" fill="#231f20"/>
<line x1="700" y1="924.4" x2="700" y2="945.9" stroke="#231f20" stroke-width="2.3"/>
<line x1="690.25" y1="924.4" x2="709.75" y2="924.4" stroke="#231f20" stroke-width="2.3"/>
<line x1="690.25" y1="945.9" x2="709.75" y2="945.9" stroke="#231f20" stroke-width="2.3"/>
<circle cx="688.5" cy="926" r="5.4" fill="#231f20"/>
<circle cx="712.3" cy="932.5" r="5.4" fill="#231f20"/>
<circle cx="700" cy="946.8" r="5.4" fill="#231f20"/>
<line x1="786.7" y1="853" x2="786.7" y2="957.8" stroke="#231f20" stroke-width="2.3"/>
<line x1="776.95" y1="853" x2="796.45" y2="853" stroke="#231f20" stroke-width="2.3"/>
<line x1="776.95" y1="957.8" x2="796.45" y2="957.8" stroke="#231f20" stroke-width="2.3"/>
<circle cx="786.7" cy="846" r="5.4" fill="#231f20"/>
<circle cx="786.7" cy="927.9" r="5.4" fill="#231f20"/>
<circle cx="786.7" cy="952" r="5.4" fill="#231f20"/>
<line x1="829.8" y1="862.2" x2="829.8" y2="923.3" stroke="#231f20" stroke-width="2.3"/>
<line x1="820.05" y1="862.2" x2="839.55" y2="862.2" stroke="#231f20" stroke-width="2.3"/>
<line x1="820.05" y1="923.3" x2="839.55" y2="923.3" stroke="#231f20" stroke-width="2.3"/>
<circle cx="829.8" cy="869.8" r="5.4" fill="#231f20"/>
<circle cx="829.8" cy="881.3" r="5.4" fill="#231f20"/>
<circle cx="829.8" cy="927.9" r="5.4" fill="#231f20"/>
<line x1="234.4" y1="992.6" x2="234.4" y2="1003" stroke="#58585a" stroke-width="1.3"/>
<line x1="278.5" y1="992.6" x2="278.5" y2="1003" stroke="#58585a" stroke-width="1.3"/>
<line x1="322" y1="992.6" x2="322" y2="1003" stroke="#58585a" stroke-width="1.3"/>
<line x1="365.2" y1="992.6" x2="365.2" y2="1003" stroke="#58585a" stroke-width="1.3"/>
<line x1="408.3" y1="992.6" x2="408.3" y2="1003" stroke="#58585a" stroke-width="1.3"/>
<line x1="451.5" y1="992.6" x2="451.5" y2="1003" stroke="#58585a" stroke-width="1.3"/>
<line x1="528.2" y1="992.6" x2="528.2" y2="1003" stroke="#58585a" stroke-width="1.3"/>
<line x1="571.2" y1="992.6" x2="571.2" y2="1003" stroke="#58585a" stroke-width="1.3"/>
<line x1="614.3" y1="992.6" x2="614.3" y2="1003" stroke="#58585a" stroke-width="1.3"/>
<line x1="657.4" y1="992.6" x2="657.4" y2="1003" stroke="#58585a" stroke-width="1.3"/>
<line x1="700.7" y1="992.6" x2="700.7" y2="1003" stroke="#58585a" stroke-width="1.3"/>
<line x1="743.8" y1="992.6" x2="743.8" y2="1003" stroke="#58585a" stroke-width="1.3"/>
<line x1="786.7" y1="992.6" x2="786.7" y2="1003" stroke="#58585a" stroke-width="1.3"/>
<line x1="829.8" y1="992.6" x2="829.8" y2="1003" stroke="#58585a" stroke-width="1.3"/>
<line x1="232.3" y1="677.7" x2="360.9" y2="677.7" stroke="#231f20" stroke-width="2.3"/>
<line x1="232.3" y1="673.7" x2="232.3" y2="681.7" stroke="#231f20" stroke-width="2.3"/>
<line x1="360.9" y1="673.7" x2="360.9" y2="681.7" stroke="#231f20" stroke-width="2.3"/>
<text x="259" y="672.5" font-size="21.5" textLength="77.3" lengthAdjust="spacingAndGlyphs">0.0002</text>
<line x1="279.7" y1="707.3" x2="408.3" y2="707.3" stroke="#231f20" stroke-width="2.3"/>
<line x1="279.7" y1="703.3" x2="279.7" y2="711.3" stroke="#231f20" stroke-width="2.3"/>
<line x1="408.3" y1="703.3" x2="408.3" y2="711.3" stroke="#231f20" stroke-width="2.3"/>
<text x="294.1" y="703.4" font-size="21.5" textLength="89.2" lengthAdjust="spacingAndGlyphs">2.85 &#215; 10</text>
<text x="384.2" y="691.3" font-size="14" textLength="14.2" lengthAdjust="spacingAndGlyphs">&#8211;5</text>
<line x1="322" y1="736.8" x2="450.1" y2="736.8" stroke="#231f20" stroke-width="2.3"/>
<line x1="322" y1="732.8" x2="322" y2="740.8" stroke="#231f20" stroke-width="2.3"/>
<line x1="450.1" y1="732.8" x2="450.1" y2="740.8" stroke="#231f20" stroke-width="2.3"/>
<text x="353.8" y="733.2" font-size="21.5" textLength="76.9" lengthAdjust="spacingAndGlyphs">0.0099</text>
<line x1="525.8" y1="612.7" x2="693.2" y2="612.7" stroke="#231f20" stroke-width="2.3"/>
<line x1="525.8" y1="608.7" x2="525.8" y2="616.7" stroke="#231f20" stroke-width="2.3"/>
<line x1="693.2" y1="608.7" x2="693.2" y2="616.7" stroke="#231f20" stroke-width="2.3"/>
<text x="578" y="608.9" font-size="21.5" textLength="76.9" lengthAdjust="spacingAndGlyphs">0.0309</text>
<line x1="570.9" y1="645.7" x2="655.6" y2="645.7" stroke="#231f20" stroke-width="2.3"/>
<line x1="570.9" y1="641.7" x2="570.9" y2="649.7" stroke="#231f20" stroke-width="2.3"/>
<line x1="655.6" y1="641.7" x2="655.6" y2="649.7" stroke="#231f20" stroke-width="2.3"/>
<text x="563.9" y="639.6" font-size="21.5" textLength="89.7" lengthAdjust="spacingAndGlyphs">8.32 &#215; 10</text>
<text x="654" y="627.3" font-size="14" textLength="14.8" lengthAdjust="spacingAndGlyphs">&#8211;5</text>
<line x1="526.8" y1="673.1" x2="569.3" y2="673.1" stroke="#231f20" stroke-width="2.3"/>
<line x1="526.8" y1="669.1" x2="526.8" y2="677.1" stroke="#231f20" stroke-width="2.3"/>
<line x1="569.3" y1="669.1" x2="569.3" y2="677.1" stroke="#231f20" stroke-width="2.3"/>
<text x="514.7" y="667" font-size="21.5" textLength="75.9" lengthAdjust="spacingAndGlyphs">0.0085</text>
<line x1="658.8" y1="798.8" x2="830.9" y2="798.8" stroke="#231f20" stroke-width="2.3"/>
<line x1="658.8" y1="794.8" x2="658.8" y2="802.8" stroke="#231f20" stroke-width="2.3"/>
<line x1="830.9" y1="794.8" x2="830.9" y2="802.8" stroke="#231f20" stroke-width="2.3"/>
<text x="697.9" y="794.2" font-size="21.5" textLength="88.4" lengthAdjust="spacingAndGlyphs">&gt;0.9999</text>
<line x1="613.9" y1="829.3" x2="786" y2="829.3" stroke="#231f20" stroke-width="2.3"/>
<line x1="613.9" y1="825.3" x2="613.9" y2="833.3" stroke="#231f20" stroke-width="2.3"/>
<line x1="786" y1="825.3" x2="786" y2="833.3" stroke="#231f20" stroke-width="2.3"/>
<text x="652.3" y="823.7" font-size="21.5" textLength="87.9" lengthAdjust="spacingAndGlyphs">&gt;0.9999</text>
<line x1="613.9" y1="861" x2="656.5" y2="861" stroke="#231f20" stroke-width="2.3"/>
<line x1="613.9" y1="857" x2="613.9" y2="865" stroke="#231f20" stroke-width="2.3"/>
<line x1="656.5" y1="857" x2="656.5" y2="865" stroke="#231f20" stroke-width="2.3"/>
<text x="603" y="854.6" font-size="21.5" textLength="73.9" lengthAdjust="spacingAndGlyphs">0.9956</text>
<text x="754" y="959" font-size="24" text-anchor="middle" transform="rotate(-90 754 959)">n.a.</text>
<text x="233.8" y="1019.5" font-size="17" text-anchor="middle">(323)</text>
<text x="277.5" y="1019.5" font-size="17" text-anchor="middle">(387)</text>
<text x="320.5" y="1019.5" font-size="17" text-anchor="middle">(355)</text>
<text x="364.3" y="1019.5" font-size="17" text-anchor="middle">(346)</text>
<text x="407.6" y="1019.5" font-size="17" text-anchor="middle">(306)</text>
<text x="450.5" y="1019.5" font-size="17" text-anchor="middle">(386)</text>
<text x="527.6" y="1019.5" font-size="17" text-anchor="middle">(456)</text>
<text x="571.4" y="1019.5" font-size="17" text-anchor="middle">(225)</text>
<text x="614.3" y="1019.5" font-size="17" text-anchor="middle">(364)</text>
<text x="657.6" y="1019.5" font-size="17" text-anchor="middle">(225)</text>
<text x="700.5" y="1019.5" font-size="17" text-anchor="middle">(311)</text>
<text x="786.2" y="1019.5" font-size="17" text-anchor="middle">(364)</text>
<text x="829.5" y="1019.5" font-size="17" text-anchor="middle">(213)</text>
<text x="98.6" y="1057.5" font-size="26" text-anchor="end" textLength="93.9" lengthAdjust="spacingAndGlyphs" fill="#ec2d24">Conflict</text>
<text x="98.6" y="1108.5" font-size="26" text-anchor="end" textLength="49.3" lengthAdjust="spacingAndGlyphs" fill="#c7c8ca">Bulk</text>
<text x="193.8" y="1048.5" font-size="26" text-anchor="end" textLength="71" lengthAdjust="spacingAndGlyphs">Linear</text>
<text x="193.8" y="1073.8" font-size="26" text-anchor="end" textLength="21" lengthAdjust="spacingAndGlyphs">RI</text>
<text x="193.8" y="1099" font-size="26" text-anchor="end" textLength="71" lengthAdjust="spacingAndGlyphs">Linear</text>
<text x="193.8" y="1124.8" font-size="26" text-anchor="end" textLength="21" lengthAdjust="spacingAndGlyphs">RI</text>
<line x1="111" y1="1025.5" x2="111" y2="1070.7" stroke="#231f20" stroke-width="3"/>
<line x1="105.9" y1="1025.5" x2="116.1" y2="1025.5" stroke="#231f20" stroke-width="2.4"/>
<line x1="105.9" y1="1070.7" x2="116.1" y2="1070.7" stroke="#231f20" stroke-width="2.4"/>
<line x1="111" y1="1076.9" x2="111" y2="1123.1" stroke="#231f20" stroke-width="3"/>
<line x1="105.9" y1="1076.9" x2="116.1" y2="1076.9" stroke="#231f20" stroke-width="2.4"/>
<line x1="105.9" y1="1123.1" x2="116.1" y2="1123.1" stroke="#231f20" stroke-width="2.4"/>
<circle cx="231.9" cy="1040.5" r="5.3" fill="#231f20"/>
<circle cx="276.2" cy="1065.2" r="5.3" fill="#231f20"/>
<circle cx="320.5" cy="1091" r="5.3" fill="#231f20"/>
<circle cx="320.5" cy="1116.2" r="5.3" fill="#231f20"/>
<circle cx="363.3" cy="1040.5" r="5.3" fill="#231f20"/>
<circle cx="407.6" cy="1065.2" r="5.3" fill="#231f20"/>
<circle cx="450.5" cy="1091" r="5.3" fill="#231f20"/>
<circle cx="450.5" cy="1116.2" r="5.3" fill="#231f20"/>
<circle cx="527.6" cy="1040.5" r="5.3" fill="#eb3126"/>
<circle cx="571.9" cy="1065.2" r="5.3" fill="#eb3126"/>
<circle cx="615.2" cy="1091" r="5.3" fill="#c4c5c7"/>
<circle cx="658.6" cy="1116.2" r="5.3" fill="#c4c5c7"/>
<circle cx="701.9" cy="1040.5" r="5.3" fill="#eb3126"/>
<circle cx="745.7" cy="1065.2" r="5.3" fill="#eb3126"/>
<circle cx="791" cy="1091" r="5.3" fill="#c4c5c7"/>
<circle cx="832.4" cy="1116.2" r="5.3" fill="#c4c5c7"/>
<line x1="345.2" y1="1131.9" x2="477.1" y2="1131.9" stroke="#231f20" stroke-width="3"/>
<line x1="690.5" y1="1131.9" x2="855.7" y2="1131.9" stroke="#231f20" stroke-width="3"/>
<text x="410.5" y="1160" font-size="26" text-anchor="middle" textLength="113" lengthAdjust="spacingAndGlyphs">+RNase H</text>
<text x="772.4" y="1160" font-size="26" text-anchor="middle" textLength="113" lengthAdjust="spacingAndGlyphs">+RNase H</text>
<text x="0" y="1226.6" font-size="36.5" font-weight="bold" stroke="#231f20" stroke-width="1.5">d</text>
<line x1="207.4" y1="1224.5" x2="207.4" y2="1593.6" stroke="#58585a" stroke-width="1.3"/>
<line x1="197" y1="1593.6" x2="207.4" y2="1593.6" stroke="#58585a" stroke-width="1.3"/>
<text x="186" y="1601.3" font-size="22" text-anchor="end">0</text>
<line x1="197" y1="1503.55" x2="207.4" y2="1503.55" stroke="#58585a" stroke-width="1.3"/>
<text x="186" y="1511.25" font-size="22" text-anchor="end">20</text>
<line x1="197" y1="1413.5" x2="207.4" y2="1413.5" stroke="#58585a" stroke-width="1.3"/>
<text x="186" y="1421.2" font-size="22" text-anchor="end">40</text>
<line x1="197" y1="1323.45" x2="207.4" y2="1323.45" stroke="#58585a" stroke-width="1.3"/>
<text x="186" y="1331.15" font-size="22" text-anchor="end">60</text>
<line x1="197" y1="1224.5" x2="207.4" y2="1224.5" stroke="#58585a" stroke-width="1.3"/>
<text x="186" y="1232.2" font-size="22" text-anchor="end">80</text>
<line x1="197" y1="1593.6" x2="854.2" y2="1593.6" stroke="#58585a" stroke-width="1.3"/>
<line x1="488.2" y1="1232" x2="488.2" y2="1593.6" stroke="#231f20" stroke-width="2" stroke-dasharray="9.6 7.2"/>
<text x="351.7" y="1251.3" font-size="25" text-anchor="middle">pFC53</text>
<text x="701.2" y="1251" font-size="25" text-anchor="middle" textLength="114" lengthAdjust="spacingAndGlyphs" font-style="italic">B. subtilis</text>
<text x="103.2" y="1408.5" font-size="27" text-anchor="middle" textLength="260" lengthAdjust="spacingAndGlyphs" transform="rotate(-90 103.2 1408.5)">Fraction of molecules</text>
<text x="132.9" y="1410.9" font-size="27" text-anchor="middle" textLength="244.2" lengthAdjust="spacingAndGlyphs" transform="rotate(-90 132.9 1410.9)">with ssDNA gaps (%)</text>
<rect x="217.8" y="1546.1" width="30.9" height="46.8" fill="#c4c5c7" stroke="#231f20" stroke-width="2.6"/>
<rect x="259.7" y="1574" width="31.5" height="18.9" fill="#c4c5c7" stroke="#231f20" stroke-width="2.6"/>
<rect x="301.9" y="1574" width="32.1" height="18.9" fill="#c4c5c7" stroke="#231f20" stroke-width="2.6"/>
<rect x="344.7" y="1532.2" width="32" height="60.7" fill="#c4c5c7" stroke="#231f20" stroke-width="2.6"/>
<rect x="344.7" y="1529.2" width="32" height="3" fill="#4a4a4c" stroke="#231f20" stroke-width="2.6"/>
<rect x="387.5" y="1553" width="32" height="39.9" fill="#c4c5c7" stroke="#231f20" stroke-width="2.6"/>
<rect x="387.5" y="1547" width="32" height="6" fill="#4a4a4c" stroke="#231f20" stroke-width="2.6"/>
<rect x="430" y="1584.7" width="32" height="8.2" fill="#c4c5c7" stroke="#231f20" stroke-width="2.6"/>
<rect x="515.3" y="1521.8" width="31.5" height="71.1" fill="#c4c5c7" stroke="#231f20" stroke-width="2.6"/>
<rect x="515.3" y="1513.1" width="31.5" height="8.7" fill="#4a4a4c" stroke="#231f20" stroke-width="2.6"/>
<rect x="557.7" y="1518.4" width="31.3" height="74.5" fill="#c4c5c7" stroke="#231f20" stroke-width="2.6"/>
<rect x="557.7" y="1511.9" width="31.3" height="6.5" fill="#4a4a4c" stroke="#231f20" stroke-width="2.6"/>
<rect x="600.2" y="1500.3" width="31.5" height="92.6" fill="#c4c5c7" stroke="#231f20" stroke-width="2.6"/>
<rect x="600.2" y="1491.3" width="31.5" height="9" fill="#4a4a4c" stroke="#231f20" stroke-width="2.6"/>
<rect x="642.6" y="1482.5" width="31.5" height="110.4" fill="#c4c5c7" stroke="#231f20" stroke-width="2.6"/>
<rect x="642.6" y="1471" width="31.5" height="11.5" fill="#4a4a4c" stroke="#231f20" stroke-width="2.6"/>
<rect x="642.6" y="1460.3" width="31.5" height="10.7" fill="#eb3126" stroke="#231f20" stroke-width="2.6"/>
<rect x="685.3" y="1425.2" width="31.6" height="167.7" fill="#c4c5c7" stroke="#231f20" stroke-width="2.6"/>
<rect x="685.3" y="1349.7" width="31.6" height="75.5" fill="#4a4a4c" stroke="#231f20" stroke-width="2.6"/>
<rect x="685.3" y="1321.8" width="31.6" height="27.9" fill="#eb3126" stroke="#231f20" stroke-width="2.6"/>
<rect x="769.9" y="1458.7" width="32.1" height="134.2" fill="#c4c5c7" stroke="#231f20" stroke-width="2.6"/>
<rect x="769.9" y="1448" width="32.1" height="10.7" fill="#4a4a4c" stroke="#231f20" stroke-width="2.6"/>
<rect x="812.7" y="1521.8" width="31.8" height="71.1" fill="#c4c5c7" stroke="#231f20" stroke-width="2.6"/>
<rect x="812.7" y="1507.5" width="31.8" height="14.3" fill="#4a4a4c" stroke="#231f20" stroke-width="2.6"/>
<rect x="812.7" y="1503" width="31.8" height="4.5" fill="#eb3126" stroke="#231f20" stroke-width="2.6"/>
<line x1="232.4" y1="1593.6" x2="232.4" y2="1604.1" stroke="#58585a" stroke-width="1.3"/>
<line x1="275.2" y1="1593.6" x2="275.2" y2="1604.1" stroke="#58585a" stroke-width="1.3"/>
<line x1="317.7" y1="1593.6" x2="317.7" y2="1604.1" stroke="#58585a" stroke-width="1.3"/>
<line x1="360.4" y1="1593.6" x2="360.4" y2="1604.1" stroke="#58585a" stroke-width="1.3"/>
<line x1="402.9" y1="1593.6" x2="402.9" y2="1604.1" stroke="#58585a" stroke-width="1.3"/>
<line x1="445.4" y1="1593.6" x2="445.4" y2="1604.1" stroke="#58585a" stroke-width="1.3"/>
<line x1="530.5" y1="1593.6" x2="530.5" y2="1604.1" stroke="#58585a" stroke-width="1.3"/>
<line x1="572.6" y1="1593.6" x2="572.6" y2="1604.1" stroke="#58585a" stroke-width="1.3"/>
<line x1="615.4" y1="1593.6" x2="615.4" y2="1604.1" stroke="#58585a" stroke-width="1.3"/>
<line x1="658.1" y1="1593.6" x2="658.1" y2="1604.1" stroke="#58585a" stroke-width="1.3"/>
<line x1="700.8" y1="1593.6" x2="700.8" y2="1604.1" stroke="#58585a" stroke-width="1.3"/>
<line x1="743.3" y1="1593.6" x2="743.3" y2="1604.1" stroke="#58585a" stroke-width="1.3"/>
<line x1="785.7" y1="1593.6" x2="785.7" y2="1604.1" stroke="#58585a" stroke-width="1.3"/>
<line x1="828.4" y1="1593.6" x2="828.4" y2="1604.1" stroke="#58585a" stroke-width="1.3"/>
<text x="753.5" y="1562" font-size="24" text-anchor="middle" transform="rotate(-90 753.5 1562)">n.a.</text>
<text x="862.8" y="1289" font-size="25" textLength="136.2" lengthAdjust="spacingAndGlyphs">No. of gaps</text>
<rect x="888.2" y="1307.6" width="37.7" height="20.6" fill="#ec1c24" stroke="#231f20" stroke-width="3"/>
<text x="940.3" y="1324.8" font-size="25">3+</text>
<rect x="888.2" y="1346.4" width="37.7" height="19.1" fill="#4a4a4c" stroke="#231f20" stroke-width="3"/>
<text x="940.3" y="1364" font-size="25">2</text>
<rect x="888.2" y="1384.2" width="37.7" height="19.3" fill="#c4c5c7" stroke="#231f20" stroke-width="3"/>
<text x="940.3" y="1402.8" font-size="25">1</text>
<text x="96.7" y="1645" font-size="26" text-anchor="end" textLength="94.8" lengthAdjust="spacingAndGlyphs">Conflict</text>
<text x="96.7" y="1696" font-size="26" text-anchor="end" textLength="49.3" lengthAdjust="spacingAndGlyphs">Bulk</text>
<text x="191.4" y="1635.6" font-size="26" text-anchor="end" textLength="71" lengthAdjust="spacingAndGlyphs">Linear</text>
<text x="191.4" y="1661.5" font-size="26" text-anchor="end" textLength="21" lengthAdjust="spacingAndGlyphs">RI</text>
<text x="191.4" y="1686.1" font-size="26" text-anchor="end" textLength="71" lengthAdjust="spacingAndGlyphs">Linear</text>
<text x="191.4" y="1711.9" font-size="26" text-anchor="end" textLength="21" lengthAdjust="spacingAndGlyphs">RI</text>
<line x1="108.6" y1="1613.1" x2="108.6" y2="1656.9" stroke="#231f20" stroke-width="3"/>
<line x1="103.5" y1="1613.1" x2="113.7" y2="1613.1" stroke="#231f20" stroke-width="2.4"/>
<line x1="103.5" y1="1656.9" x2="113.7" y2="1656.9" stroke="#231f20" stroke-width="2.4"/>
<line x1="108.6" y1="1664.1" x2="108.6" y2="1709.3" stroke="#231f20" stroke-width="3"/>
<line x1="103.5" y1="1664.1" x2="113.7" y2="1664.1" stroke="#231f20" stroke-width="2.4"/>
<line x1="103.5" y1="1709.3" x2="113.7" y2="1709.3" stroke="#231f20" stroke-width="2.4"/>
<circle cx="229.5" cy="1627.6" r="5.3" fill="#231f20"/>
<circle cx="273.3" cy="1652.9" r="5.3" fill="#231f20"/>
<circle cx="317.1" cy="1678.1" r="5.3" fill="#231f20"/>
<circle cx="317.1" cy="1703.3" r="5.3" fill="#231f20"/>
<circle cx="361" cy="1627.6" r="5.3" fill="#231f20"/>
<circle cx="404.8" cy="1652.9" r="5.3" fill="#231f20"/>
<circle cx="447.6" cy="1678.1" r="5.3" fill="#231f20"/>
<circle cx="447.6" cy="1703.3" r="5.3" fill="#231f20"/>
<circle cx="525.7" cy="1627.6" r="5.3" fill="#231f20"/>
<circle cx="569.5" cy="1652.9" r="5.3" fill="#231f20"/>
<circle cx="612.9" cy="1678.1" r="5.3" fill="#231f20"/>
<circle cx="656.2" cy="1703.3" r="5.3" fill="#231f20"/>
<circle cx="699.5" cy="1627.6" r="5.3" fill="#231f20"/>
<circle cx="742.9" cy="1652.9" r="5.3" fill="#231f20"/>
<circle cx="788.6" cy="1678.1" r="5.3" fill="#231f20"/>
<circle cx="830" cy="1703.3" r="5.3" fill="#231f20"/>
<line x1="342.9" y1="1719.5" x2="474.3" y2="1719.5" stroke="#231f20" stroke-width="3"/>
<line x1="687.6" y1="1719.5" x2="852.4" y2="1719.5" stroke="#231f20" stroke-width="3"/>
<text x="408.6" y="1748.6" font-size="26" text-anchor="middle" textLength="113" lengthAdjust="spacingAndGlyphs">+RNase H</text>
<text x="769.5" y="1748.6" font-size="26" text-anchor="middle" textLength="113" lengthAdjust="spacingAndGlyphs">+RNase H</text>
<text x="1035" y="586.5" font-size="36.5" font-weight="bold" stroke="#231f20" stroke-width="1.5">f</text>
<g fill="#5cb947"><rect x="1200.2" y="649.29" width="70.16" height="7.8"/><rect x="1200.2" y="661.3" width="109.5" height="7.8"/><rect x="1200.2" y="673.32" width="122.87" height="7.8"/><rect x="1200.2" y="685.33" width="127.72" height="7.8"/><rect x="1200.2" y="697.35" width="137.94" height="7.8"/><rect x="1200.2" y="709.36" width="79.53" height="7.8"/><rect x="1200.2" y="721.38" width="150.89" height="7.8"/><rect x="1200.2" y="733.39" width="156.17" height="7.8"/><rect x="1200.2" y="745.41" width="157.02" height="7.8"/><rect x="1200.2" y="757.42" width="96.05" height="7.8"/><rect x="1200.2" y="769.44" width="167.15" height="7.8"/><rect x="1200.2" y="781.45" width="169.45" height="7.8"/><rect x="1200.2" y="793.47" width="172.43" height="7.8"/><rect x="1200.2" y="805.48" width="177.71" height="7.8"/><rect x="1200.2" y="817.5" width="181.8" height="7.8"/><rect x="1200.2" y="829.51" width="187.84" height="7.8"/><rect x="1200.2" y="841.53" width="190.74" height="7.8"/><rect x="1200.2" y="853.54" width="192.69" height="7.8"/><rect x="1200.2" y="865.56" width="201.72" height="7.8"/><rect x="1200.2" y="877.57" width="167.58" height="7.8"/><rect x="1200.2" y="889.59" width="141.6" height="7.8"/><rect x="1200.2" y="901.6" width="211.43" height="7.8"/><rect x="1200.2" y="913.62" width="214.58" height="7.8"/><rect x="1200.2" y="925.63" width="215.43" height="7.8"/><rect x="1200.2" y="937.65" width="221.13" height="7.8"/><rect x="1200.2" y="949.66" width="166.3" height="7.8"/><rect x="1200.2" y="961.68" width="224.8" height="7.8"/><rect x="1200.2" y="973.69" width="225.99" height="7.8"/><rect x="1200.2" y="985.71" width="227.61" height="7.8"/><rect x="1200.2" y="997.72" width="239.78" height="7.8"/><rect x="1200.2" y="1009.74" width="233.31" height="7.8"/><rect x="1200.2" y="1021.75" width="244.72" height="7.8"/><rect x="1200.2" y="1033.77" width="262.52" height="7.8"/><rect x="1200.2" y="1045.78" width="185.8" height="7.8"/><rect x="1200.2" y="1057.8" width="269.41" height="7.8"/><rect x="1200.2" y="1069.81" width="123.72" height="7.8"/><rect x="1200.2" y="1081.83" width="120.06" height="7.8"/><rect x="1200.2" y="1093.84" width="274.69" height="7.8"/><rect x="1200.2" y="1105.86" width="288.15" height="7.8"/><rect x="1200.2" y="1117.87" width="294.96" height="7.8"/><rect x="1200.2" y="1129.89" width="135.9" height="7.8"/><rect x="1200.2" y="1141.9" width="119.3" height="7.8"/><rect x="1200.2" y="1153.92" width="120.91" height="7.8"/><rect x="1200.2" y="1165.93" width="354.22" height="7.8"/><rect x="1200.2" y="1177.95" width="126.19" height="7.8"/><rect x="1200.2" y="1189.96" width="367.25" height="7.8"/><rect x="1200.2" y="1201.98" width="368.78" height="7.8"/><rect x="1200.2" y="1213.99" width="376.19" height="7.8"/><rect x="1200.2" y="1226.01" width="380.62" height="7.8"/><rect x="1200.2" y="1238.02" width="382.66" height="7.8"/><rect x="1200.2" y="1250.04" width="384.28" height="7.8"/><rect x="1200.2" y="1262.05" width="173.62" height="7.8"/><rect x="1200.2" y="1274.07" width="386.75" height="7.8"/><rect x="1200.2" y="1286.08" width="390.84" height="7.8"/><rect x="1200.2" y="1298.1" width="377.81" height="7.8"/><rect x="1200.2" y="1310.11" width="393.99" height="7.8"/><rect x="1200.2" y="1322.13" width="394.84" height="7.8"/><rect x="1200.2" y="1334.14" width="256.81" height="7.8"/><rect x="1200.2" y="1346.16" width="404.63" height="7.8"/><rect x="1200.2" y="1358.17" width="413.49" height="7.8"/><rect x="1200.2" y="1370.19" width="337.19" height="7.8"/><rect x="1200.2" y="1382.2" width="348.6" height="7.8"/><rect x="1200.2" y="1394.22" width="428.9" height="7.8"/><rect x="1200.2" y="1406.23" width="374.49" height="7.8"/><rect x="1200.2" y="1418.25" width="467.13" height="7.8"/><rect x="1200.2" y="1430.26" width="377.81" height="7.8"/><rect x="1200.2" y="1442.28" width="474.8" height="7.8"/><rect x="1200.2" y="1454.29" width="487.4" height="7.8"/><rect x="1200.2" y="1466.31" width="490.63" height="7.8"/><rect x="1200.2" y="1478.32" width="493.53" height="7.8"/><rect x="1200.2" y="1490.34" width="543" height="7.8"/><rect x="1200.2" y="1502.35" width="544.62" height="7.8"/><rect x="1200.2" y="1514.37" width="546.66" height="7.8"/><rect x="1200.2" y="1526.38" width="551.52" height="7.8"/><rect x="1200.2" y="1538.4" width="565.74" height="7.8"/></g>
<g fill="#961a4e"><rect x="1270.36" y="649.29" width="30.06" height="7.8"/><rect x="1279.73" y="709.36" width="63.27" height="7.8"/><rect x="1296.25" y="757.42" width="62.5" height="7.8"/><rect x="1367.78" y="877.57" width="34.49" height="7.8"/><rect x="1341.8" y="889.59" width="63.27" height="7.8"/><rect x="1366.5" y="949.66" width="57.65" height="7.8"/><rect x="1386" y="1045.78" width="82" height="7.8"/><rect x="1323.92" y="1069.81" width="146.88" height="7.8"/><rect x="1320.26" y="1081.83" width="159.91" height="7.8"/><rect x="1474.89" y="1093.84" width="5.71" height="7.8"/><rect x="1336.1" y="1129.89" width="173.71" height="7.8"/><rect x="1319.5" y="1141.9" width="218.32" height="7.8"/><rect x="1321.11" y="1153.92" width="219.52" height="7.8"/><rect x="1326.39" y="1177.95" width="241.06" height="7.8"/><rect x="1373.82" y="1262.05" width="213.13" height="7.8"/><rect x="1578.01" y="1298.1" width="14.99" height="7.8"/><rect x="1457.01" y="1334.14" width="146.97" height="7.8"/><rect x="1537.39" y="1370.19" width="87.28" height="7.8"/><rect x="1548.8" y="1382.2" width="79.53" height="7.8"/><rect x="1574.69" y="1406.23" width="71.95" height="7.8"/><rect x="1578.01" y="1430.26" width="90.09" height="7.8"/><rect x="1765.94" y="1538.4" width="23.93" height="7.8"/></g>
<g fill="#88898c"><rect x="1309.7" y="661.3" width="507.83" height="7.8"/><rect x="1323.07" y="673.32" width="548.96" height="7.8"/><rect x="1327.92" y="685.33" width="514.31" height="7.8"/><rect x="1338.14" y="697.35" width="488.76" height="7.8"/><rect x="1351.09" y="721.38" width="545.64" height="7.8"/><rect x="1356.37" y="733.39" width="497.79" height="7.8"/><rect x="1357.22" y="745.41" width="475.65" height="7.8"/><rect x="1367.35" y="769.44" width="525.12" height="7.8"/><rect x="1369.65" y="781.45" width="484.5" height="7.8"/><rect x="1372.63" y="793.47" width="491.74" height="7.8"/><rect x="1377.91" y="805.48" width="467.73" height="7.8"/><rect x="1382" y="817.5" width="513.03" height="7.8"/><rect x="1388.04" y="829.51" width="440.57" height="7.8"/><rect x="1390.94" y="841.53" width="435.12" height="7.8"/><rect x="1392.89" y="853.54" width="477.44" height="7.8"/><rect x="1401.92" y="865.56" width="471.82" height="7.8"/><rect x="1411.63" y="901.6" width="472.33" height="7.8"/><rect x="1414.78" y="913.62" width="414.68" height="7.8"/><rect x="1415.63" y="925.63" width="446.19" height="7.8"/><rect x="1421.33" y="937.65" width="420.04" height="7.8"/><rect x="1425" y="961.68" width="435.97" height="7.8"/><rect x="1426.19" y="973.69" width="426.26" height="7.8"/><rect x="1427.81" y="985.71" width="419.53" height="7.8"/><rect x="1439.98" y="997.72" width="420.13" height="7.8"/><rect x="1433.51" y="1009.74" width="450.44" height="7.8"/><rect x="1444.92" y="1021.75" width="420.3" height="7.8"/><rect x="1462.72" y="1033.77" width="421.24" height="7.8"/><rect x="1469.61" y="1057.8" width="371.76" height="7.8"/><rect x="1488.35" y="1105.86" width="367.51" height="7.8"/><rect x="1495.16" y="1117.87" width="393.05" height="7.8"/><rect x="1554.42" y="1165.93" width="225.65" height="7.8"/><rect x="1567.45" y="1189.96" width="272.22" height="7.8"/><rect x="1568.98" y="1201.98" width="282.61" height="7.8"/><rect x="1576.39" y="1213.99" width="272.65" height="7.8"/><rect x="1580.82" y="1226.01" width="246.08" height="7.8"/><rect x="1582.86" y="1238.02" width="265.33" height="7.8"/><rect x="1584.48" y="1250.04" width="290.96" height="7.8"/><rect x="1586.95" y="1274.07" width="254.85" height="7.8"/><rect x="1591.04" y="1286.08" width="242.68" height="7.8"/><rect x="1594.19" y="1310.11" width="195.25" height="7.8"/><rect x="1595.04" y="1322.13" width="220.79" height="7.8"/><rect x="1604.83" y="1346.16" width="279.55" height="7.8"/><rect x="1613.69" y="1358.17" width="224.29" height="7.8"/><rect x="1629.1" y="1394.22" width="227.61" height="7.8"/><rect x="1667.33" y="1418.25" width="219.86" height="7.8"/><rect x="1675" y="1442.28" width="218.75" height="7.8"/><rect x="1687.6" y="1454.29" width="211.77" height="7.8"/><rect x="1690.83" y="1466.31" width="208.53" height="7.8"/><rect x="1693.73" y="1478.32" width="141.18" height="7.8"/><rect x="1743.2" y="1490.34" width="124.57" height="7.8"/><rect x="1744.82" y="1502.35" width="126.62" height="7.8"/><rect x="1746.86" y="1514.37" width="139.14" height="7.8"/><rect x="1751.72" y="1526.38" width="133.09" height="7.8"/><rect x="1789.86" y="1538.4" width="60.88" height="7.8"/></g>
<g fill="#231f20"><rect x="1300.42" y="649.29" width="544.36" height="7.8"/><rect x="1343" y="709.36" width="496.68" height="7.8"/><rect x="1358.75" y="757.42" width="504.77" height="7.8"/><rect x="1402.26" y="877.57" width="491.91" height="7.8"/><rect x="1405.07" y="889.59" width="425.24" height="7.8"/><rect x="1424.14" y="949.66" width="401.91" height="7.8"/><rect x="1468" y="1045.78" width="370.83" height="7.8"/><rect x="1470.81" y="1069.81" width="364.61" height="7.8"/><rect x="1480.17" y="1081.83" width="368.87" height="7.8"/><rect x="1480.6" y="1093.84" width="405.91" height="7.8"/><rect x="1509.81" y="1129.89" width="355.42" height="7.8"/><rect x="1537.82" y="1141.9" width="314.63" height="7.8"/><rect x="1540.63" y="1153.92" width="335.66" height="7.8"/><rect x="1567.45" y="1177.95" width="309.69" height="7.8"/><rect x="1586.95" y="1262.05" width="307.22" height="7.8"/><rect x="1593" y="1298.1" width="244.72" height="7.8"/><rect x="1603.98" y="1334.14" width="208.19" height="7.8"/><rect x="1624.67" y="1370.19" width="211" height="7.8"/><rect x="1628.33" y="1382.2" width="230.08" height="7.8"/><rect x="1646.64" y="1406.23" width="197.55" height="7.8"/><rect x="1668.1" y="1430.26" width="208.19" height="7.8"/></g>
<g fill="#48484b"><circle cx="1225.75" cy="689.23" r="7.3"/><circle cx="1286.2" cy="689.23" r="7.3"/><circle cx="1296.42" cy="689.23" r="7.3"/><circle cx="1323.67" cy="689.23" r="7.3"/><circle cx="1466.72" cy="689.23" r="7.3"/><circle cx="1673.63" cy="713.26" r="7.3"/><circle cx="1230.85" cy="761.32" r="7.3"/><circle cx="1837.97" cy="773.34" r="7.3"/><circle cx="1266.28" cy="809.38" r="7.3"/><circle cx="1716.21" cy="845.43" r="7.3"/><circle cx="1867.78" cy="881.47" r="7.3"/><circle cx="1323.67" cy="929.53" r="7.3"/><circle cx="1550.17" cy="929.53" r="7.3"/><circle cx="1232.98" cy="989.61" r="7.3"/><circle cx="1433.51" cy="1013.64" r="7.3"/><circle cx="1286.63" cy="1037.67" r="7.3"/><circle cx="1371.35" cy="1061.7" r="7.3"/><circle cx="1426.19" cy="1061.7" r="7.3"/><circle cx="1600.41" cy="1085.73" r="7.3"/><circle cx="1349.47" cy="1097.74" r="7.3"/><circle cx="1388.89" cy="1097.74" r="7.3"/><circle cx="1791.48" cy="1097.74" r="7.3"/><circle cx="1488.35" cy="1109.76" r="7.3"/><circle cx="1362.5" cy="1121.77" r="7.3"/><circle cx="1209.91" cy="1169.84" r="7.3"/><circle cx="1423.29" cy="1169.84" r="7.3"/><circle cx="1460.33" cy="1169.84" r="7.3"/><circle cx="1232.98" cy="1193.87" r="7.3"/><circle cx="1372.2" cy="1193.87" r="7.3"/><circle cx="1389.66" cy="1193.87" r="7.3"/><circle cx="1328.78" cy="1205.88" r="7.3"/><circle cx="1744.31" cy="1229.91" r="7.3"/><circle cx="1769.51" cy="1265.95" r="7.3"/><circle cx="1525.22" cy="1277.97" r="7.3"/><circle cx="1314.22" cy="1302" r="7.3"/><circle cx="1500.01" cy="1302" r="7.3"/><circle cx="1328.78" cy="1338.05" r="7.3"/><circle cx="1603.98" cy="1338.05" r="7.3"/><circle cx="1421.33" cy="1350.06" r="7.3"/><circle cx="1822.31" cy="1350.06" r="7.3"/><circle cx="1522.41" cy="1386.11" r="7.3"/><circle cx="1603.98" cy="1398.12" r="7.3"/><circle cx="1611.73" cy="1410.13" r="7.3"/><circle cx="1353.98" cy="1422.15" r="7.3"/><circle cx="1509.04" cy="1422.15" r="7.3"/><circle cx="1433.51" cy="1446.18" r="7.3"/><circle cx="1746.86" cy="1518.27" r="7.3"/><circle cx="1426.61" cy="1530.28" r="7.3"/><circle cx="1579.12" cy="1530.28" r="7.3"/></g>
<line x1="1200.2" y1="644.6" x2="1200.2" y2="1550.1" stroke="#58585a" stroke-width="1.3"/>
<line x1="1189.9" y1="1434.16" x2="1200.2" y2="1434.16" stroke="#58585a" stroke-width="1.3"/>
<text x="1177.7" y="1441.87" font-size="22" text-anchor="end">10</text>
<line x1="1189.9" y1="1314.01" x2="1200.2" y2="1314.01" stroke="#58585a" stroke-width="1.3"/>
<text x="1177.7" y="1321.71" font-size="22" text-anchor="end">20</text>
<line x1="1189.9" y1="1193.87" x2="1200.2" y2="1193.87" stroke="#58585a" stroke-width="1.3"/>
<text x="1177.7" y="1201.57" font-size="22" text-anchor="end">30</text>
<line x1="1189.9" y1="1073.71" x2="1200.2" y2="1073.71" stroke="#58585a" stroke-width="1.3"/>
<text x="1177.7" y="1081.41" font-size="22" text-anchor="end">40</text>
<line x1="1189.9" y1="953.56" x2="1200.2" y2="953.56" stroke="#58585a" stroke-width="1.3"/>
<text x="1177.7" y="961.26" font-size="22" text-anchor="end">50</text>
<line x1="1189.9" y1="833.41" x2="1200.2" y2="833.41" stroke="#58585a" stroke-width="1.3"/>
<text x="1177.7" y="841.12" font-size="22" text-anchor="end">60</text>
<line x1="1189.9" y1="713.26" x2="1200.2" y2="713.26" stroke="#58585a" stroke-width="1.3"/>
<text x="1177.7" y="720.96" font-size="22" text-anchor="end">70</text>
<line x1="1200.2" y1="1550.1" x2="1923.2" y2="1550.1" stroke="#58585a" stroke-width="1.3"/>
<line x1="1200.2" y1="1550.1" x2="1200.2" y2="1560.5" stroke="#58585a" stroke-width="1.3"/>
<text x="1200.2" y="1588.7" font-size="22" text-anchor="middle">0</text>
<line x1="1285.35" y1="1550.1" x2="1285.35" y2="1560.5" stroke="#58585a" stroke-width="1.3"/>
<text x="1285.35" y="1588.7" font-size="22" text-anchor="middle">1</text>
<line x1="1370.5" y1="1550.1" x2="1370.5" y2="1560.5" stroke="#58585a" stroke-width="1.3"/>
<text x="1370.5" y="1588.7" font-size="22" text-anchor="middle">2</text>
<line x1="1455.65" y1="1550.1" x2="1455.65" y2="1560.5" stroke="#58585a" stroke-width="1.3"/>
<text x="1455.65" y="1588.7" font-size="22" text-anchor="middle">3</text>
<line x1="1540.8" y1="1550.1" x2="1540.8" y2="1560.5" stroke="#58585a" stroke-width="1.3"/>
<text x="1540.8" y="1588.7" font-size="22" text-anchor="middle">4</text>
<line x1="1625.95" y1="1550.1" x2="1625.95" y2="1560.5" stroke="#58585a" stroke-width="1.3"/>
<text x="1625.95" y="1588.7" font-size="22" text-anchor="middle">5</text>
<line x1="1711.1" y1="1550.1" x2="1711.1" y2="1560.5" stroke="#58585a" stroke-width="1.3"/>
<text x="1711.1" y="1588.7" font-size="22" text-anchor="middle">6</text>
<line x1="1796.25" y1="1550.1" x2="1796.25" y2="1560.5" stroke="#58585a" stroke-width="1.3"/>
<text x="1796.25" y="1588.7" font-size="22" text-anchor="middle">7</text>
<line x1="1881.4" y1="1550.1" x2="1881.4" y2="1560.5" stroke="#58585a" stroke-width="1.3"/>
<text x="1881.4" y="1588.7" font-size="22" text-anchor="middle">8</text>
<text x="1923.5" y="1588.7" font-size="22" textLength="40.5" lengthAdjust="spacingAndGlyphs">[kb]</text>
<text x="1126.1" y="1094.1" font-size="27" text-anchor="middle" textLength="243.6" lengthAdjust="spacingAndGlyphs" transform="rotate(-90 1126.1 1094.1)">Individual fragments</text>
<rect x="1189.7" y="1636.2" width="35.5" height="18.2" fill="#5cb947"/>
<text x="1235.7" y="1654" font-size="25" textLength="112" lengthAdjust="spacingAndGlyphs">Daughter</text>
<rect x="1384.8" y="1636.2" width="35.5" height="18.2" fill="#961a4e"/>
<text x="1431.3" y="1654" font-size="25" textLength="127" lengthAdjust="spacingAndGlyphs">Regressed</text>
<path d="M1599.7 1636.2 H1635.7 V1654.4 H1599.7 Z" fill="#88898c" stroke="none" stroke-width="1"/>
<path d="M1635.7 1636.2 V1654.4 H1599.7 Z" fill="#231f20" stroke="none" stroke-width="1"/>
<text x="1645.7" y="1654" font-size="25" textLength="100.5" lengthAdjust="spacingAndGlyphs">Parental</text>
<circle cx="1791.2" cy="1645.3" r="7.3" fill="#48484b"/>
<text x="1811" y="1654" font-size="25" textLength="186" lengthAdjust="spacingAndGlyphs">S9.6-gold label</text>
<text x="0" y="1814" font-size="36.5" font-weight="bold" stroke="#231f20" stroke-width="1.5">e</text>
<clipPath id="c21"><rect x="63" y="1804.6" width="631.7" height="424.7"/></clipPath>
<g clip-path="url(#c21)">
<rect x="63" y="1804.6" width="631.7" height="424.7" fill="#e0e1e3"/>
<rect x="63" y="1804.6" width="631.7" height="424.7" fill="#000" filter="url(#grain)" opacity="0.3"/>
<rect x="63" y="1804.6" width="631.7" height="424.7" fill="url(#spat0)"/>
<g fill="#707174" opacity="0.8"><circle cx="167.2" cy="2097.54" r="1.77"/><circle cx="365.65" cy="1896.34" r="1.91"/><circle cx="573.32" cy="2022.24" r="1.65"/><circle cx="212.12" cy="1805.95" r="1.53"/><circle cx="432.77" cy="1834.02" r="1.91"/><circle cx="209.71" cy="1903.43" r="1.24"/><circle cx="693.16" cy="2118.32" r="1.99"/><circle cx="452.06" cy="1819.07" r="1.5"/><circle cx="377.3" cy="1853.78" r="2.06"/><circle cx="295.75" cy="1870.35" r="1.94"/><circle cx="141.88" cy="2198.7" r="1.61"/><circle cx="411.7" cy="1950.24" r="1.64"/><circle cx="181.07" cy="1820.37" r="1.98"/><circle cx="211.36" cy="2135.98" r="1.39"/><circle cx="674.97" cy="2184.27" r="1.88"/><circle cx="544.86" cy="2051.25" r="1.86"/><circle cx="140.37" cy="2006.9" r="1.94"/><circle cx="190.02" cy="2196.67" r="2"/><circle cx="321.75" cy="1959.71" r="1.61"/><circle cx="306.7" cy="2227.11" r="1.55"/><circle cx="79.95" cy="1844.21" r="1.85"/><circle cx="690.17" cy="2015.26" r="1.64"/><circle cx="410.71" cy="2122.35" r="1.4"/><circle cx="447.64" cy="2040.94" r="1.76"/><circle cx="177.13" cy="1876.84" r="1.51"/><circle cx="648.63" cy="1951.81" r="1.74"/><circle cx="256.69" cy="1848.46" r="1.26"/><circle cx="577.01" cy="2134.6" r="1.54"/><circle cx="494.67" cy="2091.66" r="2.01"/><circle cx="668.35" cy="1977.46" r="2.09"/><circle cx="670.34" cy="2055.39" r="1.99"/><circle cx="373.11" cy="1964.1" r="1.42"/><circle cx="616.46" cy="1873.53" r="1.26"/><circle cx="571.7" cy="2133.28" r="1.63"/><circle cx="591.73" cy="1826.76" r="1.43"/><circle cx="246.11" cy="1982.78" r="1.35"/><circle cx="106.87" cy="1948.18" r="2.01"/><circle cx="684.24" cy="2121.36" r="1.63"/><circle cx="222.32" cy="2211.84" r="1.67"/><circle cx="523.26" cy="1816.62" r="1.39"/><circle cx="592.53" cy="2142.33" r="1.99"/><circle cx="442.88" cy="1985.56" r="1.72"/><circle cx="599.53" cy="1935.4" r="1.68"/><circle cx="237.34" cy="2130.88" r="1.21"/><circle cx="495.9" cy="2209.75" r="1.22"/><circle cx="438.03" cy="2078.05" r="1.97"/><circle cx="432.13" cy="1913.83" r="1.57"/><circle cx="668.62" cy="2189.21" r="1.32"/><circle cx="122.91" cy="1844.5" r="1.22"/><circle cx="345.28" cy="1864.41" r="1.98"/><circle cx="476.97" cy="1858.34" r="1.68"/><circle cx="267.85" cy="2014.35" r="1.4"/><circle cx="167.91" cy="1882.72" r="1.54"/><circle cx="511.49" cy="2038.2" r="1.24"/><circle cx="512.06" cy="2175.73" r="1.9"/><circle cx="562.5" cy="1807.92" r="1.62"/><circle cx="103.11" cy="2129.04" r="1.36"/><circle cx="512.45" cy="1912.01" r="1.83"/><circle cx="261.11" cy="1822.4" r="1.55"/><circle cx="258.46" cy="2187.15" r="1.47"/><circle cx="380.82" cy="2037.9" r="2.05"/><circle cx="125.26" cy="2059.92" r="1.66"/><circle cx="527.03" cy="2215.33" r="1.48"/><circle cx="504.84" cy="2027.9" r="1.7"/><circle cx="103.25" cy="2150.6" r="2.08"/><circle cx="287.4" cy="1939.7" r="2.09"/><circle cx="130.97" cy="1836.92" r="1.27"/><circle cx="577.41" cy="2127.34" r="1.6"/><circle cx="455.53" cy="1813" r="1.78"/><circle cx="342.61" cy="2024.35" r="1.55"/><circle cx="316.64" cy="1900.36" r="1.24"/><circle cx="337.1" cy="1909.53" r="1.83"/><circle cx="579.29" cy="2111.98" r="1.61"/><circle cx="212.36" cy="1968.28" r="1.64"/><circle cx="462.12" cy="2213.64" r="1.28"/><circle cx="366.03" cy="2013.5" r="1.85"/><circle cx="625.52" cy="2135.66" r="1.76"/><circle cx="542.16" cy="2088.31" r="1.97"/><circle cx="504.57" cy="2094.66" r="1.42"/><circle cx="642.07" cy="1968.51" r="1.75"/><circle cx="584.05" cy="2213.89" r="2.09"/><circle cx="67.03" cy="1937.37" r="1.48"/><circle cx="310.14" cy="1866.36" r="1.7"/><circle cx="113.23" cy="1933.12" r="2.05"/><circle cx="531.95" cy="2000.96" r="1.3"/><circle cx="666.91" cy="2103.57" r="1.39"/><circle cx="274.81" cy="2077.08" r="1.81"/><circle cx="227.79" cy="2208.59" r="1.49"/><circle cx="223.6" cy="2163.63" r="1.34"/><circle cx="493.29" cy="1889.49" r="1.74"/><circle cx="238.24" cy="1965.56" r="2.05"/></g>
<path d="M150.76 1827.35 C155.3 1828.93 169.07 1832.08 178.03 1836.82 C186.99 1841.55 196.97 1848.81 204.55 1855.76 C212.12 1862.7 218.43 1869.02 223.48 1878.48 C228.54 1887.95 231.69 1902.47 234.85 1912.58 C238.01 1922.68 239.27 1929.62 242.42 1939.09 C245.58 1948.56 248.74 1959.29 253.79 1969.39 C258.84 1979.49 265.78 1990.23 272.73 1999.7 C279.67 2009.17 287.25 2017.37 295.45 2026.21 C303.66 2035.05 313.13 2045.78 321.97 2052.73 C330.81 2059.67 341.54 2063.46 348.48 2067.88 C355.43 2072.3 358.59 2074.19 363.64 2079.24 C368.69 2084.29 372.47 2091.87 378.79 2098.18 C385.1 2104.49 393.31 2110.18 401.52 2117.12 C409.72 2124.07 419.19 2132.27 428.03 2139.85 C436.87 2147.42 445.71 2155.63 454.55 2162.58 C463.38 2169.52 472.22 2175.2 481.06 2181.52 C489.9 2187.83 497.47 2194.77 507.58 2200.45 C517.68 2206.14 535.98 2213.08 541.67 2215.61" fill="none" stroke="#6c6d70" stroke-width="1.6" stroke-linecap="round" stroke-linejoin="round"/>
<path d="M369.32 2071.67 C373.42 2069.77 386.05 2064.72 393.94 2060.3 C401.83 2055.88 410.35 2050.83 416.67 2045.15 C422.98 2039.47 426.77 2030.51 431.82 2026.21 C436.87 2021.92 441.79 2020.03 446.97 2019.39 C452.15 2018.76 459.41 2018.13 462.88 2022.42 C466.35 2026.72 466.04 2037.58 467.8 2045.15 C469.57 2052.73 471.28 2060.3 473.48 2067.88 C475.69 2075.45 480.11 2083.03 481.06 2090.61 C482.01 2098.18 481.06 2108.91 479.17 2113.33 C477.27 2117.75 471.28 2116.49 469.7 2117.12" fill="none" stroke="#6c6d70" stroke-width="1.6" stroke-linecap="round" stroke-linejoin="round"/>
<path d="M333.33 1808.41 C337.75 1811.25 349.12 1820.72 359.85 1825.45 C370.58 1830.19 385.1 1832.4 397.73 1836.82 C410.35 1841.24 423.61 1846.6 435.61 1851.97 C447.6 1857.34 464.02 1866.17 469.7 1869.02" fill="none" stroke="#6c6d70" stroke-width="1.6" stroke-linecap="round" stroke-linejoin="round"/>
<path d="M492.42 1806.52 C494.32 1811.57 498.74 1827.98 503.79 1836.82 C508.84 1845.66 516.41 1851.97 522.73 1859.55 C529.04 1867.12 535.35 1875.33 541.67 1882.27 C547.98 1889.22 557.45 1898.06 560.61 1901.21" fill="none" stroke="#6c6d70" stroke-width="1.6" stroke-linecap="round" stroke-linejoin="round"/>
<path d="M429.92 1942.88 C430.24 1945.4 428.35 1955.51 431.82 1958.03 C435.29 1960.56 445.08 1959.92 450.76 1958.03 C456.44 1956.14 460.23 1947.93 465.91 1946.67 C471.59 1945.4 478.54 1947.3 484.85 1950.45 C491.16 1953.61 496.21 1959.92 503.79 1965.61 C511.36 1971.29 522.73 1977.6 530.3 1984.55 C537.88 1991.49 542.93 1998.43 549.24 2007.27 C555.56 2016.11 562.5 2028.74 568.18 2037.58 C573.86 2046.41 578.91 2051.46 583.33 2060.3 C587.75 2069.14 591.54 2081.77 594.7 2090.61 C597.85 2099.44 600.38 2107.02 602.27 2113.33 C604.17 2119.65 605.43 2125.96 606.06 2128.48" fill="none" stroke="#6c6d70" stroke-width="1.6" stroke-linecap="round" stroke-linejoin="round"/>
<path d="M609.85 1999.7 C611.11 1995.91 615.53 1985.18 617.42 1976.97 C619.32 1968.76 618.06 1958.66 621.21 1950.45 C624.37 1942.25 631.31 1932.15 636.36 1927.73 C641.41 1923.31 645.83 1923.94 651.52 1923.94 C657.2 1923.94 665.4 1924.57 670.45 1927.73 C675.51 1930.88 679.29 1937.83 681.82 1942.88 C684.34 1947.93 684.97 1955.51 685.61 1958.03" fill="none" stroke="#6c6d70" stroke-width="1.6" stroke-linecap="round" stroke-linejoin="round"/>
<path d="M70.08 1958.03 C72.92 1959.29 80.49 1963.71 87.12 1965.61 C93.75 1967.5 101.01 1969.39 109.85 1969.39 C118.69 1969.39 131.94 1968.13 140.15 1965.61 C148.36 1963.08 153.41 1957.08 159.09 1954.24 C164.77 1951.4 168.56 1949.19 174.24 1948.56 C179.92 1947.93 188.13 1948.88 193.18 1950.45 C198.23 1952.03 202.15 1951.72 204.55 1958.03 C206.94 1964.34 207.26 1978.23 207.58 1988.33 C207.89 1998.43 206.63 2013.59 206.44 2018.64" fill="none" stroke="#6c6d70" stroke-width="1.6" stroke-linecap="round" stroke-linejoin="round"/>
<path d="M68.18 1961.82 C68.81 1964.97 68.81 1973.81 71.97 1980.76 C75.13 1987.7 82.7 1997.17 87.12 2003.48 C91.54 2009.8 94.07 2014.22 98.48 2018.64 C102.9 2023.06 111.11 2028.11 113.64 2030" fill="none" stroke="#6c6d70" stroke-width="1.6" stroke-linecap="round" stroke-linejoin="round"/>
<path d="M89.02 1808.41 C88.38 1811.25 87.44 1820.09 85.23 1825.45 C83.02 1830.82 78.91 1836.82 75.76 1840.61 C72.6 1844.39 67.87 1846.92 66.29 1848.18" fill="none" stroke="#6c6d70" stroke-width="1.6" stroke-linecap="round" stroke-linejoin="round"/>
<path d="M66.29 2139.85 C69.13 2143.01 77.97 2151.84 83.33 2158.79 C88.7 2165.73 94.07 2173.94 98.48 2181.52 C102.9 2189.09 106.69 2196.67 109.85 2204.24 C113.01 2211.82 116.16 2223.18 117.42 2226.97" fill="none" stroke="#6c6d70" stroke-width="1.6" stroke-linecap="round" stroke-linejoin="round"/>
<path d="M299.24 2196.67 C299.87 2199.82 300.51 2210.56 303.03 2215.61 C305.56 2220.66 312.5 2225.08 314.39 2226.97" fill="none" stroke="#6c6d70" stroke-width="1.6" stroke-linecap="round" stroke-linejoin="round"/>
<path d="M659.09 2162.58 C660.98 2161 665.4 2154.68 670.45 2153.11 C675.51 2151.53 686.24 2153.11 689.39 2153.11" fill="none" stroke="#6c6d70" stroke-width="1.6" stroke-linecap="round" stroke-linejoin="round"/>
<path d="M657.2 2177.73 C658.14 2180.88 659.41 2190.35 662.88 2196.67 C666.35 2202.98 674.24 2210.56 678.03 2215.61 C681.82 2220.66 684.34 2225.08 685.61 2226.97" fill="none" stroke="#6c6d70" stroke-width="1.6" stroke-linecap="round" stroke-linejoin="round"/>
<path d="M178.03 2143.64 C178.66 2139.85 180.56 2125.33 181.82 2120.91 C183.08 2116.49 184.97 2117.75 185.61 2117.12" fill="none" stroke="#6c6d70" stroke-width="1.6" stroke-linecap="round" stroke-linejoin="round"/>
<path d="M284.09 1808.41 L291.67 1821.67" fill="none" stroke="#6c6d70" stroke-width="1.6" stroke-linecap="round" stroke-linejoin="round"/>
<path d="M532.2 1929.62 L534.09 1942.88" fill="none" stroke="#6c6d70" stroke-width="1.6" stroke-linecap="round" stroke-linejoin="round"/>
</g>
<rect x="64" y="1805.6" width="629.7" height="422.7" fill="none" stroke="#2a2a2c" stroke-width="2"/>
<clipPath id="in1"><rect x="602.8" y="1804.6" width="92.2" height="86.8"/></clipPath>
<g clip-path="url(#in1)">
<rect x="602.8" y="1804.6" width="92.2" height="86.8" fill="#e6e6e7"/>
<g filter="url(#blur2)">
<circle cx="615.19" cy="1878.16" r="4.41" fill="#c4c4c6"/>
<circle cx="626.32" cy="1847.6" r="3.62" fill="#c4c4c6"/>
<circle cx="662.88" cy="1873.06" r="2.73" fill="#c4c4c6"/>
<circle cx="605.41" cy="1877.14" r="3.58" fill="#c4c4c6"/>
<circle cx="673.08" cy="1804.78" r="3.61" fill="#c4c4c6"/>
<circle cx="669.33" cy="1824.46" r="4.86" fill="#c4c4c6"/>
<circle cx="685.91" cy="1807.26" r="2.56" fill="#c4c4c6"/>
<circle cx="652.72" cy="1886.12" r="3.45" fill="#c4c4c6"/>
<circle cx="622.77" cy="1841.24" r="2.57" fill="#c4c4c6"/>
<circle cx="623.24" cy="1842.61" r="3.74" fill="#c4c4c6"/>
<circle cx="624.29" cy="1824.64" r="3.05" fill="#c4c4c6"/>
<circle cx="645.18" cy="1829.75" r="2.55" fill="#c4c4c6"/>
<circle cx="680.02" cy="1852.9" r="4.11" fill="#c4c4c6"/>
<circle cx="619.94" cy="1890.75" r="4.65" fill="#c4c4c6"/>
<circle cx="613.95" cy="1833.48" r="4.3" fill="#c4c4c6"/>
<circle cx="668.37" cy="1885.88" r="3.56" fill="#c4c4c6"/>
<circle cx="679.33" cy="1862.78" r="3.26" fill="#c4c4c6"/>
<circle cx="656.97" cy="1881.2" r="4.62" fill="#c4c4c6"/>
<circle cx="649.39" cy="1855.73" r="2.59" fill="#c4c4c6"/>
<circle cx="625.18" cy="1873.81" r="3.54" fill="#c4c4c6"/>
<circle cx="618.75" cy="1852.24" r="4.26" fill="#c4c4c6"/>
<circle cx="664.99" cy="1837.12" r="3.6" fill="#c4c4c6"/>
<circle cx="630" cy="1810" r="6" fill="#555"/>
<circle cx="636" cy="1822" r="6" fill="#4a4a4c"/>
<circle cx="641" cy="1842" r="4.5" fill="#333"/>
<circle cx="653" cy="1834" r="4.5" fill="#3a3a3c"/>
<circle cx="646.5" cy="1853" r="7" fill="#8a8a8c" stroke="#3a3a3c" stroke-width="4"/>
<circle cx="658" cy="1852" r="4" fill="#444"/>
<circle cx="617" cy="1859.5" r="3.8" fill="#555"/>
<circle cx="626" cy="1861" r="3.5" fill="#555"/>
<circle cx="644" cy="1865" r="4" fill="#4a4a4c"/>
<circle cx="667" cy="1861" r="4" fill="#555"/>
<circle cx="677" cy="1870" r="5" fill="#4a4a4c"/>
<circle cx="683" cy="1877" r="4.5" fill="#555"/>
<circle cx="691" cy="1887" r="4" fill="#555"/>
<circle cx="609" cy="1878.5" r="4" fill="#444"/>
<circle cx="685" cy="1820" r="3" fill="#999"/>
</g></g>
<rect x="603.9" y="1805.7" width="90" height="84.6" fill="none" stroke="#1f1f21" stroke-width="2.2"/>
<path d="M378.8 2117.1 L398.5 2160.7 L378.8 2153.1 L359.8 2161.8 Z" fill="#231f20" stroke="none" stroke-width="1"/>
<text x="250" y="1900.5" font-size="24" text-anchor="middle">P</text>
<text x="488.6" y="2046" font-size="24" text-anchor="middle">D</text>
<text x="500" y="2182.5" font-size="24" text-anchor="middle">D</text>
<rect x="556.8" y="2194.8" width="105.3" height="6.8" fill="#231f20"/>
<clipPath id="c22"><rect x="701.2" y="1804.6" width="630.7" height="424.7"/></clipPath>
<g clip-path="url(#c22)">
<rect x="701.2" y="1804.6" width="630.7" height="424.7" fill="#e0e1e3"/>
<rect x="701.2" y="1804.6" width="630.7" height="424.7" fill="#000" filter="url(#grain)" opacity="0.3"/>
<rect x="701.2" y="1804.6" width="630.7" height="424.7" fill="url(#spat0)"/>
<g fill="#707174" opacity="0.8"><circle cx="1305.54" cy="1864.21" r="1.22"/><circle cx="1331.04" cy="1882.85" r="1.31"/><circle cx="1112.05" cy="1951.4" r="2"/><circle cx="847.36" cy="2212.09" r="1.49"/><circle cx="1080.34" cy="2200.46" r="1.82"/><circle cx="1283.87" cy="2105.34" r="1.24"/><circle cx="1257.08" cy="2054.98" r="1.48"/><circle cx="821.12" cy="2165.51" r="1.72"/><circle cx="1292.79" cy="2133.3" r="2.07"/><circle cx="1058.37" cy="2101.2" r="1.75"/><circle cx="864.18" cy="2210.92" r="1.48"/><circle cx="1193.85" cy="2210.03" r="1.79"/><circle cx="790.9" cy="2155.07" r="1.8"/><circle cx="817.9" cy="1825.46" r="1.68"/><circle cx="721.55" cy="2197.48" r="1.66"/><circle cx="1027.47" cy="1978.49" r="1.79"/><circle cx="1279.21" cy="1935.11" r="1.54"/><circle cx="1068.64" cy="1930.87" r="1.74"/><circle cx="1043.75" cy="1988.7" r="1.81"/><circle cx="1034.36" cy="1842.02" r="2.1"/><circle cx="925.54" cy="1987.97" r="1.56"/><circle cx="1287.44" cy="2208.98" r="1.66"/><circle cx="953.9" cy="1845.61" r="2.01"/><circle cx="809.3" cy="2036.75" r="1.51"/><circle cx="908.25" cy="1956.31" r="1.37"/><circle cx="724.52" cy="2032.01" r="1.92"/><circle cx="1109.31" cy="1890.18" r="1.82"/><circle cx="734.05" cy="1979.04" r="1.95"/><circle cx="1282.08" cy="2000.21" r="1.96"/><circle cx="1015.62" cy="2027.12" r="1.73"/><circle cx="1326.4" cy="2120.44" r="1.63"/><circle cx="1159.88" cy="2077.8" r="1.52"/><circle cx="1195.78" cy="2152.77" r="1.75"/><circle cx="1295.78" cy="1812.33" r="1.65"/><circle cx="1101.43" cy="1949.24" r="1.35"/><circle cx="1137.69" cy="1989.09" r="1.44"/><circle cx="727.61" cy="2215.34" r="1.52"/><circle cx="775.68" cy="1896.48" r="1.43"/><circle cx="1247.51" cy="1881.32" r="1.45"/><circle cx="762.6" cy="2004.19" r="1.39"/><circle cx="918.24" cy="2116.71" r="2.03"/><circle cx="1227.3" cy="1820.86" r="1.54"/><circle cx="1236.63" cy="1818.6" r="1.38"/><circle cx="1010.24" cy="1967.02" r="1.88"/><circle cx="1154.13" cy="2001.86" r="1.42"/><circle cx="846.73" cy="1917.69" r="1.26"/><circle cx="1121.09" cy="1871.61" r="2"/><circle cx="1108.6" cy="1828.72" r="1.65"/><circle cx="1081.93" cy="1822.55" r="1.64"/><circle cx="720.02" cy="2130.04" r="1.2"/><circle cx="1099.8" cy="2223.16" r="1.96"/><circle cx="848.35" cy="2031.62" r="1.33"/><circle cx="917.08" cy="2171.48" r="1.94"/><circle cx="706.94" cy="1965.94" r="1.78"/><circle cx="811.88" cy="2145.47" r="2"/><circle cx="1048.97" cy="1958.37" r="1.96"/><circle cx="1024.64" cy="1884.59" r="1.45"/><circle cx="801.56" cy="2160.8" r="1.66"/><circle cx="1140.59" cy="2151.73" r="2.08"/><circle cx="821.35" cy="1976.91" r="1.99"/><circle cx="1181.6" cy="1968.85" r="1.79"/><circle cx="824.18" cy="1873.29" r="1.25"/><circle cx="940.68" cy="1904.81" r="1.67"/><circle cx="1312.67" cy="1869.52" r="1.7"/><circle cx="1246.54" cy="2058.74" r="1.67"/><circle cx="1185.45" cy="1813.87" r="2.05"/><circle cx="1134.16" cy="2147.18" r="1.94"/><circle cx="763.37" cy="1832.89" r="1.36"/><circle cx="1019.57" cy="2203.12" r="2.02"/><circle cx="961.03" cy="2068.94" r="1.87"/><circle cx="910.84" cy="2216.77" r="2.05"/><circle cx="1159.69" cy="2187.44" r="1.92"/><circle cx="1112.55" cy="1941.07" r="1.45"/><circle cx="851.61" cy="1828.97" r="2.03"/><circle cx="889.37" cy="1814.74" r="1.48"/><circle cx="766.27" cy="1993.66" r="1.5"/><circle cx="811.88" cy="2007.08" r="1.57"/><circle cx="924.5" cy="2149.99" r="1.48"/><circle cx="1042.56" cy="2177.46" r="2.06"/><circle cx="937.56" cy="1821.8" r="2.06"/><circle cx="1025.47" cy="1897.01" r="1.32"/><circle cx="851.94" cy="1936.46" r="1.32"/><circle cx="732.11" cy="2226.93" r="1.94"/><circle cx="772.67" cy="2008.77" r="1.92"/><circle cx="1019.38" cy="1833.99" r="1.51"/><circle cx="941.29" cy="2192.99" r="1.72"/><circle cx="990.68" cy="2072.44" r="1.24"/><circle cx="1133.98" cy="2147.76" r="1.8"/><circle cx="928.8" cy="1926.05" r="1.21"/><circle cx="752.93" cy="1870.25" r="1.61"/><circle cx="1192.06" cy="1896.82" r="1.63"/></g>
<path d="M1005 1815.98 C1005.44 1822.61 1006.89 1842.82 1007.65 1855.76 C1008.41 1868.7 1009.36 1881.01 1009.55 1893.64 C1009.73 1906.26 1009.1 1918.89 1008.79 1931.52 C1008.47 1944.14 1007.53 1956.77 1007.65 1969.39 C1007.78 1982.02 1008.6 1995.28 1009.55 2007.27 C1010.49 2019.27 1011.44 2031.89 1013.33 2041.36 C1015.23 2050.83 1018.38 2055.88 1020.91 2064.09 C1023.43 2072.3 1025.96 2081.14 1028.48 2090.61 C1031.01 2100.08 1033.54 2112.07 1036.06 2120.91 C1038.59 2129.75 1041.43 2136.06 1043.64 2143.64 C1045.85 2151.21 1047.42 2158.79 1049.32 2166.36 C1051.21 2173.94 1052.16 2181.52 1055 2189.09 C1057.84 2196.67 1062.58 2206.14 1066.36 2211.82 C1070.15 2217.5 1073.31 2221.29 1077.73 2223.18 C1082.15 2225.08 1088.46 2223.81 1092.88 2223.18 C1097.3 2222.55 1101.72 2223.81 1104.24 2219.39 C1106.77 2214.97 1106.77 2203.61 1108.03 2196.67 C1109.29 2189.72 1109.92 2183.41 1111.82 2177.73 C1113.71 2172.05 1116.24 2166.05 1119.39 2162.58 C1122.55 2159.1 1129.49 2160.68 1130.76 2156.89 C1132.02 2153.11 1128.55 2145.85 1126.97 2139.85 C1125.39 2133.85 1123.18 2127.22 1121.29 2120.91 C1119.39 2114.6 1116.55 2105.13 1115.61 2101.97" fill="none" stroke="#6c6d70" stroke-width="1.6" stroke-linecap="round" stroke-linejoin="round"/>
<path d="M803.11 2001.59 C804.05 2003.8 805.95 2010.74 808.79 2014.85 C811.63 2018.95 817.63 2021.16 820.15 2026.21 C822.68 2031.26 822.68 2038.21 823.94 2045.15 C825.2 2052.1 825.83 2061.57 827.73 2067.88 C829.62 2074.19 831.52 2078.61 835.3 2083.03 C839.09 2087.45 846.04 2092.18 850.45 2094.39 C854.87 2096.6 857.4 2096.92 861.82 2096.29 C866.24 2095.66 872.55 2093.45 876.97 2090.61 C881.39 2087.77 884.55 2082.4 888.33 2079.24 C892.12 2076.09 895.28 2072.93 899.7 2071.67 C904.12 2070.4 911.06 2072.93 914.85 2071.67 C918.64 2070.4 920.21 2067.25 922.42 2064.09 C924.63 2060.93 926.84 2057.15 928.11 2052.73 C929.37 2048.31 928.42 2042.63 930 2037.58 C931.58 2032.53 934.42 2026.84 937.58 2022.42 C940.73 2018.01 944.52 2013.59 948.94 2011.06 C953.36 2008.54 959.04 2007.27 964.09 2007.27 C969.14 2007.27 974.19 2009.17 979.24 2011.06 C984.29 2012.95 989.97 2015.48 994.39 2018.64 C998.81 2021.79 1002.6 2026.21 1005.76 2030 C1008.91 2033.79 1012.07 2039.47 1013.33 2041.36" fill="none" stroke="#6c6d70" stroke-width="1.6" stroke-linecap="round" stroke-linejoin="round"/>
<path d="M714.09 1810.3 C715.35 1817.88 718.51 1841.87 721.67 1855.76 C724.82 1869.65 729.87 1881.01 733.03 1893.64 C736.19 1906.26 737.45 1918.89 740.61 1931.52 C743.76 1944.14 747.87 1956.77 751.97 1969.39 C756.07 1982.02 763.02 2000.96 765.23 2007.27" fill="none" stroke="#6c6d70" stroke-width="1.6" stroke-linecap="round" stroke-linejoin="round"/>
<path d="M704.62 2060.3 C706.83 2064.09 713.78 2075.45 717.88 2083.03 C721.98 2090.61 724.82 2098.18 729.24 2105.76 C733.66 2113.33 740.61 2121.54 744.39 2128.48 C748.18 2135.43 750.08 2141.11 751.97 2147.42 C753.86 2153.74 757.02 2160.68 755.76 2166.36 C754.49 2172.05 748.81 2177.1 744.39 2181.52 C739.97 2185.93 735.56 2190.35 729.24 2192.88 C722.93 2195.4 710.3 2196.04 706.52 2196.67" fill="none" stroke="#6c6d70" stroke-width="1.6" stroke-linecap="round" stroke-linejoin="round"/>
<path d="M823.94 1806.52 C824.89 1810.3 828.04 1821.98 829.62 1829.24 C831.2 1836.5 832.78 1846.6 833.41 1850.08" fill="none" stroke="#6c6d70" stroke-width="1.6" stroke-linecap="round" stroke-linejoin="round"/>
<path d="M1301.21 2151.21 C1301.84 2156.26 1303.42 2172.05 1305 2181.52 C1306.58 2190.98 1309.1 2200.77 1310.68 2208.03 C1312.26 2215.29 1313.84 2222.23 1314.47 2225.08" fill="none" stroke="#6c6d70" stroke-width="1.6" stroke-linecap="round" stroke-linejoin="round"/>
<path d="M1145.91 1806.52 C1147.17 1807.78 1151.28 1813.46 1153.48 1814.09 C1155.69 1814.72 1158.22 1810.93 1159.17 1810.3" fill="none" stroke="#6c6d70" stroke-width="1.6" stroke-linecap="round" stroke-linejoin="round"/>
<path d="M721.67 1944.77 L759.55 1935.3" fill="none" stroke="#6c6d70" stroke-width="1.6" stroke-linecap="round" stroke-linejoin="round"/>
<path d="M1248.18 1980.76 L1269.02 1978.86" fill="none" stroke="#6c6d70" stroke-width="1.6" stroke-linecap="round" stroke-linejoin="round"/>
</g>
<rect x="702.2" y="1805.6" width="628.7" height="422.7" fill="none" stroke="#2a2a2c" stroke-width="2"/>
<clipPath id="in2"><rect x="1240.3" y="1804.6" width="92.3" height="86.8"/></clipPath>
<g clip-path="url(#in2)">
<rect x="1240.3" y="1804.6" width="92.3" height="86.8" fill="#e6e6e7"/>
<g filter="url(#blur2)">
<circle cx="1328.54" cy="1886.87" r="2.64" fill="#c4c4c6"/>
<circle cx="1248.13" cy="1877.12" r="4.34" fill="#c4c4c6"/>
<circle cx="1302.12" cy="1831.35" r="4.01" fill="#c4c4c6"/>
<circle cx="1296.31" cy="1855.05" r="2.9" fill="#c4c4c6"/>
<circle cx="1280.05" cy="1838.76" r="4.31" fill="#c4c4c6"/>
<circle cx="1332.12" cy="1887.01" r="3.86" fill="#c4c4c6"/>
<circle cx="1281.36" cy="1827.88" r="2.59" fill="#c4c4c6"/>
<circle cx="1242.83" cy="1844.95" r="3.3" fill="#c4c4c6"/>
<circle cx="1275.38" cy="1882.01" r="3.81" fill="#c4c4c6"/>
<circle cx="1292.04" cy="1825.1" r="2.56" fill="#c4c4c6"/>
<circle cx="1270.31" cy="1816.47" r="3.78" fill="#c4c4c6"/>
<circle cx="1332.48" cy="1863.14" r="2.95" fill="#c4c4c6"/>
<circle cx="1322.78" cy="1873.76" r="4.34" fill="#c4c4c6"/>
<circle cx="1323.98" cy="1870.82" r="4.47" fill="#c4c4c6"/>
<circle cx="1272.95" cy="1889.75" r="4.9" fill="#c4c4c6"/>
<circle cx="1255.18" cy="1870.05" r="4.29" fill="#c4c4c6"/>
<circle cx="1282.89" cy="1850.63" r="3.73" fill="#c4c4c6"/>
<circle cx="1325.66" cy="1848.07" r="4.58" fill="#c4c4c6"/>
<circle cx="1272.97" cy="1881.23" r="4.75" fill="#c4c4c6"/>
<circle cx="1282.85" cy="1853.88" r="4.8" fill="#c4c4c6"/>
<circle cx="1307.1" cy="1846.84" r="3.05" fill="#c4c4c6"/>
<circle cx="1270.27" cy="1865.32" r="2.92" fill="#c4c4c6"/>
<circle cx="1247" cy="1843" r="5" fill="#4a4a4c"/>
<circle cx="1260.5" cy="1846" r="5" fill="#4a4a4c"/>
<circle cx="1286" cy="1848.5" r="8" fill="#8a8a8c" stroke="#2e2e30" stroke-width="5.5"/>
<circle cx="1304" cy="1863" r="5" fill="#4a4a4c"/>
<circle cx="1321.5" cy="1865" r="5" fill="#4a4a4c"/>
<circle cx="1329" cy="1876" r="4.5" fill="#555"/>
<circle cx="1276.6" cy="1832.5" r="3" fill="#777"/>
<circle cx="1302" cy="1821.6" r="3" fill="#888"/>
<circle cx="1296" cy="1858" r="4" fill="#555"/>
</g></g>
<rect x="1241.4" y="1805.7" width="90.1" height="84.6" fill="none" stroke="#1f1f21" stroke-width="2.2"/>
<path d="M957.7 1948.6 L976.2 1958 L995.5 1949.3 L975.5 1992.1 Z" fill="#231f20" stroke="none" stroke-width="1"/>
<text x="1030.4" y="1880" font-size="24" text-anchor="middle">P</text>
<text x="850.5" y="2068.6" font-size="24" text-anchor="middle">D</text>
<text x="1083.4" y="2164.4" font-size="24" text-anchor="middle">D</text>
<rect x="1195.2" y="2194.8" width="104.5" height="6.8" fill="#231f20"/>
<clipPath id="c23"><rect x="1339" y="1804.6" width="631" height="424.7"/></clipPath>
<g clip-path="url(#c23)">
<rect x="1339" y="1804.6" width="631" height="424.7" fill="#e0e1e3"/>
<rect x="1339" y="1804.6" width="631" height="424.7" fill="#000" filter="url(#grain)" opacity="0.3"/>
<rect x="1339" y="1804.6" width="631" height="424.7" fill="url(#spat0)"/>
<g fill="#707174" opacity="0.8"><circle cx="1922.59" cy="2207.47" r="2"/><circle cx="1391.72" cy="2056.03" r="1.58"/><circle cx="1673.49" cy="1859.94" r="1.37"/><circle cx="1619.53" cy="1898.48" r="1.61"/><circle cx="1354.63" cy="1841.03" r="1.84"/><circle cx="1604.81" cy="2022.32" r="1.86"/><circle cx="1565.53" cy="1829.04" r="1.9"/><circle cx="1710.74" cy="2084.02" r="1.76"/><circle cx="1951.53" cy="1958.68" r="1.88"/><circle cx="1571.64" cy="2047.55" r="1.79"/><circle cx="1537.38" cy="1841.01" r="1.63"/><circle cx="1792" cy="2055.43" r="1.6"/><circle cx="1744.34" cy="1881.91" r="1.36"/><circle cx="1543.07" cy="2151.1" r="1.38"/><circle cx="1411.12" cy="1846.48" r="1.24"/><circle cx="1512.88" cy="2047.88" r="1.94"/><circle cx="1547.74" cy="1961.59" r="1.46"/><circle cx="1531.32" cy="2134.84" r="1.69"/><circle cx="1502.06" cy="1850.1" r="1.91"/><circle cx="1785.21" cy="2156.49" r="1.41"/><circle cx="1683.2" cy="2194.79" r="1.73"/><circle cx="1935.59" cy="1875.64" r="2.08"/><circle cx="1374.29" cy="1981.37" r="1.22"/><circle cx="1849.83" cy="2096.46" r="2.08"/><circle cx="1846.93" cy="2207.57" r="1.68"/><circle cx="1962.57" cy="2122.71" r="1.51"/><circle cx="1953.84" cy="1964.71" r="1.37"/><circle cx="1386.88" cy="2002.49" r="1.38"/><circle cx="1928.09" cy="2208.26" r="1.39"/><circle cx="1404.31" cy="2029.25" r="1.35"/><circle cx="1682.04" cy="2149.81" r="1.43"/><circle cx="1605.13" cy="2187.2" r="1.6"/><circle cx="1555.29" cy="2183.57" r="1.93"/><circle cx="1903.86" cy="2096.69" r="1.57"/><circle cx="1776.3" cy="2157.02" r="1.78"/><circle cx="1489.45" cy="1929.99" r="1.57"/><circle cx="1825.92" cy="2041.2" r="1.69"/><circle cx="1860.55" cy="1850.66" r="1.77"/><circle cx="1548.81" cy="2042.16" r="1.95"/><circle cx="1495.71" cy="2208.71" r="1.27"/><circle cx="1693.64" cy="2034.71" r="1.41"/><circle cx="1692.9" cy="2004.52" r="1.6"/><circle cx="1792.3" cy="1806.27" r="1.54"/><circle cx="1834.71" cy="1864.85" r="1.98"/><circle cx="1467.47" cy="2093.87" r="1.36"/><circle cx="1622.52" cy="1984.06" r="1.27"/><circle cx="1780.45" cy="2008.53" r="1.82"/><circle cx="1679.19" cy="2040.68" r="1.67"/><circle cx="1526.91" cy="2186.3" r="1.28"/><circle cx="1892.14" cy="2171.31" r="1.65"/><circle cx="1829.25" cy="2090.58" r="1.74"/><circle cx="1523.02" cy="1940.35" r="1.51"/><circle cx="1529.67" cy="2212.19" r="1.51"/><circle cx="1583.54" cy="1982.79" r="1.93"/><circle cx="1640.47" cy="2039.78" r="1.43"/><circle cx="1514.46" cy="1842.44" r="1.4"/><circle cx="1505.51" cy="2166.56" r="1.65"/><circle cx="1408.66" cy="2001.12" r="1.31"/><circle cx="1696.16" cy="1992.37" r="1.97"/><circle cx="1502.6" cy="2165.96" r="1.42"/><circle cx="1959.03" cy="2073.94" r="1.24"/><circle cx="1848.33" cy="1921.67" r="1.53"/><circle cx="1431.49" cy="2160.26" r="1.28"/><circle cx="1804.85" cy="1972.66" r="1.81"/><circle cx="1523.92" cy="1837.84" r="2.02"/><circle cx="1752.15" cy="1876.66" r="2.08"/><circle cx="1914.36" cy="1882.15" r="1.22"/><circle cx="1724.54" cy="1863.7" r="1.86"/><circle cx="1634.86" cy="2105.74" r="1.71"/><circle cx="1825.32" cy="2153.55" r="1.74"/><circle cx="1712.17" cy="1943.42" r="1.32"/><circle cx="1397.36" cy="2168.54" r="1.39"/><circle cx="1608.16" cy="1939.12" r="1.76"/><circle cx="1675.54" cy="2169.43" r="1.59"/><circle cx="1567.36" cy="2081.17" r="1.87"/><circle cx="1922.97" cy="1937.03" r="2"/><circle cx="1958.28" cy="2221.81" r="1.32"/><circle cx="1578.85" cy="2133.31" r="1.95"/><circle cx="1363.93" cy="1972.38" r="1.85"/><circle cx="1817.47" cy="2031.85" r="1.39"/><circle cx="1595.7" cy="1829.46" r="1.48"/><circle cx="1608.67" cy="2154.1" r="1.73"/><circle cx="1600.46" cy="1909.05" r="1.48"/><circle cx="1762.24" cy="1993.79" r="1.36"/><circle cx="1857.51" cy="2049.06" r="2.07"/><circle cx="1677.46" cy="2069.22" r="1.58"/><circle cx="1722.83" cy="2194.83" r="2.08"/><circle cx="1756.06" cy="1987.32" r="1.26"/><circle cx="1869.17" cy="1970.84" r="1.54"/><circle cx="1375.04" cy="1819.09" r="1.55"/><circle cx="1954.05" cy="2119.12" r="1.84"/></g>
<path d="M1501.56 1885.24 C1503.42 1886.9 1509.51 1890.87 1512.68 1895.17 C1515.86 1899.47 1517.98 1905.76 1520.63 1911.06 C1523.28 1916.35 1525.92 1921.65 1528.57 1926.94 C1531.22 1932.24 1532.54 1938.86 1536.51 1942.83 C1540.48 1946.8 1545.78 1948.12 1552.4 1950.77 C1559.02 1953.42 1568.28 1956.07 1576.23 1958.71 C1584.17 1961.36 1593.44 1963.35 1600.06 1966.66 C1606.67 1969.97 1611.31 1974.6 1615.94 1978.57 C1620.57 1982.54 1624.55 1985.85 1627.86 1990.48 C1631.16 1995.12 1633.15 2000.41 1635.8 2006.37 C1638.45 2012.33 1641.09 2018.95 1643.74 2026.23 C1646.39 2033.51 1649.37 2042.77 1651.68 2050.06 C1654 2057.34 1655.66 2063.29 1657.64 2069.91 C1659.63 2076.53 1661.94 2083.15 1663.6 2089.77 C1665.25 2096.39 1665.58 2103.67 1667.57 2109.63 C1669.56 2115.58 1673.66 2120.22 1675.51 2125.51 C1677.37 2130.81 1679.35 2136.1 1678.69 2141.4 C1678.03 2146.69 1674.72 2153.31 1671.54 2157.28 C1668.36 2161.25 1663.6 2163.57 1659.63 2165.23 C1655.66 2166.88 1651.68 2165.89 1647.71 2167.21 C1643.74 2168.54 1639.11 2171.51 1635.8 2173.17 C1632.49 2174.82 1629.18 2176.48 1627.86 2177.14" fill="none" stroke="#6c6d70" stroke-width="1.6" stroke-linecap="round" stroke-linejoin="round"/>
<path d="M1641.76 1986.51 C1641.42 1984.53 1638.78 1978.24 1639.77 1974.6 C1640.76 1970.96 1643.08 1967.32 1647.71 1964.67 C1652.35 1962.02 1660.95 1959.71 1667.57 1958.71 C1674.19 1957.72 1681.47 1957.39 1687.43 1958.71 C1693.38 1960.04 1698.02 1963.35 1703.31 1966.66 C1708.61 1969.97 1714.56 1974.6 1719.2 1978.57 C1723.83 1982.54 1726.48 1986.51 1731.11 1990.48 C1735.75 1994.46 1741.04 1999.09 1747 2002.4 C1752.95 2005.71 1761.56 2008.36 1766.85 2010.34 C1772.15 2012.33 1775.13 2014.64 1778.77 2014.31 C1782.41 2013.98 1785.72 2012.99 1788.7 2008.36 C1791.68 2003.72 1794.99 1993.46 1796.64 1986.51 C1798.29 1979.56 1798.96 1974.6 1798.63 1966.66 C1798.29 1958.71 1796.64 1948.12 1794.65 1938.86 C1792.67 1929.59 1790.02 1919.66 1786.71 1911.06 C1783.4 1902.45 1778.77 1893.85 1774.8 1887.23 C1770.83 1880.61 1767.19 1875.31 1762.88 1871.34 C1758.58 1867.37 1751.3 1864.72 1748.98 1863.4" fill="none" stroke="#6c6d70" stroke-width="1.6" stroke-linecap="round" stroke-linejoin="round"/>
<path d="M1373.69 1807.8 C1372.69 1810.45 1371.04 1818.39 1367.73 1823.69 C1364.42 1828.98 1358.13 1834.94 1353.83 1839.57 C1349.53 1844.2 1343.9 1849.5 1341.91 1851.49" fill="none" stroke="#6c6d70" stroke-width="1.6" stroke-linecap="round" stroke-linejoin="round"/>
<path d="M1341.91 2117.57 C1345.22 2115.25 1355.15 2105.99 1361.77 2103.67 C1368.39 2101.35 1374.35 2101.35 1381.63 2103.67 C1388.91 2105.99 1398.18 2112.61 1405.46 2117.57 C1412.74 2122.53 1419.36 2127.5 1425.31 2133.46 C1431.27 2139.41 1437.23 2146.03 1441.2 2153.31 C1445.17 2160.59 1446.83 2169.2 1449.14 2177.14 C1451.46 2185.08 1453.44 2193.03 1455.1 2200.97 C1456.75 2208.91 1458.41 2220.83 1459.07 2224.8" fill="none" stroke="#6c6d70" stroke-width="1.6" stroke-linecap="round" stroke-linejoin="round"/>
<path d="M1737.07 2167.21 C1738.06 2170.19 1740.71 2178.8 1743.03 2185.08 C1745.34 2191.37 1748.32 2198.32 1750.97 2204.94 C1753.62 2211.56 1757.59 2221.49 1758.91 2224.8" fill="none" stroke="#6c6d70" stroke-width="1.6" stroke-linecap="round" stroke-linejoin="round"/>
<path d="M1838.34 1807.8 C1841.65 1809.12 1851.58 1813.43 1858.2 1815.74 C1864.82 1818.06 1874.74 1820.71 1878.05 1821.7" fill="none" stroke="#6c6d70" stroke-width="1.6" stroke-linecap="round" stroke-linejoin="round"/>
<path d="M1576.23 1988.5 L1590.13 1983.34" fill="none" stroke="#6c6d70" stroke-width="1.6" stroke-linecap="round" stroke-linejoin="round"/>
</g>
<rect x="1340" y="1805.6" width="629" height="422.7" fill="none" stroke="#2a2a2c" stroke-width="2"/>
<clipPath id="in3"><rect x="1878.2" y="1804.6" width="92" height="86.4"/></clipPath>
<g clip-path="url(#in3)">
<rect x="1878.2" y="1804.6" width="92" height="86.4" fill="#e6e6e7"/>
<g filter="url(#blur2)">
<circle cx="1900.09" cy="1851.62" r="3.42" fill="#c4c4c6"/>
<circle cx="1933.76" cy="1858.66" r="2.66" fill="#c4c4c6"/>
<circle cx="1879.41" cy="1876.96" r="3.15" fill="#c4c4c6"/>
<circle cx="1899.76" cy="1890.62" r="3.68" fill="#c4c4c6"/>
<circle cx="1955.15" cy="1845.76" r="4.1" fill="#c4c4c6"/>
<circle cx="1892.06" cy="1859.45" r="4.67" fill="#c4c4c6"/>
<circle cx="1926.33" cy="1868.64" r="4.18" fill="#c4c4c6"/>
<circle cx="1884.09" cy="1870.11" r="3.98" fill="#c4c4c6"/>
<circle cx="1905.92" cy="1807.28" r="4.66" fill="#c4c4c6"/>
<circle cx="1921.69" cy="1866.71" r="4.7" fill="#c4c4c6"/>
<circle cx="1943.9" cy="1884.18" r="3.49" fill="#c4c4c6"/>
<circle cx="1951.88" cy="1843.02" r="4.84" fill="#c4c4c6"/>
<circle cx="1959.06" cy="1813.02" r="2.84" fill="#c4c4c6"/>
<circle cx="1898.16" cy="1888.02" r="3.59" fill="#c4c4c6"/>
<circle cx="1935.85" cy="1830.61" r="3.77" fill="#c4c4c6"/>
<circle cx="1913.7" cy="1834.92" r="3.96" fill="#c4c4c6"/>
<circle cx="1931.95" cy="1882.72" r="4.2" fill="#c4c4c6"/>
<circle cx="1963.66" cy="1878.59" r="4.98" fill="#c4c4c6"/>
<circle cx="1939.96" cy="1818.69" r="4.65" fill="#c4c4c6"/>
<circle cx="1966.95" cy="1882.77" r="3.92" fill="#c4c4c6"/>
<circle cx="1943.87" cy="1822.84" r="4.58" fill="#c4c4c6"/>
<circle cx="1930.96" cy="1829.22" r="2.66" fill="#c4c4c6"/>
<circle cx="1923.7" cy="1855.5" r="8.5" fill="#8a8a8c" stroke="#333335" stroke-width="6"/>
<circle cx="1952.4" cy="1866.6" r="5.5" fill="#555"/>
<circle cx="1963.7" cy="1876" r="6" fill="#666"/>
<circle cx="1907.5" cy="1877.4" r="4.5" fill="#4a4a4c"/>
<circle cx="1891.2" cy="1883" r="6" fill="#4a4a4c"/>
<circle cx="1883" cy="1880" r="4" fill="#777"/>
<circle cx="1894.5" cy="1825" r="3" fill="#999"/>
<circle cx="1904" cy="1826" r="3" fill="#999"/>
<circle cx="1921" cy="1823" r="3" fill="#999"/>
<circle cx="1947" cy="1828" r="3" fill="#999"/>
<circle cx="1894" cy="1840" r="3" fill="#999"/>
<circle cx="1895" cy="1861" r="3" fill="#999"/>
</g></g>
<rect x="1879.3" y="1805.7" width="89.8" height="84.2" fill="none" stroke="#1f1f21" stroke-width="2.2"/>
<path d="M1628.7 2106.5 L1647.7 2115.6 L1667.6 2106.5 L1646.9 2151.3 Z" fill="#231f20" stroke="none" stroke-width="1"/>
<text x="1560.3" y="1929.4" font-size="24" text-anchor="middle">D</text>
<text x="1768" y="1963" font-size="24" text-anchor="middle">P</text>
<text x="1705.3" y="2133" font-size="24" text-anchor="middle">D</text>
<text x="1836.4" y="2187.9" font-size="24" textLength="95.3" lengthAdjust="spacingAndGlyphs">500 nm</text>
<rect x="1832.4" y="2195" width="105.2" height="6.8" fill="#231f20"/>
</svg></body></html>
